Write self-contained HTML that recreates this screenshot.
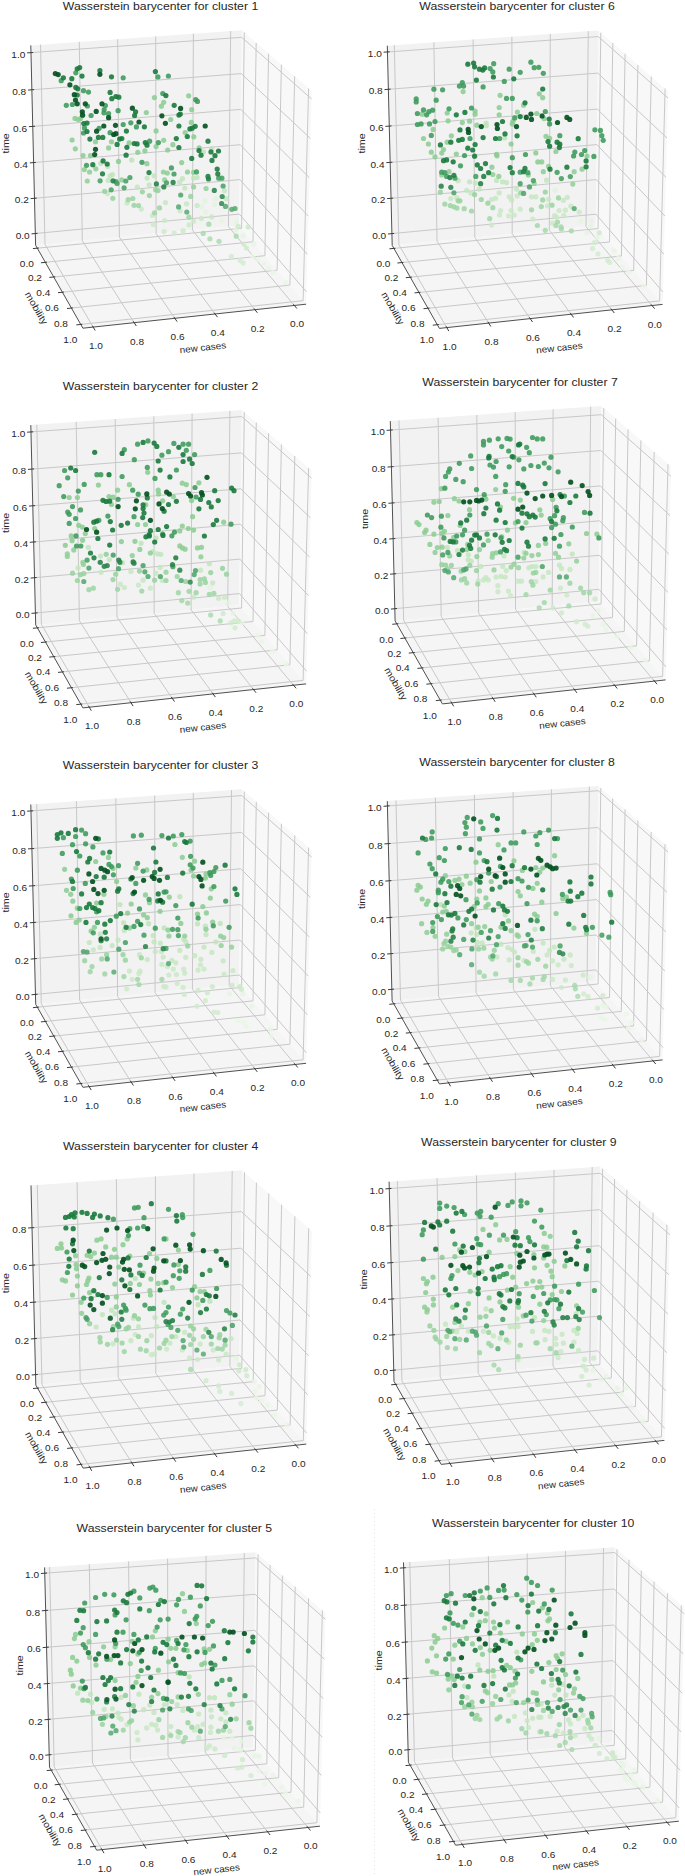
<!DOCTYPE html>
<html><head><meta charset="utf-8"><style>
html,body{margin:0;padding:0;background:#fff;overflow:hidden;}
svg{display:block;}
text{font-family:"Liberation Sans",sans-serif;fill:#262626;}
.tl text{font-size:9.3px;text-anchor:middle;}
.al{font-size:9.4px;text-anchor:middle;}
.tt{font-size:10.9px;text-anchor:middle;}
</style></head><body>
<svg width="685" height="1876" viewBox="0 0 685 1876">
<polygon points="35.6,245.2 239.2,225.5 241.8,30.2 30.8,45.4" fill="#f2f2f2"/>
<polygon points="239.2,225.5 306.1,304.2 311.7,91.1 241.8,30.2" fill="#f8f8f8"/>
<polygon points="35.6,245.2 239.2,225.5 306.1,304.2 82.9,328.2" fill="#f5f5f5"/>
<path d="M294.4 305.5L228.4 226.6L230.7 31.0M254.9 309.7L192.4 230.0L193.4 33.7M215.1 314.0L156.1 233.6L155.7 36.4M174.9 318.3L119.4 237.1L117.7 39.2M134.2 322.7L82.3 240.7L79.3 41.9M93.1 327.1L45.0 244.3L40.5 44.7M37.3 248.2L241.6 228.3L244.3 32.4M45.4 262.3L253.0 241.8L256.2 42.8M53.8 277.0L264.9 255.7L268.6 53.6M62.4 292.2L277.1 270.2L281.4 64.7M71.4 308.0L289.9 285.1L294.7 76.3M80.8 324.4L303.1 300.7L308.6 88.4M35.4 233.5L239.3 214.1L306.4 291.8M34.5 198.3L239.8 179.6L307.4 254.3M33.6 162.6L240.3 144.7L308.4 216.2M32.8 126.4L240.8 109.4L309.4 177.7M31.9 89.8L241.2 73.6L310.5 138.5M31.0 52.6L241.7 37.3L311.5 98.9" fill="none" stroke="#c8c8c8" stroke-width="1.0"/>
<path d="M30.8 45.4L35.6 245.2L82.9 328.2L306.1 304.2" fill="none" stroke="#505050" stroke-width="1.0"/>
<path d="M31.5 233.9L37.6 233.3M30.6 198.6L36.7 198.1M29.8 162.9L35.8 162.4M28.9 126.7L35.0 126.2M28.0 90.1L34.1 89.6M27.1 52.9L33.2 52.5M32.9 248.6L38.8 248.0M40.9 262.8L46.9 262.2M49.3 277.4L55.3 276.8M58.0 292.7L63.9 292.1M67.0 308.5L72.9 307.9M76.3 324.9L82.3 324.3M296.9 308.5L293.4 304.3M257.4 312.8L254.0 308.5M217.5 317.2L214.2 312.8M177.1 321.6L174.0 317.1M136.3 326.0L133.4 321.4M95.2 330.5L92.4 325.8" fill="none" stroke="#3a3a3a" stroke-width="1.0"/>
<g class="tl"><text x="22.7" y="238.7" textLength="14.0" lengthAdjust="spacingAndGlyphs">0.0</text><text x="21.8" y="203.4" textLength="14.0" lengthAdjust="spacingAndGlyphs">0.2</text><text x="20.9" y="167.7" textLength="14.0" lengthAdjust="spacingAndGlyphs">0.4</text><text x="20.1" y="131.6" textLength="14.0" lengthAdjust="spacingAndGlyphs">0.6</text><text x="19.2" y="94.9" textLength="14.0" lengthAdjust="spacingAndGlyphs">0.8</text><text x="18.3" y="57.8" textLength="14.0" lengthAdjust="spacingAndGlyphs">1.0</text><text x="26.8" y="266.8" textLength="14.0" lengthAdjust="spacingAndGlyphs">0.0</text><text x="34.9" y="281.0" textLength="14.0" lengthAdjust="spacingAndGlyphs">0.2</text><text x="43.3" y="295.6" textLength="14.0" lengthAdjust="spacingAndGlyphs">0.4</text><text x="51.9" y="310.9" textLength="14.0" lengthAdjust="spacingAndGlyphs">0.6</text><text x="60.9" y="326.7" textLength="14.0" lengthAdjust="spacingAndGlyphs">0.8</text><text x="70.3" y="343.1" textLength="14.0" lengthAdjust="spacingAndGlyphs">1.0</text><text x="297.1" y="327.4" textLength="14.0" lengthAdjust="spacingAndGlyphs">0.0</text><text x="257.7" y="331.6" textLength="14.0" lengthAdjust="spacingAndGlyphs">0.2</text><text x="217.8" y="335.9" textLength="14.0" lengthAdjust="spacingAndGlyphs">0.4</text><text x="177.6" y="340.2" textLength="14.0" lengthAdjust="spacingAndGlyphs">0.6</text><text x="137.0" y="344.6" textLength="14.0" lengthAdjust="spacingAndGlyphs">0.8</text><text x="95.9" y="349.0" textLength="14.0" lengthAdjust="spacingAndGlyphs">1.0</text></g>
<text class="al" transform="translate(8.8 143.3) rotate(-90)" textLength="20.2" lengthAdjust="spacingAndGlyphs">time</text>
<text class="al" transform="translate(36.5 308.0) rotate(60)" dy="3.4" textLength="36.1" lengthAdjust="spacingAndGlyphs">mobility</text>
<text class="al" transform="translate(202.9 348.3) rotate(-6)" dy="2.5" textLength="46.6" lengthAdjust="spacingAndGlyphs">new cases</text>
<circle cx="216.1" cy="198.7" r="2.6" fill="#e0f3dd" fill-opacity="0.8"/>
<circle cx="214.6" cy="204.5" r="2.6" fill="#e1f3de" fill-opacity="0.8"/>
<circle cx="205.1" cy="200.9" r="2.6" fill="#e1f3dd" fill-opacity="0.8"/>
<circle cx="201.5" cy="206.7" r="2.6" fill="#e1f3de" fill-opacity="0.8"/>
<circle cx="205.8" cy="211.8" r="2.6" fill="#e2f3df" fill-opacity="0.8"/>
<circle cx="221.9" cy="220.6" r="2.6" fill="#e3f4e0" fill-opacity="0.8"/>
<circle cx="236.5" cy="222.0" r="2.6" fill="#e3f4e0" fill-opacity="0.8"/>
<circle cx="243.1" cy="235.9" r="2.6" fill="#e5f5e2" fill-opacity="0.8"/>
<circle cx="254.0" cy="243.9" r="2.6" fill="#e6f5e3" fill-opacity="0.8"/>
<circle cx="252.6" cy="256.4" r="2.6" fill="#e8f6e5" fill-opacity="0.8"/>
<circle cx="257.7" cy="259.3" r="2.6" fill="#e8f6e6" fill-opacity="0.8"/>
<circle cx="264.2" cy="263.6" r="2.6" fill="#e8f6e6" fill-opacity="0.8"/>
<circle cx="273.0" cy="272.4" r="2.6" fill="#e8f6e6" fill-opacity="0.8"/>
<circle cx="268.6" cy="268.0" r="2.6" fill="#e8f6e6" fill-opacity="0.8"/>
<circle cx="286.1" cy="282.6" r="2.6" fill="#e8f6e6" fill-opacity="0.8"/>
<circle cx="235.8" cy="230.1" r="2.6" fill="#e4f4e1" fill-opacity="0.8"/>
<circle cx="203.4" cy="151.9" r="2.6" fill="#bce3b7" fill-opacity="0.82"/>
<circle cx="211.5" cy="148.7" r="2.6" fill="#bce3b7" fill-opacity="0.82"/>
<circle cx="224.5" cy="190.7" r="2.6" fill="#c2e6be" fill-opacity="0.82"/>
<circle cx="226.3" cy="198.7" r="2.6" fill="#c4e6c0" fill-opacity="0.82"/>
<circle cx="211.7" cy="216.9" r="2.6" fill="#c9e8c5" fill-opacity="0.82"/>
<circle cx="201.5" cy="218.4" r="2.6" fill="#c9e9c5" fill-opacity="0.82"/>
<circle cx="238.2" cy="226.4" r="2.6" fill="#cbe9c7" fill-opacity="0.82"/>
<circle cx="248.2" cy="226.9" r="2.6" fill="#cbe9c7" fill-opacity="0.82"/>
<circle cx="243.8" cy="243.9" r="2.6" fill="#cfebcc" fill-opacity="0.82"/>
<circle cx="246.4" cy="248.0" r="2.6" fill="#d0eccd" fill-opacity="0.82"/>
<circle cx="231.4" cy="256.4" r="2.6" fill="#d3eccf" fill-opacity="0.82"/>
<circle cx="240.1" cy="260.4" r="2.6" fill="#d3edd0" fill-opacity="0.82"/>
<circle cx="243.1" cy="262.9" r="2.6" fill="#d3edd0" fill-opacity="0.82"/>
<circle cx="131.7" cy="160.0" r="2.6" fill="#bce3b7" fill-opacity="0.82"/>
<circle cx="147.1" cy="178.1" r="2.6" fill="#bfe4ba" fill-opacity="0.82"/>
<circle cx="154.1" cy="175.8" r="2.6" fill="#bfe4ba" fill-opacity="0.82"/>
<circle cx="179.6" cy="182.2" r="2.6" fill="#c0e5bc" fill-opacity="0.82"/>
<circle cx="182.5" cy="178.7" r="2.6" fill="#bfe4bb" fill-opacity="0.82"/>
<circle cx="149.2" cy="184.8" r="2.6" fill="#c1e5bc" fill-opacity="0.82"/>
<circle cx="137.3" cy="187.2" r="2.6" fill="#c1e5bd" fill-opacity="0.82"/>
<circle cx="193.6" cy="178.1" r="2.6" fill="#bfe4ba" fill-opacity="0.82"/>
<circle cx="197.1" cy="177.5" r="2.6" fill="#bfe4ba" fill-opacity="0.82"/>
<circle cx="184.8" cy="188.0" r="2.6" fill="#c2e5bd" fill-opacity="0.82"/>
<circle cx="127.0" cy="203.0" r="2.6" fill="#c5e7c1" fill-opacity="0.82"/>
<circle cx="141.3" cy="209.1" r="2.6" fill="#c7e8c3" fill-opacity="0.82"/>
<circle cx="165.5" cy="202.6" r="2.6" fill="#c5e7c1" fill-opacity="0.82"/>
<circle cx="152.5" cy="215.5" r="2.6" fill="#c8e8c4" fill-opacity="0.82"/>
<circle cx="180.1" cy="210.8" r="2.6" fill="#c7e8c3" fill-opacity="0.82"/>
<circle cx="186.6" cy="203.8" r="2.6" fill="#c6e7c1" fill-opacity="0.82"/>
<circle cx="197.1" cy="205.5" r="2.6" fill="#c6e7c2" fill-opacity="0.82"/>
<circle cx="164.6" cy="220.5" r="2.6" fill="#cae9c6" fill-opacity="0.82"/>
<circle cx="153.3" cy="224.5" r="2.6" fill="#cbe9c7" fill-opacity="0.82"/>
<circle cx="189.1" cy="224.8" r="2.6" fill="#cbe9c7" fill-opacity="0.82"/>
<circle cx="193.6" cy="221.3" r="2.6" fill="#cae9c6" fill-opacity="0.82"/>
<circle cx="164.1" cy="231.5" r="2.6" fill="#cceac9" fill-opacity="0.82"/>
<circle cx="174.3" cy="233.0" r="2.6" fill="#cdeac9" fill-opacity="0.82"/>
<circle cx="183.1" cy="230.7" r="2.6" fill="#cceac8" fill-opacity="0.82"/>
<circle cx="100.7" cy="163.5" r="2.6" fill="#bce3b7" fill-opacity="0.82"/>
<circle cx="107.7" cy="166.4" r="2.6" fill="#bce3b7" fill-opacity="0.82"/>
<circle cx="110.1" cy="175.8" r="2.6" fill="#bfe4ba" fill-opacity="0.82"/>
<circle cx="112.4" cy="174.6" r="2.6" fill="#bee4ba" fill-opacity="0.82"/>
<circle cx="108.3" cy="180.4" r="2.6" fill="#c0e5bb" fill-opacity="0.82"/>
<circle cx="107.5" cy="193.6" r="2.6" fill="#c3e6bf" fill-opacity="0.82"/>
<circle cx="75.0" cy="118.4" r="2.6" fill="#8acd91" fill-opacity="0.85"/>
<circle cx="78.2" cy="119.6" r="2.6" fill="#8acd91" fill-opacity="0.85"/>
<circle cx="80.6" cy="118.4" r="2.6" fill="#8acd91" fill-opacity="0.85"/>
<circle cx="95.5" cy="141.8" r="2.6" fill="#8acd91" fill-opacity="0.85"/>
<circle cx="111.5" cy="141.8" r="2.6" fill="#8acd91" fill-opacity="0.85"/>
<circle cx="72.1" cy="140.0" r="2.6" fill="#8acd91" fill-opacity="0.85"/>
<circle cx="75.3" cy="148.8" r="2.6" fill="#8acd91" fill-opacity="0.85"/>
<circle cx="108.6" cy="147.9" r="2.6" fill="#8acd91" fill-opacity="0.85"/>
<circle cx="129.1" cy="142.9" r="2.6" fill="#8acd91" fill-opacity="0.85"/>
<circle cx="90.4" cy="155.6" r="2.6" fill="#8acd91" fill-opacity="0.85"/>
<circle cx="83.1" cy="155.6" r="2.6" fill="#8acd91" fill-opacity="0.85"/>
<circle cx="137.8" cy="152.3" r="2.6" fill="#8acd91" fill-opacity="0.85"/>
<circle cx="154.4" cy="97.6" r="2.6" fill="#8acd91" fill-opacity="0.85"/>
<circle cx="163.7" cy="102.3" r="2.6" fill="#8acd91" fill-opacity="0.85"/>
<circle cx="161.4" cy="106.2" r="2.6" fill="#8acd91" fill-opacity="0.85"/>
<circle cx="188.7" cy="95.8" r="2.6" fill="#8acd91" fill-opacity="0.85"/>
<circle cx="191.7" cy="109.7" r="2.6" fill="#8acd91" fill-opacity="0.85"/>
<circle cx="146.3" cy="112.5" r="2.6" fill="#8acd91" fill-opacity="0.85"/>
<circle cx="170.7" cy="119.5" r="2.6" fill="#8acd91" fill-opacity="0.85"/>
<circle cx="156.1" cy="130.9" r="2.6" fill="#8acd91" fill-opacity="0.85"/>
<circle cx="191.3" cy="122.4" r="2.6" fill="#8acd91" fill-opacity="0.85"/>
<circle cx="185.2" cy="132.6" r="2.6" fill="#8acd91" fill-opacity="0.85"/>
<circle cx="193.8" cy="136.8" r="2.6" fill="#8acd91" fill-opacity="0.85"/>
<circle cx="163.7" cy="140.3" r="2.6" fill="#8acd91" fill-opacity="0.85"/>
<circle cx="156.1" cy="146.6" r="2.6" fill="#8acd91" fill-opacity="0.85"/>
<circle cx="172.9" cy="144.7" r="2.6" fill="#8acd91" fill-opacity="0.85"/>
<circle cx="167.7" cy="150.0" r="2.6" fill="#8acd91" fill-opacity="0.85"/>
<circle cx="144.9" cy="150.8" r="2.6" fill="#8acd91" fill-opacity="0.85"/>
<circle cx="199.2" cy="147.9" r="2.6" fill="#8acd91" fill-opacity="0.85"/>
<circle cx="206.1" cy="188.5" r="2.6" fill="#94d19b" fill-opacity="0.85"/>
<circle cx="208.8" cy="224.2" r="2.6" fill="#a4d8a9" fill-opacity="0.85"/>
<circle cx="203.2" cy="233.4" r="2.6" fill="#a7daad" fill-opacity="0.85"/>
<circle cx="209.9" cy="238.8" r="2.6" fill="#aadbaf" fill-opacity="0.85"/>
<circle cx="219.0" cy="241.3" r="2.6" fill="#abdbb0" fill-opacity="0.85"/>
<circle cx="236.2" cy="236.2" r="2.6" fill="#a9daae" fill-opacity="0.85"/>
<circle cx="146.9" cy="163.7" r="2.6" fill="#8acd91" fill-opacity="0.85"/>
<circle cx="181.7" cy="162.6" r="2.6" fill="#8acd91" fill-opacity="0.85"/>
<circle cx="163.4" cy="172.0" r="2.6" fill="#8dce94" fill-opacity="0.85"/>
<circle cx="167.3" cy="173.1" r="2.6" fill="#8dce94" fill-opacity="0.85"/>
<circle cx="187.5" cy="172.0" r="2.6" fill="#8dce94" fill-opacity="0.85"/>
<circle cx="193.6" cy="172.3" r="2.6" fill="#8dce94" fill-opacity="0.85"/>
<circle cx="121.8" cy="179.9" r="2.6" fill="#90d097" fill-opacity="0.85"/>
<circle cx="164.6" cy="179.9" r="2.6" fill="#90d097" fill-opacity="0.85"/>
<circle cx="142.4" cy="191.8" r="2.6" fill="#96d29c" fill-opacity="0.85"/>
<circle cx="149.4" cy="195.6" r="2.6" fill="#97d39d" fill-opacity="0.85"/>
<circle cx="155.6" cy="189.8" r="2.6" fill="#95d29b" fill-opacity="0.85"/>
<circle cx="158.0" cy="190.6" r="2.6" fill="#95d29b" fill-opacity="0.85"/>
<circle cx="193.6" cy="186.9" r="2.6" fill="#93d19a" fill-opacity="0.85"/>
<circle cx="190.7" cy="196.4" r="2.6" fill="#98d39e" fill-opacity="0.85"/>
<circle cx="128.2" cy="199.7" r="2.6" fill="#99d39f" fill-opacity="0.85"/>
<circle cx="132.8" cy="198.5" r="2.6" fill="#98d39f" fill-opacity="0.85"/>
<circle cx="134.0" cy="205.3" r="2.6" fill="#9bd4a1" fill-opacity="0.85"/>
<circle cx="138.5" cy="205.5" r="2.6" fill="#9bd4a1" fill-opacity="0.85"/>
<circle cx="159.5" cy="207.9" r="2.6" fill="#9cd5a2" fill-opacity="0.85"/>
<circle cx="154.5" cy="212.8" r="2.6" fill="#9fd6a4" fill-opacity="0.85"/>
<circle cx="188.9" cy="217.2" r="2.6" fill="#a1d7a6" fill-opacity="0.85"/>
<circle cx="84.4" cy="169.6" r="2.6" fill="#8cce93" fill-opacity="0.85"/>
<circle cx="89.6" cy="172.0" r="2.6" fill="#8dce94" fill-opacity="0.85"/>
<circle cx="95.8" cy="168.8" r="2.6" fill="#8cce93" fill-opacity="0.85"/>
<circle cx="87.3" cy="181.0" r="2.6" fill="#91d097" fill-opacity="0.85"/>
<circle cx="118.5" cy="161.4" r="2.6" fill="#8acd91" fill-opacity="0.85"/>
<circle cx="104.6" cy="191.3" r="2.6" fill="#95d29c" fill-opacity="0.85"/>
<circle cx="112.8" cy="198.3" r="2.6" fill="#98d39e" fill-opacity="0.85"/>
<circle cx="61.2" cy="80.7" r="2.6" fill="#3a9a5a" fill-opacity="0.88"/>
<circle cx="75.8" cy="72.8" r="2.6" fill="#3a9a5a" fill-opacity="0.88"/>
<circle cx="123.2" cy="77.8" r="2.6" fill="#3a9a5a" fill-opacity="0.88"/>
<circle cx="83.5" cy="90.7" r="2.6" fill="#3a9a5a" fill-opacity="0.88"/>
<circle cx="88.5" cy="92.1" r="2.6" fill="#3a9a5a" fill-opacity="0.88"/>
<circle cx="87.4" cy="106.0" r="2.6" fill="#3a9a5a" fill-opacity="0.88"/>
<circle cx="66.3" cy="105.3" r="2.6" fill="#3a9a5a" fill-opacity="0.88"/>
<circle cx="72.4" cy="104.5" r="2.6" fill="#3a9a5a" fill-opacity="0.88"/>
<circle cx="105.4" cy="105.5" r="2.6" fill="#3a9a5a" fill-opacity="0.88"/>
<circle cx="91.1" cy="115.5" r="2.6" fill="#3a9a5a" fill-opacity="0.88"/>
<circle cx="104.2" cy="109.6" r="2.6" fill="#3a9a5a" fill-opacity="0.88"/>
<circle cx="103.9" cy="112.8" r="2.6" fill="#3a9a5a" fill-opacity="0.88"/>
<circle cx="108.6" cy="113.7" r="2.6" fill="#3a9a5a" fill-opacity="0.88"/>
<circle cx="118.1" cy="110.7" r="2.6" fill="#3a9a5a" fill-opacity="0.88"/>
<circle cx="84.5" cy="127.9" r="2.6" fill="#3a9a5a" fill-opacity="0.88"/>
<circle cx="83.5" cy="133.0" r="2.6" fill="#3a9a5a" fill-opacity="0.88"/>
<circle cx="99.1" cy="128.3" r="2.6" fill="#3a9a5a" fill-opacity="0.88"/>
<circle cx="123.2" cy="124.5" r="2.6" fill="#3a9a5a" fill-opacity="0.88"/>
<circle cx="130.8" cy="122.8" r="2.6" fill="#3a9a5a" fill-opacity="0.88"/>
<circle cx="136.4" cy="126.9" r="2.6" fill="#3a9a5a" fill-opacity="0.88"/>
<circle cx="110.1" cy="132.7" r="2.6" fill="#3a9a5a" fill-opacity="0.88"/>
<circle cx="157.9" cy="76.9" r="2.6" fill="#3a9a5a" fill-opacity="0.88"/>
<circle cx="168.4" cy="76.0" r="2.6" fill="#3a9a5a" fill-opacity="0.88"/>
<circle cx="162.8" cy="93.5" r="2.6" fill="#3a9a5a" fill-opacity="0.88"/>
<circle cx="195.7" cy="99.7" r="2.6" fill="#3a9a5a" fill-opacity="0.88"/>
<circle cx="197.5" cy="101.4" r="2.6" fill="#3a9a5a" fill-opacity="0.88"/>
<circle cx="158.4" cy="142.6" r="2.6" fill="#3a9a5a" fill-opacity="0.88"/>
<circle cx="149.6" cy="141.2" r="2.6" fill="#3a9a5a" fill-opacity="0.88"/>
<circle cx="218.7" cy="178.2" r="2.6" fill="#449f62" fill-opacity="0.88"/>
<circle cx="221.9" cy="178.2" r="2.6" fill="#449f62" fill-opacity="0.88"/>
<circle cx="223.1" cy="186.0" r="2.6" fill="#49a267" fill-opacity="0.88"/>
<circle cx="225.5" cy="206.4" r="2.6" fill="#58a973" fill-opacity="0.88"/>
<circle cx="231.8" cy="209.3" r="2.6" fill="#5aab75" fill-opacity="0.88"/>
<circle cx="235.0" cy="208.5" r="2.6" fill="#5aaa74" fill-opacity="0.88"/>
<circle cx="142.0" cy="162.3" r="2.6" fill="#3a9a5a" fill-opacity="0.88"/>
<circle cx="171.4" cy="167.9" r="2.6" fill="#3c9b5c" fill-opacity="0.88"/>
<circle cx="174.0" cy="174.0" r="2.6" fill="#419d5f" fill-opacity="0.88"/>
<circle cx="196.5" cy="171.9" r="2.6" fill="#3f9d5e" fill-opacity="0.88"/>
<circle cx="129.9" cy="177.5" r="2.6" fill="#439f62" fill-opacity="0.88"/>
<circle cx="125.8" cy="181.0" r="2.6" fill="#46a064" fill-opacity="0.88"/>
<circle cx="124.1" cy="187.8" r="2.6" fill="#4ba268" fill-opacity="0.88"/>
<circle cx="166.5" cy="182.8" r="2.6" fill="#47a165" fill-opacity="0.88"/>
<circle cx="180.7" cy="195.0" r="2.6" fill="#50a56c" fill-opacity="0.88"/>
<circle cx="178.6" cy="206.9" r="2.6" fill="#58aa74" fill-opacity="0.88"/>
<circle cx="186.8" cy="212.0" r="2.6" fill="#5cab77" fill-opacity="0.88"/>
<circle cx="86.5" cy="165.3" r="2.6" fill="#3a9a5a" fill-opacity="0.88"/>
<circle cx="100.1" cy="180.8" r="2.6" fill="#45a064" fill-opacity="0.88"/>
<circle cx="115.9" cy="181.6" r="2.6" fill="#46a064" fill-opacity="0.88"/>
<circle cx="117.1" cy="183.4" r="2.6" fill="#47a165" fill-opacity="0.88"/>
<circle cx="111.2" cy="189.8" r="2.6" fill="#4ca369" fill-opacity="0.88"/>
<circle cx="63.4" cy="77.8" r="2.6" fill="#1a7a3c" fill-opacity="0.9"/>
<circle cx="71.8" cy="78.7" r="2.6" fill="#1a7a3c" fill-opacity="0.9"/>
<circle cx="77.2" cy="68.8" r="2.6" fill="#1a7a3c" fill-opacity="0.9"/>
<circle cx="79.7" cy="67.6" r="2.6" fill="#1a7a3c" fill-opacity="0.9"/>
<circle cx="82.0" cy="76.1" r="2.6" fill="#1a7a3c" fill-opacity="0.9"/>
<circle cx="75.8" cy="87.4" r="2.6" fill="#1a7a3c" fill-opacity="0.9"/>
<circle cx="77.7" cy="88.8" r="2.6" fill="#1a7a3c" fill-opacity="0.9"/>
<circle cx="99.9" cy="70.5" r="2.6" fill="#1a7a3c" fill-opacity="0.9"/>
<circle cx="111.5" cy="76.8" r="2.6" fill="#1a7a3c" fill-opacity="0.9"/>
<circle cx="77.2" cy="95.0" r="2.6" fill="#1a7a3c" fill-opacity="0.9"/>
<circle cx="110.1" cy="92.4" r="2.6" fill="#1a7a3c" fill-opacity="0.9"/>
<circle cx="111.8" cy="98.7" r="2.6" fill="#1a7a3c" fill-opacity="0.9"/>
<circle cx="115.9" cy="96.5" r="2.6" fill="#1a7a3c" fill-opacity="0.9"/>
<circle cx="118.8" cy="97.2" r="2.6" fill="#1a7a3c" fill-opacity="0.9"/>
<circle cx="135.6" cy="111.8" r="2.6" fill="#1a7a3c" fill-opacity="0.9"/>
<circle cx="134.6" cy="115.5" r="2.6" fill="#1a7a3c" fill-opacity="0.9"/>
<circle cx="83.8" cy="123.5" r="2.6" fill="#1a7a3c" fill-opacity="0.9"/>
<circle cx="87.0" cy="123.1" r="2.6" fill="#1a7a3c" fill-opacity="0.9"/>
<circle cx="87.0" cy="131.5" r="2.6" fill="#1a7a3c" fill-opacity="0.9"/>
<circle cx="126.4" cy="131.1" r="2.6" fill="#1a7a3c" fill-opacity="0.9"/>
<circle cx="98.4" cy="137.4" r="2.6" fill="#1a7a3c" fill-opacity="0.9"/>
<circle cx="102.8" cy="137.4" r="2.6" fill="#1a7a3c" fill-opacity="0.9"/>
<circle cx="89.9" cy="139.1" r="2.6" fill="#1a7a3c" fill-opacity="0.9"/>
<circle cx="119.6" cy="139.1" r="2.6" fill="#1a7a3c" fill-opacity="0.9"/>
<circle cx="121.8" cy="138.5" r="2.6" fill="#1a7a3c" fill-opacity="0.9"/>
<circle cx="117.1" cy="144.4" r="2.6" fill="#1a7a3c" fill-opacity="0.9"/>
<circle cx="126.9" cy="147.3" r="2.6" fill="#1a7a3c" fill-opacity="0.9"/>
<circle cx="134.2" cy="143.5" r="2.6" fill="#1a7a3c" fill-opacity="0.9"/>
<circle cx="137.1" cy="143.9" r="2.6" fill="#1a7a3c" fill-opacity="0.9"/>
<circle cx="126.1" cy="155.2" r="2.6" fill="#1a7a3c" fill-opacity="0.9"/>
<circle cx="155.4" cy="71.6" r="2.6" fill="#1a7a3c" fill-opacity="0.9"/>
<circle cx="165.9" cy="95.6" r="2.6" fill="#1a7a3c" fill-opacity="0.9"/>
<circle cx="174.2" cy="105.3" r="2.6" fill="#1a7a3c" fill-opacity="0.9"/>
<circle cx="180.3" cy="114.0" r="2.6" fill="#1a7a3c" fill-opacity="0.9"/>
<circle cx="178.9" cy="115.1" r="2.6" fill="#1a7a3c" fill-opacity="0.9"/>
<circle cx="144.4" cy="126.8" r="2.6" fill="#1a7a3c" fill-opacity="0.9"/>
<circle cx="178.9" cy="126.0" r="2.6" fill="#1a7a3c" fill-opacity="0.9"/>
<circle cx="189.9" cy="128.9" r="2.6" fill="#1a7a3c" fill-opacity="0.9"/>
<circle cx="192.2" cy="128.2" r="2.6" fill="#1a7a3c" fill-opacity="0.9"/>
<circle cx="195.2" cy="126.3" r="2.6" fill="#1a7a3c" fill-opacity="0.9"/>
<circle cx="187.3" cy="136.5" r="2.6" fill="#1a7a3c" fill-opacity="0.9"/>
<circle cx="176.3" cy="138.6" r="2.6" fill="#1a7a3c" fill-opacity="0.9"/>
<circle cx="145.3" cy="142.6" r="2.6" fill="#1a7a3c" fill-opacity="0.9"/>
<circle cx="147.0" cy="145.2" r="2.6" fill="#1a7a3c" fill-opacity="0.9"/>
<circle cx="178.9" cy="147.5" r="2.6" fill="#1a7a3c" fill-opacity="0.9"/>
<circle cx="208.0" cy="141.2" r="2.6" fill="#1a7a3c" fill-opacity="0.9"/>
<circle cx="199.0" cy="150.5" r="2.6" fill="#1a7a3c" fill-opacity="0.9"/>
<circle cx="201.0" cy="155.2" r="2.6" fill="#1a7a3c" fill-opacity="0.9"/>
<circle cx="211.0" cy="151.9" r="2.6" fill="#1a7a3c" fill-opacity="0.9"/>
<circle cx="218.5" cy="151.0" r="2.6" fill="#1a7a3c" fill-opacity="0.9"/>
<circle cx="215.0" cy="155.7" r="2.6" fill="#1a7a3c" fill-opacity="0.9"/>
<circle cx="191.7" cy="158.4" r="2.6" fill="#1a7a3c" fill-opacity="0.9"/>
<circle cx="212.0" cy="160.4" r="2.6" fill="#1a7a3c" fill-opacity="0.9"/>
<circle cx="217.2" cy="169.1" r="2.6" fill="#1d7c3f" fill-opacity="0.9"/>
<circle cx="217.8" cy="173.9" r="2.6" fill="#217e42" fill-opacity="0.9"/>
<circle cx="208.0" cy="176.4" r="2.6" fill="#248044" fill-opacity="0.9"/>
<circle cx="208.5" cy="179.0" r="2.6" fill="#268146" fill-opacity="0.9"/>
<circle cx="214.3" cy="190.4" r="2.6" fill="#2f864e" fill-opacity="0.9"/>
<circle cx="222.2" cy="196.5" r="2.6" fill="#358953" fill-opacity="0.9"/>
<circle cx="221.6" cy="203.5" r="2.6" fill="#3a8d58" fill-opacity="0.9"/>
<circle cx="149.0" cy="172.6" r="2.6" fill="#207e41" fill-opacity="0.9"/>
<circle cx="156.4" cy="183.9" r="2.6" fill="#2a834a" fill-opacity="0.9"/>
<circle cx="163.8" cy="186.9" r="2.6" fill="#2c854c" fill-opacity="0.9"/>
<circle cx="173.1" cy="182.4" r="2.6" fill="#298349" fill-opacity="0.9"/>
<circle cx="92.8" cy="164.7" r="2.6" fill="#1a7a3c" fill-opacity="0.9"/>
<circle cx="103.1" cy="160.9" r="2.6" fill="#1a7a3c" fill-opacity="0.9"/>
<circle cx="107.2" cy="164.1" r="2.6" fill="#1a7a3c" fill-opacity="0.9"/>
<circle cx="102.5" cy="173.8" r="2.6" fill="#217e42" fill-opacity="0.9"/>
<circle cx="113.0" cy="180.8" r="2.6" fill="#278247" fill-opacity="0.9"/>
<circle cx="55.3" cy="73.6" r="2.6" fill="#055222" fill-opacity="0.92"/>
<circle cx="58.2" cy="74.6" r="2.6" fill="#055222" fill-opacity="0.92"/>
<circle cx="69.9" cy="84.8" r="2.6" fill="#055222" fill-opacity="0.92"/>
<circle cx="99.9" cy="74.3" r="2.6" fill="#055222" fill-opacity="0.92"/>
<circle cx="74.3" cy="94.7" r="2.6" fill="#055222" fill-opacity="0.92"/>
<circle cx="75.5" cy="100.1" r="2.6" fill="#055222" fill-opacity="0.92"/>
<circle cx="77.2" cy="103.8" r="2.6" fill="#055222" fill-opacity="0.92"/>
<circle cx="85.3" cy="103.8" r="2.6" fill="#055222" fill-opacity="0.92"/>
<circle cx="102.0" cy="103.8" r="2.6" fill="#055222" fill-opacity="0.92"/>
<circle cx="82.3" cy="111.8" r="2.6" fill="#055222" fill-opacity="0.92"/>
<circle cx="82.6" cy="115.2" r="2.6" fill="#055222" fill-opacity="0.92"/>
<circle cx="96.2" cy="111.4" r="2.6" fill="#055222" fill-opacity="0.92"/>
<circle cx="108.6" cy="117.7" r="2.6" fill="#055222" fill-opacity="0.92"/>
<circle cx="132.4" cy="108.2" r="2.6" fill="#055222" fill-opacity="0.92"/>
<circle cx="103.8" cy="126.0" r="2.6" fill="#055222" fill-opacity="0.92"/>
<circle cx="96.6" cy="131.2" r="2.6" fill="#055222" fill-opacity="0.92"/>
<circle cx="115.5" cy="125.3" r="2.6" fill="#055222" fill-opacity="0.92"/>
<circle cx="139.0" cy="122.0" r="2.6" fill="#055222" fill-opacity="0.92"/>
<circle cx="113.7" cy="134.5" r="2.6" fill="#055222" fill-opacity="0.92"/>
<circle cx="115.9" cy="133.7" r="2.6" fill="#055222" fill-opacity="0.92"/>
<circle cx="95.5" cy="149.3" r="2.6" fill="#055222" fill-opacity="0.92"/>
<circle cx="94.7" cy="154.6" r="2.6" fill="#055222" fill-opacity="0.92"/>
<circle cx="180.6" cy="108.4" r="2.6" fill="#055222" fill-opacity="0.92"/>
<circle cx="161.9" cy="115.8" r="2.6" fill="#055222" fill-opacity="0.92"/>
<circle cx="165.4" cy="123.3" r="2.6" fill="#055222" fill-opacity="0.92"/>
<circle cx="205.2" cy="126.0" r="2.6" fill="#055222" fill-opacity="0.92"/>
<text class="tt" x="160.5" y="10.0" textLength="195.4" lengthAdjust="spacingAndGlyphs">Wasserstein barycenter for cluster 1</text>
<polygon points="35.7,624.9 239.2,605.2 241.9,409.9 30.8,425.1" fill="#f2f2f2"/>
<polygon points="239.2,605.2 306.1,683.9 311.7,470.8 241.9,409.9" fill="#f8f8f8"/>
<polygon points="35.7,624.9 239.2,605.2 306.1,683.9 82.9,707.9" fill="#f5f5f5"/>
<path d="M293.5 685.2L227.7 606.3L229.9 410.8M253.5 689.5L191.1 609.9L192.1 413.5M213.1 693.9L154.2 613.4L153.8 416.3M172.2 698.3L117.0 617.0L115.2 419.0M131.0 702.7L79.4 620.7L76.2 421.9M89.3 707.2L41.4 624.3L36.8 424.7M37.4 627.8L241.6 608.0L244.3 412.1M45.4 642.0L253.0 621.5L256.3 422.5M53.8 656.7L264.9 635.4L268.6 433.3M62.5 671.9L277.2 649.9L281.4 444.4M71.5 687.7L289.9 664.8L294.8 456.0M80.8 704.1L303.1 680.4L308.6 468.1M35.4 613.0L239.4 593.6L306.5 671.2M34.5 577.7L239.8 559.1L307.4 633.7M33.7 542.0L240.3 524.2L308.4 595.6M32.8 505.8L240.8 488.8L309.5 557.0M31.9 469.1L241.3 452.9L310.5 517.8M31.0 431.9L241.8 416.6L311.5 478.1" fill="none" stroke="#c8c8c8" stroke-width="1.0"/>
<path d="M30.8 425.1L35.7 624.9L82.9 707.9L306.1 683.9" fill="none" stroke="#505050" stroke-width="1.0"/>
<path d="M31.5 613.4L37.6 612.8M30.6 578.1L36.7 577.5M29.8 542.3L35.9 541.8M28.9 506.1L35.0 505.6M28.0 469.4L34.1 468.9M27.1 432.2L33.2 431.8M32.9 628.3L38.9 627.7M40.9 642.5L46.9 641.9M49.3 657.1L55.3 656.5M58.0 672.4L63.9 671.8M67.0 688.2L72.9 687.6M76.3 704.6L82.3 704.0M296.1 688.3L292.6 684.1M256.0 692.7L252.6 688.4M215.4 697.1L212.2 692.7M174.5 701.6L171.4 697.0M133.1 706.1L130.2 701.4M91.3 710.7L88.5 705.9" fill="none" stroke="#3a3a3a" stroke-width="1.0"/>
<g class="tl"><text x="22.7" y="618.2" textLength="14.0" lengthAdjust="spacingAndGlyphs">0.0</text><text x="21.8" y="582.9" textLength="14.0" lengthAdjust="spacingAndGlyphs">0.2</text><text x="21.0" y="547.1" textLength="14.0" lengthAdjust="spacingAndGlyphs">0.4</text><text x="20.1" y="510.9" textLength="14.0" lengthAdjust="spacingAndGlyphs">0.6</text><text x="19.2" y="474.2" textLength="14.0" lengthAdjust="spacingAndGlyphs">0.8</text><text x="18.3" y="437.1" textLength="14.0" lengthAdjust="spacingAndGlyphs">1.0</text><text x="26.9" y="646.5" textLength="14.0" lengthAdjust="spacingAndGlyphs">0.0</text><text x="34.9" y="660.7" textLength="14.0" lengthAdjust="spacingAndGlyphs">0.2</text><text x="43.3" y="675.3" textLength="14.0" lengthAdjust="spacingAndGlyphs">0.4</text><text x="52.0" y="690.6" textLength="14.0" lengthAdjust="spacingAndGlyphs">0.6</text><text x="61.0" y="706.4" textLength="14.0" lengthAdjust="spacingAndGlyphs">0.8</text><text x="70.3" y="722.8" textLength="14.0" lengthAdjust="spacingAndGlyphs">1.0</text><text x="296.3" y="707.2" textLength="14.0" lengthAdjust="spacingAndGlyphs">0.0</text><text x="256.3" y="711.5" textLength="14.0" lengthAdjust="spacingAndGlyphs">0.2</text><text x="215.8" y="715.8" textLength="14.0" lengthAdjust="spacingAndGlyphs">0.4</text><text x="175.0" y="720.2" textLength="14.0" lengthAdjust="spacingAndGlyphs">0.6</text><text x="133.7" y="724.7" textLength="14.0" lengthAdjust="spacingAndGlyphs">0.8</text><text x="92.0" y="729.1" textLength="14.0" lengthAdjust="spacingAndGlyphs">1.0</text></g>
<text class="al" transform="translate(8.8 523.0) rotate(-90)" textLength="20.2" lengthAdjust="spacingAndGlyphs">time</text>
<text class="al" transform="translate(36.5 687.7) rotate(60)" dy="3.4" textLength="36.1" lengthAdjust="spacingAndGlyphs">mobility</text>
<text class="al" transform="translate(202.9 728.0) rotate(-6)" dy="2.5" textLength="46.6" lengthAdjust="spacingAndGlyphs">new cases</text>
<circle cx="241.9" cy="622.8" r="2.6" fill="#e6f5e3" fill-opacity="0.8"/>
<circle cx="257.6" cy="635.7" r="2.6" fill="#e8f6e5" fill-opacity="0.8"/>
<circle cx="261.6" cy="641.6" r="2.6" fill="#e8f6e6" fill-opacity="0.8"/>
<circle cx="272.4" cy="651.4" r="2.6" fill="#e8f6e6" fill-opacity="0.8"/>
<circle cx="286.2" cy="664.2" r="2.6" fill="#e8f6e6" fill-opacity="0.8"/>
<circle cx="228.1" cy="603.1" r="2.6" fill="#e4f4e0" fill-opacity="0.8"/>
<circle cx="233.0" cy="613.0" r="2.6" fill="#e5f5e2" fill-opacity="0.8"/>
<circle cx="210.3" cy="587.4" r="2.6" fill="#e2f3de" fill-opacity="0.8"/>
<circle cx="88.3" cy="547.3" r="2.6" fill="#bde3b8" fill-opacity="0.82"/>
<circle cx="100.5" cy="556.0" r="2.6" fill="#bfe4ba" fill-opacity="0.82"/>
<circle cx="141.1" cy="543.3" r="2.6" fill="#bce3b7" fill-opacity="0.82"/>
<circle cx="156.0" cy="538.1" r="2.6" fill="#bce3b7" fill-opacity="0.82"/>
<circle cx="152.9" cy="551.6" r="2.6" fill="#bee4b9" fill-opacity="0.82"/>
<circle cx="157.3" cy="553.8" r="2.6" fill="#bee4b9" fill-opacity="0.82"/>
<circle cx="160.8" cy="554.3" r="2.6" fill="#bee4ba" fill-opacity="0.82"/>
<circle cx="109.3" cy="559.6" r="2.6" fill="#c0e5bb" fill-opacity="0.82"/>
<circle cx="78.0" cy="567.8" r="2.6" fill="#c2e5bd" fill-opacity="0.82"/>
<circle cx="101.1" cy="572.3" r="2.6" fill="#c3e6be" fill-opacity="0.82"/>
<circle cx="122.5" cy="562.7" r="2.6" fill="#c0e5bc" fill-opacity="0.82"/>
<circle cx="130.9" cy="571.4" r="2.6" fill="#c3e6be" fill-opacity="0.82"/>
<circle cx="143.1" cy="580.2" r="2.6" fill="#c5e7c0" fill-opacity="0.82"/>
<circle cx="160.1" cy="567.4" r="2.6" fill="#c2e5bd" fill-opacity="0.82"/>
<circle cx="155.9" cy="573.2" r="2.6" fill="#c3e6bf" fill-opacity="0.82"/>
<circle cx="162.3" cy="580.5" r="2.6" fill="#c5e7c1" fill-opacity="0.82"/>
<circle cx="120.3" cy="584.2" r="2.6" fill="#c6e7c1" fill-opacity="0.82"/>
<circle cx="124.3" cy="587.5" r="2.6" fill="#c7e7c2" fill-opacity="0.82"/>
<circle cx="138.5" cy="585.1" r="2.6" fill="#c6e7c2" fill-opacity="0.82"/>
<circle cx="150.4" cy="588.2" r="2.6" fill="#c7e7c3" fill-opacity="0.82"/>
<circle cx="209.3" cy="563.7" r="2.6" fill="#c1e5bc" fill-opacity="0.82"/>
<circle cx="200.5" cy="570.2" r="2.6" fill="#c2e6be" fill-opacity="0.82"/>
<circle cx="212.7" cy="582.8" r="2.6" fill="#c5e7c1" fill-opacity="0.82"/>
<circle cx="193.6" cy="597.2" r="2.6" fill="#c9e8c5" fill-opacity="0.82"/>
<circle cx="218.6" cy="598.2" r="2.6" fill="#c9e9c5" fill-opacity="0.82"/>
<circle cx="224.5" cy="597.2" r="2.6" fill="#c9e8c5" fill-opacity="0.82"/>
<circle cx="223.1" cy="613.6" r="2.6" fill="#cdeac9" fill-opacity="0.82"/>
<circle cx="231.0" cy="622.8" r="2.6" fill="#cfebcc" fill-opacity="0.82"/>
<circle cx="234.4" cy="620.9" r="2.6" fill="#cfebcb" fill-opacity="0.82"/>
<circle cx="238.3" cy="620.9" r="2.6" fill="#cfebcb" fill-opacity="0.82"/>
<circle cx="235.0" cy="627.8" r="2.6" fill="#d1eccd" fill-opacity="0.82"/>
<circle cx="147.7" cy="472.3" r="2.6" fill="#8acd91" fill-opacity="0.85"/>
<circle cx="98.4" cy="485.1" r="2.6" fill="#8acd91" fill-opacity="0.85"/>
<circle cx="129.4" cy="484.7" r="2.6" fill="#8acd91" fill-opacity="0.85"/>
<circle cx="77.4" cy="497.5" r="2.6" fill="#8acd91" fill-opacity="0.85"/>
<circle cx="69.2" cy="497.5" r="2.6" fill="#8acd91" fill-opacity="0.85"/>
<circle cx="117.6" cy="490.2" r="2.6" fill="#8acd91" fill-opacity="0.85"/>
<circle cx="158.2" cy="490.2" r="2.6" fill="#8acd91" fill-opacity="0.85"/>
<circle cx="158.6" cy="493.9" r="2.6" fill="#8acd91" fill-opacity="0.85"/>
<circle cx="109.0" cy="496.6" r="2.6" fill="#8acd91" fill-opacity="0.85"/>
<circle cx="113.0" cy="497.2" r="2.6" fill="#8acd91" fill-opacity="0.85"/>
<circle cx="111.5" cy="504.5" r="2.6" fill="#8acd91" fill-opacity="0.85"/>
<circle cx="145.8" cy="504.8" r="2.6" fill="#8acd91" fill-opacity="0.85"/>
<circle cx="162.6" cy="500.8" r="2.6" fill="#8acd91" fill-opacity="0.85"/>
<circle cx="78.7" cy="525.3" r="2.6" fill="#8acd91" fill-opacity="0.85"/>
<circle cx="82.3" cy="527.1" r="2.6" fill="#8acd91" fill-opacity="0.85"/>
<circle cx="94.7" cy="528.5" r="2.6" fill="#8acd91" fill-opacity="0.85"/>
<circle cx="85.3" cy="533.6" r="2.6" fill="#8acd91" fill-opacity="0.85"/>
<circle cx="137.6" cy="524.5" r="2.6" fill="#8acd91" fill-opacity="0.85"/>
<circle cx="145.5" cy="524.5" r="2.6" fill="#8acd91" fill-opacity="0.85"/>
<circle cx="65.3" cy="545.3" r="2.6" fill="#8acd91" fill-opacity="0.85"/>
<circle cx="72.1" cy="540.7" r="2.6" fill="#8acd91" fill-opacity="0.85"/>
<circle cx="71.2" cy="535.9" r="2.6" fill="#8acd91" fill-opacity="0.85"/>
<circle cx="82.6" cy="540.3" r="2.6" fill="#8acd91" fill-opacity="0.85"/>
<circle cx="73.8" cy="549.9" r="2.6" fill="#8cce93" fill-opacity="0.85"/>
<circle cx="67.3" cy="553.8" r="2.6" fill="#8ecf95" fill-opacity="0.85"/>
<circle cx="67.3" cy="556.5" r="2.6" fill="#8fcf96" fill-opacity="0.85"/>
<circle cx="106.2" cy="554.3" r="2.6" fill="#8ecf95" fill-opacity="0.85"/>
<circle cx="121.4" cy="541.6" r="2.6" fill="#8acd91" fill-opacity="0.85"/>
<circle cx="135.0" cy="541.3" r="2.6" fill="#8acd91" fill-opacity="0.85"/>
<circle cx="139.8" cy="549.4" r="2.6" fill="#8cce93" fill-opacity="0.85"/>
<circle cx="150.3" cy="553.0" r="2.6" fill="#8ecf94" fill-opacity="0.85"/>
<circle cx="132.3" cy="555.6" r="2.6" fill="#8fcf95" fill-opacity="0.85"/>
<circle cx="182.3" cy="483.2" r="2.6" fill="#8acd91" fill-opacity="0.85"/>
<circle cx="186.3" cy="484.6" r="2.6" fill="#8acd91" fill-opacity="0.85"/>
<circle cx="198.9" cy="482.8" r="2.6" fill="#8acd91" fill-opacity="0.85"/>
<circle cx="173.3" cy="496.6" r="2.6" fill="#8acd91" fill-opacity="0.85"/>
<circle cx="191.6" cy="500.6" r="2.6" fill="#8acd91" fill-opacity="0.85"/>
<circle cx="192.6" cy="516.7" r="2.6" fill="#8acd91" fill-opacity="0.85"/>
<circle cx="182.3" cy="526.0" r="2.6" fill="#8acd91" fill-opacity="0.85"/>
<circle cx="188.3" cy="528.5" r="2.6" fill="#8acd91" fill-opacity="0.85"/>
<circle cx="193.6" cy="530.1" r="2.6" fill="#8acd91" fill-opacity="0.85"/>
<circle cx="179.8" cy="530.9" r="2.6" fill="#8acd91" fill-opacity="0.85"/>
<circle cx="223.7" cy="522.2" r="2.6" fill="#8acd91" fill-opacity="0.85"/>
<circle cx="179.8" cy="545.9" r="2.6" fill="#8bcd91" fill-opacity="0.85"/>
<circle cx="182.3" cy="547.9" r="2.6" fill="#8bce92" fill-opacity="0.85"/>
<circle cx="185.1" cy="549.2" r="2.6" fill="#8cce93" fill-opacity="0.85"/>
<circle cx="197.5" cy="547.9" r="2.6" fill="#8bce92" fill-opacity="0.85"/>
<circle cx="201.5" cy="547.3" r="2.6" fill="#8bcd92" fill-opacity="0.85"/>
<circle cx="82.9" cy="562.3" r="2.6" fill="#92d098" fill-opacity="0.85"/>
<circle cx="83.4" cy="564.5" r="2.6" fill="#93d199" fill-opacity="0.85"/>
<circle cx="72.5" cy="573.2" r="2.6" fill="#96d29d" fill-opacity="0.85"/>
<circle cx="80.5" cy="574.7" r="2.6" fill="#97d39d" fill-opacity="0.85"/>
<circle cx="83.8" cy="573.6" r="2.6" fill="#96d29d" fill-opacity="0.85"/>
<circle cx="77.4" cy="580.5" r="2.6" fill="#99d4a0" fill-opacity="0.85"/>
<circle cx="115.7" cy="574.2" r="2.6" fill="#97d29d" fill-opacity="0.85"/>
<circle cx="113.0" cy="579.6" r="2.6" fill="#99d39f" fill-opacity="0.85"/>
<circle cx="139.5" cy="571.1" r="2.6" fill="#95d29c" fill-opacity="0.85"/>
<circle cx="154.6" cy="580.2" r="2.6" fill="#99d49f" fill-opacity="0.85"/>
<circle cx="88.9" cy="589.7" r="2.6" fill="#9dd5a3" fill-opacity="0.85"/>
<circle cx="93.3" cy="588.2" r="2.6" fill="#9dd5a3" fill-opacity="0.85"/>
<circle cx="117.6" cy="589.3" r="2.6" fill="#9dd5a3" fill-opacity="0.85"/>
<circle cx="141.8" cy="591.1" r="2.6" fill="#9ed6a4" fill-opacity="0.85"/>
<circle cx="200.9" cy="556.8" r="2.6" fill="#8fcf96" fill-opacity="0.85"/>
<circle cx="166.0" cy="572.2" r="2.6" fill="#96d29c" fill-opacity="0.85"/>
<circle cx="166.0" cy="580.5" r="2.6" fill="#99d49f" fill-opacity="0.85"/>
<circle cx="177.2" cy="576.5" r="2.6" fill="#98d39e" fill-opacity="0.85"/>
<circle cx="185.7" cy="581.5" r="2.6" fill="#9ad4a0" fill-opacity="0.85"/>
<circle cx="200.1" cy="579.5" r="2.6" fill="#99d39f" fill-opacity="0.85"/>
<circle cx="204.4" cy="578.9" r="2.6" fill="#99d39f" fill-opacity="0.85"/>
<circle cx="205.4" cy="582.4" r="2.6" fill="#9ad4a0" fill-opacity="0.85"/>
<circle cx="200.1" cy="584.0" r="2.6" fill="#9bd4a1" fill-opacity="0.85"/>
<circle cx="210.7" cy="572.6" r="2.6" fill="#96d29c" fill-opacity="0.85"/>
<circle cx="222.5" cy="568.3" r="2.6" fill="#94d19b" fill-opacity="0.85"/>
<circle cx="226.5" cy="574.2" r="2.6" fill="#97d29d" fill-opacity="0.85"/>
<circle cx="178.4" cy="592.7" r="2.6" fill="#9fd6a4" fill-opacity="0.85"/>
<circle cx="189.0" cy="591.3" r="2.6" fill="#9ed6a4" fill-opacity="0.85"/>
<circle cx="196.1" cy="592.7" r="2.6" fill="#9fd6a4" fill-opacity="0.85"/>
<circle cx="209.3" cy="594.3" r="2.6" fill="#9fd6a5" fill-opacity="0.85"/>
<circle cx="213.9" cy="593.3" r="2.6" fill="#9fd6a5" fill-opacity="0.85"/>
<circle cx="181.8" cy="600.6" r="2.6" fill="#a2d7a8" fill-opacity="0.85"/>
<circle cx="187.7" cy="603.1" r="2.6" fill="#a3d8a9" fill-opacity="0.85"/>
<circle cx="210.7" cy="615.0" r="2.6" fill="#a8daad" fill-opacity="0.85"/>
<circle cx="220.2" cy="620.9" r="2.6" fill="#abdbb0" fill-opacity="0.85"/>
<circle cx="124.3" cy="449.7" r="2.6" fill="#3a9a5a" fill-opacity="0.88"/>
<circle cx="137.6" cy="444.2" r="2.6" fill="#3a9a5a" fill-opacity="0.88"/>
<circle cx="148.0" cy="440.9" r="2.6" fill="#3a9a5a" fill-opacity="0.88"/>
<circle cx="161.9" cy="455.2" r="2.6" fill="#3a9a5a" fill-opacity="0.88"/>
<circle cx="134.3" cy="459.7" r="2.6" fill="#3a9a5a" fill-opacity="0.88"/>
<circle cx="64.6" cy="470.5" r="2.6" fill="#3a9a5a" fill-opacity="0.88"/>
<circle cx="67.7" cy="477.8" r="2.6" fill="#3a9a5a" fill-opacity="0.88"/>
<circle cx="96.9" cy="474.7" r="2.6" fill="#3a9a5a" fill-opacity="0.88"/>
<circle cx="100.8" cy="474.7" r="2.6" fill="#3a9a5a" fill-opacity="0.88"/>
<circle cx="122.1" cy="476.5" r="2.6" fill="#3a9a5a" fill-opacity="0.88"/>
<circle cx="147.3" cy="467.4" r="2.6" fill="#3a9a5a" fill-opacity="0.88"/>
<circle cx="155.0" cy="478.4" r="2.6" fill="#3a9a5a" fill-opacity="0.88"/>
<circle cx="59.2" cy="485.7" r="2.6" fill="#3a9a5a" fill-opacity="0.88"/>
<circle cx="84.2" cy="484.4" r="2.6" fill="#3a9a5a" fill-opacity="0.88"/>
<circle cx="132.7" cy="490.2" r="2.6" fill="#3a9a5a" fill-opacity="0.88"/>
<circle cx="138.2" cy="494.2" r="2.6" fill="#3a9a5a" fill-opacity="0.88"/>
<circle cx="78.3" cy="491.1" r="2.6" fill="#3a9a5a" fill-opacity="0.88"/>
<circle cx="63.7" cy="496.6" r="2.6" fill="#3a9a5a" fill-opacity="0.88"/>
<circle cx="118.1" cy="499.3" r="2.6" fill="#3a9a5a" fill-opacity="0.88"/>
<circle cx="72.5" cy="506.6" r="2.6" fill="#3a9a5a" fill-opacity="0.88"/>
<circle cx="80.5" cy="509.9" r="2.6" fill="#3a9a5a" fill-opacity="0.88"/>
<circle cx="67.7" cy="512.1" r="2.6" fill="#3a9a5a" fill-opacity="0.88"/>
<circle cx="69.2" cy="514.3" r="2.6" fill="#3a9a5a" fill-opacity="0.88"/>
<circle cx="75.6" cy="518.5" r="2.6" fill="#3a9a5a" fill-opacity="0.88"/>
<circle cx="107.9" cy="516.1" r="2.6" fill="#3a9a5a" fill-opacity="0.88"/>
<circle cx="134.0" cy="516.7" r="2.6" fill="#3a9a5a" fill-opacity="0.88"/>
<circle cx="98.8" cy="520.3" r="2.6" fill="#3a9a5a" fill-opacity="0.88"/>
<circle cx="69.2" cy="523.4" r="2.6" fill="#3a9a5a" fill-opacity="0.88"/>
<circle cx="162.6" cy="534.0" r="2.6" fill="#3a9a5a" fill-opacity="0.88"/>
<circle cx="76.0" cy="535.9" r="2.6" fill="#3a9a5a" fill-opacity="0.88"/>
<circle cx="76.5" cy="546.0" r="2.6" fill="#3b9a5b" fill-opacity="0.88"/>
<circle cx="80.8" cy="546.0" r="2.6" fill="#3b9a5b" fill-opacity="0.88"/>
<circle cx="113.2" cy="555.1" r="2.6" fill="#429e60" fill-opacity="0.88"/>
<circle cx="173.9" cy="443.4" r="2.6" fill="#3a9a5a" fill-opacity="0.88"/>
<circle cx="183.1" cy="444.2" r="2.6" fill="#3a9a5a" fill-opacity="0.88"/>
<circle cx="188.6" cy="444.2" r="2.6" fill="#3a9a5a" fill-opacity="0.88"/>
<circle cx="168.5" cy="451.7" r="2.6" fill="#3a9a5a" fill-opacity="0.88"/>
<circle cx="186.3" cy="450.3" r="2.6" fill="#3a9a5a" fill-opacity="0.88"/>
<circle cx="194.6" cy="454.6" r="2.6" fill="#3a9a5a" fill-opacity="0.88"/>
<circle cx="176.4" cy="470.0" r="2.6" fill="#3a9a5a" fill-opacity="0.88"/>
<circle cx="195.0" cy="487.5" r="2.6" fill="#3a9a5a" fill-opacity="0.88"/>
<circle cx="196.1" cy="497.0" r="2.6" fill="#3a9a5a" fill-opacity="0.88"/>
<circle cx="174.5" cy="532.1" r="2.6" fill="#3a9a5a" fill-opacity="0.88"/>
<circle cx="171.9" cy="535.8" r="2.6" fill="#3a9a5a" fill-opacity="0.88"/>
<circle cx="231.0" cy="524.2" r="2.6" fill="#3a9a5a" fill-opacity="0.88"/>
<circle cx="87.1" cy="560.1" r="2.6" fill="#45a063" fill-opacity="0.88"/>
<circle cx="88.9" cy="568.1" r="2.6" fill="#4ba368" fill-opacity="0.88"/>
<circle cx="83.8" cy="581.5" r="2.6" fill="#55a870" fill-opacity="0.88"/>
<circle cx="118.5" cy="568.7" r="2.6" fill="#4ba369" fill-opacity="0.88"/>
<circle cx="143.1" cy="565.6" r="2.6" fill="#49a267" fill-opacity="0.88"/>
<circle cx="144.9" cy="571.8" r="2.6" fill="#4ea46a" fill-opacity="0.88"/>
<circle cx="148.0" cy="576.5" r="2.6" fill="#51a66d" fill-opacity="0.88"/>
<circle cx="160.4" cy="576.5" r="2.6" fill="#51a66d" fill-opacity="0.88"/>
<circle cx="172.9" cy="566.7" r="2.6" fill="#4aa267" fill-opacity="0.88"/>
<circle cx="195.5" cy="570.6" r="2.6" fill="#4da46a" fill-opacity="0.88"/>
<circle cx="194.2" cy="574.6" r="2.6" fill="#50a56c" fill-opacity="0.88"/>
<circle cx="181.2" cy="580.5" r="2.6" fill="#54a770" fill-opacity="0.88"/>
<circle cx="94.7" cy="452.3" r="2.6" fill="#1a7a3c" fill-opacity="0.9"/>
<circle cx="122.1" cy="453.4" r="2.6" fill="#1a7a3c" fill-opacity="0.9"/>
<circle cx="143.1" cy="442.4" r="2.6" fill="#1a7a3c" fill-opacity="0.9"/>
<circle cx="154.1" cy="443.1" r="2.6" fill="#1a7a3c" fill-opacity="0.9"/>
<circle cx="156.8" cy="446.4" r="2.6" fill="#1a7a3c" fill-opacity="0.9"/>
<circle cx="158.2" cy="461.0" r="2.6" fill="#1a7a3c" fill-opacity="0.9"/>
<circle cx="70.7" cy="468.0" r="2.6" fill="#1a7a3c" fill-opacity="0.9"/>
<circle cx="75.6" cy="470.5" r="2.6" fill="#1a7a3c" fill-opacity="0.9"/>
<circle cx="109.0" cy="474.7" r="2.6" fill="#1a7a3c" fill-opacity="0.9"/>
<circle cx="160.1" cy="470.1" r="2.6" fill="#1a7a3c" fill-opacity="0.9"/>
<circle cx="147.3" cy="497.9" r="2.6" fill="#1a7a3c" fill-opacity="0.9"/>
<circle cx="103.0" cy="500.3" r="2.6" fill="#1a7a3c" fill-opacity="0.9"/>
<circle cx="106.1" cy="501.5" r="2.6" fill="#1a7a3c" fill-opacity="0.9"/>
<circle cx="109.7" cy="501.2" r="2.6" fill="#1a7a3c" fill-opacity="0.9"/>
<circle cx="143.1" cy="504.8" r="2.6" fill="#1a7a3c" fill-opacity="0.9"/>
<circle cx="143.1" cy="508.5" r="2.6" fill="#1a7a3c" fill-opacity="0.9"/>
<circle cx="144.0" cy="513.0" r="2.6" fill="#1a7a3c" fill-opacity="0.9"/>
<circle cx="142.7" cy="517.6" r="2.6" fill="#1a7a3c" fill-opacity="0.9"/>
<circle cx="164.1" cy="511.2" r="2.6" fill="#1a7a3c" fill-opacity="0.9"/>
<circle cx="110.3" cy="521.6" r="2.6" fill="#1a7a3c" fill-opacity="0.9"/>
<circle cx="93.8" cy="522.2" r="2.6" fill="#1a7a3c" fill-opacity="0.9"/>
<circle cx="96.6" cy="521.2" r="2.6" fill="#1a7a3c" fill-opacity="0.9"/>
<circle cx="112.6" cy="530.0" r="2.6" fill="#1a7a3c" fill-opacity="0.9"/>
<circle cx="121.2" cy="525.3" r="2.6" fill="#1a7a3c" fill-opacity="0.9"/>
<circle cx="127.6" cy="523.1" r="2.6" fill="#1a7a3c" fill-opacity="0.9"/>
<circle cx="150.4" cy="530.7" r="2.6" fill="#1a7a3c" fill-opacity="0.9"/>
<circle cx="158.2" cy="529.5" r="2.6" fill="#1a7a3c" fill-opacity="0.9"/>
<circle cx="149.1" cy="534.9" r="2.6" fill="#1a7a3c" fill-opacity="0.9"/>
<circle cx="97.9" cy="538.5" r="2.6" fill="#1a7a3c" fill-opacity="0.9"/>
<circle cx="90.5" cy="553.0" r="2.6" fill="#217e42" fill-opacity="0.9"/>
<circle cx="94.0" cy="557.8" r="2.6" fill="#258045" fill-opacity="0.9"/>
<circle cx="109.7" cy="545.1" r="2.6" fill="#1a7a3c" fill-opacity="0.9"/>
<circle cx="145.9" cy="536.8" r="2.6" fill="#1a7a3c" fill-opacity="0.9"/>
<circle cx="149.4" cy="535.9" r="2.6" fill="#1a7a3c" fill-opacity="0.9"/>
<circle cx="154.7" cy="542.0" r="2.6" fill="#1a7a3c" fill-opacity="0.9"/>
<circle cx="163.0" cy="535.4" r="2.6" fill="#1a7a3c" fill-opacity="0.9"/>
<circle cx="178.8" cy="447.3" r="2.6" fill="#1a7a3c" fill-opacity="0.9"/>
<circle cx="183.1" cy="454.6" r="2.6" fill="#1a7a3c" fill-opacity="0.9"/>
<circle cx="189.6" cy="459.2" r="2.6" fill="#1a7a3c" fill-opacity="0.9"/>
<circle cx="192.2" cy="463.5" r="2.6" fill="#1a7a3c" fill-opacity="0.9"/>
<circle cx="183.1" cy="461.5" r="2.6" fill="#1a7a3c" fill-opacity="0.9"/>
<circle cx="169.9" cy="476.9" r="2.6" fill="#1a7a3c" fill-opacity="0.9"/>
<circle cx="176.4" cy="501.3" r="2.6" fill="#1a7a3c" fill-opacity="0.9"/>
<circle cx="168.5" cy="504.5" r="2.6" fill="#1a7a3c" fill-opacity="0.9"/>
<circle cx="200.5" cy="499.4" r="2.6" fill="#1a7a3c" fill-opacity="0.9"/>
<circle cx="214.7" cy="490.7" r="2.6" fill="#1a7a3c" fill-opacity="0.9"/>
<circle cx="231.6" cy="488.1" r="2.6" fill="#1a7a3c" fill-opacity="0.9"/>
<circle cx="234.0" cy="490.7" r="2.6" fill="#1a7a3c" fill-opacity="0.9"/>
<circle cx="218.2" cy="500.6" r="2.6" fill="#1a7a3c" fill-opacity="0.9"/>
<circle cx="208.8" cy="502.5" r="2.6" fill="#1a7a3c" fill-opacity="0.9"/>
<circle cx="211.3" cy="506.9" r="2.6" fill="#1a7a3c" fill-opacity="0.9"/>
<circle cx="198.9" cy="508.8" r="2.6" fill="#1a7a3c" fill-opacity="0.9"/>
<circle cx="166.6" cy="526.6" r="2.6" fill="#1a7a3c" fill-opacity="0.9"/>
<circle cx="213.3" cy="524.6" r="2.6" fill="#1a7a3c" fill-opacity="0.9"/>
<circle cx="216.6" cy="520.3" r="2.6" fill="#1a7a3c" fill-opacity="0.9"/>
<circle cx="204.4" cy="536.0" r="2.6" fill="#1a7a3c" fill-opacity="0.9"/>
<circle cx="100.2" cy="562.3" r="2.6" fill="#298349" fill-opacity="0.9"/>
<circle cx="104.2" cy="566.3" r="2.6" fill="#2c854c" fill-opacity="0.9"/>
<circle cx="107.2" cy="565.6" r="2.6" fill="#2c844b" fill-opacity="0.9"/>
<circle cx="118.8" cy="560.1" r="2.6" fill="#278247" fill-opacity="0.9"/>
<circle cx="119.9" cy="562.3" r="2.6" fill="#298349" fill-opacity="0.9"/>
<circle cx="133.1" cy="561.9" r="2.6" fill="#298248" fill-opacity="0.9"/>
<circle cx="134.0" cy="563.2" r="2.6" fill="#2a8349" fill-opacity="0.9"/>
<circle cx="175.8" cy="557.8" r="2.6" fill="#258045" fill-opacity="0.9"/>
<circle cx="172.5" cy="564.7" r="2.6" fill="#2b844a" fill-opacity="0.9"/>
<circle cx="179.8" cy="570.2" r="2.6" fill="#30874e" fill-opacity="0.9"/>
<circle cx="190.2" cy="582.1" r="2.6" fill="#3a8c57" fill-opacity="0.9"/>
<circle cx="146.8" cy="493.9" r="2.6" fill="#055222" fill-opacity="0.92"/>
<circle cx="118.1" cy="506.6" r="2.6" fill="#055222" fill-opacity="0.92"/>
<circle cx="136.4" cy="500.8" r="2.6" fill="#055222" fill-opacity="0.92"/>
<circle cx="135.3" cy="508.8" r="2.6" fill="#055222" fill-opacity="0.92"/>
<circle cx="159.0" cy="503.9" r="2.6" fill="#055222" fill-opacity="0.92"/>
<circle cx="162.3" cy="508.5" r="2.6" fill="#055222" fill-opacity="0.92"/>
<circle cx="150.4" cy="520.3" r="2.6" fill="#055222" fill-opacity="0.92"/>
<circle cx="86.5" cy="529.5" r="2.6" fill="#055222" fill-opacity="0.92"/>
<circle cx="96.6" cy="532.2" r="2.6" fill="#055222" fill-opacity="0.92"/>
<circle cx="207.0" cy="477.3" r="2.6" fill="#055222" fill-opacity="0.92"/>
<circle cx="166.6" cy="492.1" r="2.6" fill="#055222" fill-opacity="0.92"/>
<circle cx="169.3" cy="494.1" r="2.6" fill="#055222" fill-opacity="0.92"/>
<circle cx="188.6" cy="493.5" r="2.6" fill="#055222" fill-opacity="0.92"/>
<circle cx="190.6" cy="496.0" r="2.6" fill="#055222" fill-opacity="0.92"/>
<circle cx="201.5" cy="492.7" r="2.6" fill="#055222" fill-opacity="0.92"/>
<circle cx="202.4" cy="495.0" r="2.6" fill="#055222" fill-opacity="0.92"/>
<text class="tt" x="160.5" y="389.7" textLength="195.4" lengthAdjust="spacingAndGlyphs">Wasserstein barycenter for cluster 2</text>
<polygon points="35.7,1004.3 239.2,984.6 241.9,789.3 30.8,804.5" fill="#f2f2f2"/>
<polygon points="239.2,984.6 306.1,1063.3 311.7,850.2 241.9,789.3" fill="#f8f8f8"/>
<polygon points="35.7,1004.3 239.2,984.6 306.1,1063.3 82.9,1087.3" fill="#f5f5f5"/>
<path d="M295.2 1064.5L229.2 985.6L231.5 790.1M254.9 1068.8L192.4 989.1L193.3 792.8M214.1 1073.2L155.1 992.7L154.7 795.6M172.9 1077.6L117.6 996.4L115.8 798.4M131.2 1082.1L79.6 1000.0L76.4 801.2M89.2 1086.6L41.3 1003.7L36.7 804.1M37.4 1007.2L241.6 987.4L244.3 791.5M45.4 1021.4L253.0 1000.9L256.3 801.9M53.8 1036.1L264.9 1014.8L268.6 812.7M62.5 1051.3L277.2 1029.3L281.4 823.8M71.5 1067.1L289.9 1044.2L294.8 835.4M80.8 1083.5L303.1 1059.8L308.6 847.5M35.4 994.4L239.3 975.0L306.4 1052.8M34.6 958.7L239.8 940.0L307.4 1014.8M33.7 922.5L240.3 904.6L308.4 976.2M32.8 885.8L240.8 868.8L309.4 937.1M31.9 848.6L241.3 832.4L310.5 897.4M31.0 810.9L241.8 795.6L311.6 857.1" fill="none" stroke="#c8c8c8" stroke-width="1.0"/>
<path d="M30.8 804.5L35.7 1004.3L82.9 1087.3L306.1 1063.3" fill="none" stroke="#505050" stroke-width="1.0"/>
<path d="M31.5 994.8L37.6 994.2M30.7 959.1L36.8 958.5M29.8 922.8L35.9 922.3M28.9 886.1L35.0 885.6M28.0 848.9L34.1 848.5M27.1 811.2L33.2 810.8M32.9 1007.7L38.9 1007.1M40.9 1021.9L46.9 1021.3M49.3 1036.5L55.3 1035.9M58.0 1051.8L63.9 1051.2M67.0 1067.6L72.9 1067.0M76.3 1084.0L82.3 1083.4M297.8 1067.5L294.3 1063.3M257.3 1071.9L253.9 1067.6M216.4 1076.4L213.2 1072.0M175.1 1080.9L172.0 1076.4M133.4 1085.5L130.4 1080.8M91.2 1090.1L88.4 1085.3" fill="none" stroke="#3a3a3a" stroke-width="1.0"/>
<g class="tl"><text x="22.7" y="999.6" textLength="14.0" lengthAdjust="spacingAndGlyphs">0.0</text><text x="21.9" y="963.9" textLength="14.0" lengthAdjust="spacingAndGlyphs">0.2</text><text x="21.0" y="927.6" textLength="14.0" lengthAdjust="spacingAndGlyphs">0.4</text><text x="20.1" y="891.0" textLength="14.0" lengthAdjust="spacingAndGlyphs">0.6</text><text x="19.2" y="853.8" textLength="14.0" lengthAdjust="spacingAndGlyphs">0.8</text><text x="18.3" y="816.1" textLength="14.0" lengthAdjust="spacingAndGlyphs">1.0</text><text x="26.9" y="1025.9" textLength="14.0" lengthAdjust="spacingAndGlyphs">0.0</text><text x="34.9" y="1040.1" textLength="14.0" lengthAdjust="spacingAndGlyphs">0.2</text><text x="43.3" y="1054.7" textLength="14.0" lengthAdjust="spacingAndGlyphs">0.4</text><text x="52.0" y="1070.0" textLength="14.0" lengthAdjust="spacingAndGlyphs">0.6</text><text x="61.0" y="1085.8" textLength="14.0" lengthAdjust="spacingAndGlyphs">0.8</text><text x="70.3" y="1102.2" textLength="14.0" lengthAdjust="spacingAndGlyphs">1.0</text><text x="298.0" y="1086.4" textLength="14.0" lengthAdjust="spacingAndGlyphs">0.0</text><text x="257.6" y="1090.7" textLength="14.0" lengthAdjust="spacingAndGlyphs">0.2</text><text x="216.8" y="1095.1" textLength="14.0" lengthAdjust="spacingAndGlyphs">0.4</text><text x="175.6" y="1099.6" textLength="14.0" lengthAdjust="spacingAndGlyphs">0.6</text><text x="134.0" y="1104.0" textLength="14.0" lengthAdjust="spacingAndGlyphs">0.8</text><text x="91.9" y="1108.6" textLength="14.0" lengthAdjust="spacingAndGlyphs">1.0</text></g>
<text class="al" transform="translate(8.8 902.4) rotate(-90)" textLength="20.2" lengthAdjust="spacingAndGlyphs">time</text>
<text class="al" transform="translate(36.5 1067.1) rotate(60)" dy="3.4" textLength="36.1" lengthAdjust="spacingAndGlyphs">mobility</text>
<text class="al" transform="translate(202.9 1107.4) rotate(-6)" dy="2.5" textLength="46.6" lengthAdjust="spacingAndGlyphs">new cases</text>
<circle cx="242.8" cy="993.8" r="2.6" fill="#e5f5e2" fill-opacity="0.8"/>
<circle cx="229.6" cy="993.8" r="2.6" fill="#e5f5e2" fill-opacity="0.8"/>
<circle cx="251.7" cy="1006.2" r="2.6" fill="#e7f5e4" fill-opacity="0.8"/>
<circle cx="238.3" cy="1020.4" r="2.6" fill="#e8f6e6" fill-opacity="0.8"/>
<circle cx="243.8" cy="1022.3" r="2.6" fill="#e8f6e6" fill-opacity="0.8"/>
<circle cx="246.2" cy="1026.7" r="2.6" fill="#e8f6e6" fill-opacity="0.8"/>
<circle cx="270.4" cy="1029.2" r="2.6" fill="#e8f6e6" fill-opacity="0.8"/>
<circle cx="271.4" cy="1036.1" r="2.6" fill="#e8f6e6" fill-opacity="0.8"/>
<circle cx="119.9" cy="904.5" r="2.6" fill="#bce3b7" fill-opacity="0.82"/>
<circle cx="179.8" cy="896.7" r="2.6" fill="#bce3b7" fill-opacity="0.82"/>
<circle cx="100.2" cy="934.1" r="2.6" fill="#bee4ba" fill-opacity="0.82"/>
<circle cx="89.3" cy="942.5" r="2.6" fill="#c1e5bc" fill-opacity="0.82"/>
<circle cx="93.3" cy="949.8" r="2.6" fill="#c2e6be" fill-opacity="0.82"/>
<circle cx="100.2" cy="947.4" r="2.6" fill="#c2e5bd" fill-opacity="0.82"/>
<circle cx="112.1" cy="945.6" r="2.6" fill="#c1e5bd" fill-opacity="0.82"/>
<circle cx="118.1" cy="940.1" r="2.6" fill="#c0e5bb" fill-opacity="0.82"/>
<circle cx="123.6" cy="922.8" r="2.6" fill="#bce3b7" fill-opacity="0.82"/>
<circle cx="124.3" cy="930.4" r="2.6" fill="#bee4b9" fill-opacity="0.82"/>
<circle cx="148.6" cy="923.7" r="2.6" fill="#bce3b7" fill-opacity="0.82"/>
<circle cx="153.1" cy="935.5" r="2.6" fill="#bfe4ba" fill-opacity="0.82"/>
<circle cx="164.1" cy="927.9" r="2.6" fill="#bde3b8" fill-opacity="0.82"/>
<circle cx="154.1" cy="941.9" r="2.6" fill="#c0e5bc" fill-opacity="0.82"/>
<circle cx="160.4" cy="943.2" r="2.6" fill="#c1e5bc" fill-opacity="0.82"/>
<circle cx="155.3" cy="951.6" r="2.6" fill="#c3e6be" fill-opacity="0.82"/>
<circle cx="161.4" cy="951.6" r="2.6" fill="#c3e6be" fill-opacity="0.82"/>
<circle cx="139.5" cy="954.7" r="2.6" fill="#c4e6bf" fill-opacity="0.82"/>
<circle cx="147.3" cy="959.6" r="2.6" fill="#c5e7c0" fill-opacity="0.82"/>
<circle cx="163.2" cy="957.1" r="2.6" fill="#c4e6c0" fill-opacity="0.82"/>
<circle cx="161.9" cy="964.4" r="2.6" fill="#c6e7c2" fill-opacity="0.82"/>
<circle cx="129.4" cy="971.1" r="2.6" fill="#c8e8c3" fill-opacity="0.82"/>
<circle cx="140.0" cy="971.1" r="2.6" fill="#c8e8c3" fill-opacity="0.82"/>
<circle cx="138.9" cy="973.5" r="2.6" fill="#c8e8c4" fill-opacity="0.82"/>
<circle cx="132.2" cy="979.3" r="2.6" fill="#cae9c6" fill-opacity="0.82"/>
<circle cx="126.7" cy="988.8" r="2.6" fill="#cceac8" fill-opacity="0.82"/>
<circle cx="163.7" cy="986.6" r="2.6" fill="#cbe9c8" fill-opacity="0.82"/>
<circle cx="197.5" cy="923.8" r="2.6" fill="#bce3b7" fill-opacity="0.82"/>
<circle cx="220.2" cy="923.4" r="2.6" fill="#bce3b7" fill-opacity="0.82"/>
<circle cx="205.4" cy="926.2" r="2.6" fill="#bde3b8" fill-opacity="0.82"/>
<circle cx="183.7" cy="939.2" r="2.6" fill="#c0e5bb" fill-opacity="0.82"/>
<circle cx="185.7" cy="941.5" r="2.6" fill="#c0e5bc" fill-opacity="0.82"/>
<circle cx="179.8" cy="950.4" r="2.6" fill="#c2e6be" fill-opacity="0.82"/>
<circle cx="194.6" cy="955.7" r="2.6" fill="#c4e6bf" fill-opacity="0.82"/>
<circle cx="211.9" cy="952.4" r="2.6" fill="#c3e6bf" fill-opacity="0.82"/>
<circle cx="204.0" cy="947.1" r="2.6" fill="#c2e5bd" fill-opacity="0.82"/>
<circle cx="206.0" cy="934.6" r="2.6" fill="#bfe4ba" fill-opacity="0.82"/>
<circle cx="215.8" cy="941.9" r="2.6" fill="#c0e5bc" fill-opacity="0.82"/>
<circle cx="175.8" cy="962.8" r="2.6" fill="#c6e7c1" fill-opacity="0.82"/>
<circle cx="171.9" cy="960.3" r="2.6" fill="#c5e7c1" fill-opacity="0.82"/>
<circle cx="185.7" cy="957.3" r="2.6" fill="#c4e6c0" fill-opacity="0.82"/>
<circle cx="200.9" cy="959.3" r="2.6" fill="#c5e7c0" fill-opacity="0.82"/>
<circle cx="200.5" cy="964.8" r="2.6" fill="#c6e7c2" fill-opacity="0.82"/>
<circle cx="223.1" cy="960.8" r="2.6" fill="#c5e7c1" fill-opacity="0.82"/>
<circle cx="183.7" cy="969.1" r="2.6" fill="#c7e8c3" fill-opacity="0.82"/>
<circle cx="173.3" cy="969.1" r="2.6" fill="#c7e8c3" fill-opacity="0.82"/>
<circle cx="198.1" cy="970.1" r="2.6" fill="#c7e8c3" fill-opacity="0.82"/>
<circle cx="204.0" cy="969.1" r="2.6" fill="#c7e8c3" fill-opacity="0.82"/>
<circle cx="168.9" cy="975.0" r="2.6" fill="#c9e8c5" fill-opacity="0.82"/>
<circle cx="176.4" cy="974.6" r="2.6" fill="#c8e8c4" fill-opacity="0.82"/>
<circle cx="184.7" cy="973.1" r="2.6" fill="#c8e8c4" fill-opacity="0.82"/>
<circle cx="167.4" cy="966.2" r="2.6" fill="#c6e7c2" fill-opacity="0.82"/>
<circle cx="224.1" cy="974.1" r="2.6" fill="#c8e8c4" fill-opacity="0.82"/>
<circle cx="233.0" cy="970.7" r="2.6" fill="#c8e8c3" fill-opacity="0.82"/>
<circle cx="177.2" cy="983.3" r="2.6" fill="#cbe9c7" fill-opacity="0.82"/>
<circle cx="183.1" cy="987.3" r="2.6" fill="#cceac8" fill-opacity="0.82"/>
<circle cx="166.0" cy="986.9" r="2.6" fill="#cbe9c8" fill-opacity="0.82"/>
<circle cx="184.3" cy="994.4" r="2.6" fill="#cdeaca" fill-opacity="0.82"/>
<circle cx="212.3" cy="986.5" r="2.6" fill="#cbe9c8" fill-opacity="0.82"/>
<circle cx="198.1" cy="990.4" r="2.6" fill="#cceac9" fill-opacity="0.82"/>
<circle cx="207.4" cy="992.8" r="2.6" fill="#cdeac9" fill-opacity="0.82"/>
<circle cx="232.0" cy="985.3" r="2.6" fill="#cbe9c7" fill-opacity="0.82"/>
<circle cx="239.5" cy="986.5" r="2.6" fill="#cbe9c8" fill-opacity="0.82"/>
<circle cx="241.5" cy="989.2" r="2.6" fill="#cceac8" fill-opacity="0.82"/>
<circle cx="205.4" cy="1000.7" r="2.6" fill="#cfebcb" fill-opacity="0.82"/>
<circle cx="196.9" cy="1006.2" r="2.6" fill="#d0ebcd" fill-opacity="0.82"/>
<circle cx="213.9" cy="1012.1" r="2.6" fill="#d2ecce" fill-opacity="0.82"/>
<circle cx="217.8" cy="1012.5" r="2.6" fill="#d2ecce" fill-opacity="0.82"/>
<circle cx="108.4" cy="857.4" r="2.6" fill="#8acd91" fill-opacity="0.85"/>
<circle cx="95.7" cy="861.5" r="2.6" fill="#8acd91" fill-opacity="0.85"/>
<circle cx="113.0" cy="868.4" r="2.6" fill="#8acd91" fill-opacity="0.85"/>
<circle cx="64.6" cy="869.3" r="2.6" fill="#8acd91" fill-opacity="0.85"/>
<circle cx="116.6" cy="881.5" r="2.6" fill="#8acd91" fill-opacity="0.85"/>
<circle cx="66.5" cy="890.3" r="2.6" fill="#8acd91" fill-opacity="0.85"/>
<circle cx="70.7" cy="894.3" r="2.6" fill="#8acd91" fill-opacity="0.85"/>
<circle cx="103.9" cy="894.3" r="2.6" fill="#8acd91" fill-opacity="0.85"/>
<circle cx="135.8" cy="868.0" r="2.6" fill="#8acd91" fill-opacity="0.85"/>
<circle cx="146.8" cy="869.9" r="2.6" fill="#8acd91" fill-opacity="0.85"/>
<circle cx="145.5" cy="894.9" r="2.6" fill="#8acd91" fill-opacity="0.85"/>
<circle cx="149.5" cy="902.7" r="2.6" fill="#8acd91" fill-opacity="0.85"/>
<circle cx="72.8" cy="901.2" r="2.6" fill="#8acd91" fill-opacity="0.85"/>
<circle cx="77.4" cy="908.2" r="2.6" fill="#8acd91" fill-opacity="0.85"/>
<circle cx="96.6" cy="903.1" r="2.6" fill="#8acd91" fill-opacity="0.85"/>
<circle cx="131.2" cy="904.0" r="2.6" fill="#8acd91" fill-opacity="0.85"/>
<circle cx="160.1" cy="911.3" r="2.6" fill="#8acd91" fill-opacity="0.85"/>
<circle cx="127.6" cy="913.1" r="2.6" fill="#8acd91" fill-opacity="0.85"/>
<circle cx="143.6" cy="914.9" r="2.6" fill="#8acd91" fill-opacity="0.85"/>
<circle cx="147.3" cy="917.7" r="2.6" fill="#8acd91" fill-opacity="0.85"/>
<circle cx="71.0" cy="915.8" r="2.6" fill="#8acd91" fill-opacity="0.85"/>
<circle cx="174.9" cy="844.5" r="2.6" fill="#8acd91" fill-opacity="0.85"/>
<circle cx="182.3" cy="857.3" r="2.6" fill="#8acd91" fill-opacity="0.85"/>
<circle cx="194.6" cy="861.2" r="2.6" fill="#8acd91" fill-opacity="0.85"/>
<circle cx="191.0" cy="870.1" r="2.6" fill="#8acd91" fill-opacity="0.85"/>
<circle cx="193.6" cy="876.0" r="2.6" fill="#8acd91" fill-opacity="0.85"/>
<circle cx="206.0" cy="874.1" r="2.6" fill="#8acd91" fill-opacity="0.85"/>
<circle cx="205.4" cy="878.0" r="2.6" fill="#8acd91" fill-opacity="0.85"/>
<circle cx="211.3" cy="888.8" r="2.6" fill="#8acd91" fill-opacity="0.85"/>
<circle cx="169.3" cy="897.1" r="2.6" fill="#8acd91" fill-opacity="0.85"/>
<circle cx="210.3" cy="898.1" r="2.6" fill="#8acd91" fill-opacity="0.85"/>
<circle cx="202.8" cy="906.6" r="2.6" fill="#8acd91" fill-opacity="0.85"/>
<circle cx="197.5" cy="914.1" r="2.6" fill="#8acd91" fill-opacity="0.85"/>
<circle cx="206.4" cy="912.9" r="2.6" fill="#8acd91" fill-opacity="0.85"/>
<circle cx="76.1" cy="922.4" r="2.6" fill="#8acd91" fill-opacity="0.85"/>
<circle cx="79.2" cy="920.0" r="2.6" fill="#8acd91" fill-opacity="0.85"/>
<circle cx="94.4" cy="927.3" r="2.6" fill="#8bce92" fill-opacity="0.85"/>
<circle cx="91.1" cy="931.0" r="2.6" fill="#8dce94" fill-opacity="0.85"/>
<circle cx="106.6" cy="954.7" r="2.6" fill="#97d39d" fill-opacity="0.85"/>
<circle cx="101.7" cy="958.9" r="2.6" fill="#99d39f" fill-opacity="0.85"/>
<circle cx="84.7" cy="960.7" r="2.6" fill="#9ad4a0" fill-opacity="0.85"/>
<circle cx="92.0" cy="966.6" r="2.6" fill="#9cd5a2" fill-opacity="0.85"/>
<circle cx="90.2" cy="971.7" r="2.6" fill="#9fd6a4" fill-opacity="0.85"/>
<circle cx="104.8" cy="973.9" r="2.6" fill="#9fd6a5" fill-opacity="0.85"/>
<circle cx="129.4" cy="927.9" r="2.6" fill="#8cce93" fill-opacity="0.85"/>
<circle cx="123.0" cy="954.7" r="2.6" fill="#97d39d" fill-opacity="0.85"/>
<circle cx="125.4" cy="960.2" r="2.6" fill="#9ad4a0" fill-opacity="0.85"/>
<circle cx="141.3" cy="957.8" r="2.6" fill="#99d39f" fill-opacity="0.85"/>
<circle cx="123.9" cy="976.6" r="2.6" fill="#a1d7a6" fill-opacity="0.85"/>
<circle cx="137.6" cy="979.3" r="2.6" fill="#a2d7a7" fill-opacity="0.85"/>
<circle cx="138.9" cy="984.5" r="2.6" fill="#a4d8a9" fill-opacity="0.85"/>
<circle cx="161.9" cy="979.3" r="2.6" fill="#a2d7a7" fill-opacity="0.85"/>
<circle cx="180.8" cy="923.4" r="2.6" fill="#8acd91" fill-opacity="0.85"/>
<circle cx="212.7" cy="922.2" r="2.6" fill="#8acd91" fill-opacity="0.85"/>
<circle cx="206.0" cy="929.3" r="2.6" fill="#8cce93" fill-opacity="0.85"/>
<circle cx="168.0" cy="930.1" r="2.6" fill="#8dce93" fill-opacity="0.85"/>
<circle cx="168.9" cy="936.0" r="2.6" fill="#8fcf96" fill-opacity="0.85"/>
<circle cx="184.7" cy="936.0" r="2.6" fill="#8fcf96" fill-opacity="0.85"/>
<circle cx="187.7" cy="945.9" r="2.6" fill="#93d19a" fill-opacity="0.85"/>
<circle cx="220.6" cy="936.0" r="2.6" fill="#8fcf96" fill-opacity="0.85"/>
<circle cx="223.7" cy="937.6" r="2.6" fill="#90cf96" fill-opacity="0.85"/>
<circle cx="221.2" cy="945.5" r="2.6" fill="#93d19a" fill-opacity="0.85"/>
<circle cx="231.6" cy="947.1" r="2.6" fill="#94d19a" fill-opacity="0.85"/>
<circle cx="63.4" cy="837.7" r="2.6" fill="#3a9a5a" fill-opacity="0.88"/>
<circle cx="81.6" cy="830.1" r="2.6" fill="#3a9a5a" fill-opacity="0.88"/>
<circle cx="75.6" cy="836.5" r="2.6" fill="#3a9a5a" fill-opacity="0.88"/>
<circle cx="85.6" cy="833.7" r="2.6" fill="#3a9a5a" fill-opacity="0.88"/>
<circle cx="72.5" cy="844.7" r="2.6" fill="#3a9a5a" fill-opacity="0.88"/>
<circle cx="85.6" cy="843.8" r="2.6" fill="#3a9a5a" fill-opacity="0.88"/>
<circle cx="92.9" cy="846.9" r="2.6" fill="#3a9a5a" fill-opacity="0.88"/>
<circle cx="62.3" cy="853.4" r="2.6" fill="#3a9a5a" fill-opacity="0.88"/>
<circle cx="79.8" cy="856.0" r="2.6" fill="#3a9a5a" fill-opacity="0.88"/>
<circle cx="103.0" cy="852.9" r="2.6" fill="#3a9a5a" fill-opacity="0.88"/>
<circle cx="109.0" cy="864.4" r="2.6" fill="#3a9a5a" fill-opacity="0.88"/>
<circle cx="111.5" cy="866.6" r="2.6" fill="#3a9a5a" fill-opacity="0.88"/>
<circle cx="118.5" cy="865.7" r="2.6" fill="#3a9a5a" fill-opacity="0.88"/>
<circle cx="77.4" cy="870.2" r="2.6" fill="#3a9a5a" fill-opacity="0.88"/>
<circle cx="113.4" cy="874.8" r="2.6" fill="#3a9a5a" fill-opacity="0.88"/>
<circle cx="71.4" cy="879.0" r="2.6" fill="#3a9a5a" fill-opacity="0.88"/>
<circle cx="85.3" cy="883.4" r="2.6" fill="#3a9a5a" fill-opacity="0.88"/>
<circle cx="73.2" cy="888.5" r="2.6" fill="#3a9a5a" fill-opacity="0.88"/>
<circle cx="133.4" cy="835.9" r="2.6" fill="#3a9a5a" fill-opacity="0.88"/>
<circle cx="141.3" cy="835.2" r="2.6" fill="#3a9a5a" fill-opacity="0.88"/>
<circle cx="161.9" cy="835.5" r="2.6" fill="#3a9a5a" fill-opacity="0.88"/>
<circle cx="137.6" cy="863.3" r="2.6" fill="#3a9a5a" fill-opacity="0.88"/>
<circle cx="143.1" cy="871.1" r="2.6" fill="#3a9a5a" fill-opacity="0.88"/>
<circle cx="135.8" cy="883.4" r="2.6" fill="#3a9a5a" fill-opacity="0.88"/>
<circle cx="164.1" cy="892.1" r="2.6" fill="#3a9a5a" fill-opacity="0.88"/>
<circle cx="149.1" cy="899.4" r="2.6" fill="#3a9a5a" fill-opacity="0.88"/>
<circle cx="79.8" cy="908.5" r="2.6" fill="#3a9a5a" fill-opacity="0.88"/>
<circle cx="96.6" cy="911.8" r="2.6" fill="#3a9a5a" fill-opacity="0.88"/>
<circle cx="139.5" cy="908.9" r="2.6" fill="#3a9a5a" fill-opacity="0.88"/>
<circle cx="116.3" cy="916.2" r="2.6" fill="#3a9a5a" fill-opacity="0.88"/>
<circle cx="173.3" cy="836.0" r="2.6" fill="#3a9a5a" fill-opacity="0.88"/>
<circle cx="181.8" cy="834.6" r="2.6" fill="#3a9a5a" fill-opacity="0.88"/>
<circle cx="190.2" cy="841.1" r="2.6" fill="#3a9a5a" fill-opacity="0.88"/>
<circle cx="190.6" cy="856.3" r="2.6" fill="#3a9a5a" fill-opacity="0.88"/>
<circle cx="190.2" cy="864.8" r="2.6" fill="#3a9a5a" fill-opacity="0.88"/>
<circle cx="193.0" cy="868.1" r="2.6" fill="#3a9a5a" fill-opacity="0.88"/>
<circle cx="215.8" cy="867.5" r="2.6" fill="#3a9a5a" fill-opacity="0.88"/>
<circle cx="209.9" cy="872.7" r="2.6" fill="#3a9a5a" fill-opacity="0.88"/>
<circle cx="210.7" cy="875.4" r="2.6" fill="#3a9a5a" fill-opacity="0.88"/>
<circle cx="213.9" cy="871.5" r="2.6" fill="#3a9a5a" fill-opacity="0.88"/>
<circle cx="213.9" cy="886.5" r="2.6" fill="#3a9a5a" fill-opacity="0.88"/>
<circle cx="166.0" cy="891.8" r="2.6" fill="#3a9a5a" fill-opacity="0.88"/>
<circle cx="225.7" cy="901.1" r="2.6" fill="#3a9a5a" fill-opacity="0.88"/>
<circle cx="175.8" cy="905.6" r="2.6" fill="#3a9a5a" fill-opacity="0.88"/>
<circle cx="177.8" cy="918.0" r="2.6" fill="#3a9a5a" fill-opacity="0.88"/>
<circle cx="198.1" cy="918.0" r="2.6" fill="#3a9a5a" fill-opacity="0.88"/>
<circle cx="97.5" cy="922.4" r="2.6" fill="#3a9a5a" fill-opacity="0.88"/>
<circle cx="93.3" cy="932.8" r="2.6" fill="#409d5f" fill-opacity="0.88"/>
<circle cx="83.4" cy="951.6" r="2.6" fill="#4ea46b" fill-opacity="0.88"/>
<circle cx="87.1" cy="952.0" r="2.6" fill="#4ea46b" fill-opacity="0.88"/>
<circle cx="107.2" cy="958.9" r="2.6" fill="#53a76f" fill-opacity="0.88"/>
<circle cx="113.9" cy="972.0" r="2.6" fill="#5dac77" fill-opacity="0.88"/>
<circle cx="118.8" cy="949.2" r="2.6" fill="#4ca369" fill-opacity="0.88"/>
<circle cx="125.4" cy="942.5" r="2.6" fill="#47a165" fill-opacity="0.88"/>
<circle cx="134.0" cy="926.4" r="2.6" fill="#3c9b5b" fill-opacity="0.88"/>
<circle cx="137.6" cy="921.3" r="2.6" fill="#3a9a5a" fill-opacity="0.88"/>
<circle cx="144.0" cy="935.2" r="2.6" fill="#429e61" fill-opacity="0.88"/>
<circle cx="155.3" cy="928.2" r="2.6" fill="#3d9c5d" fill-opacity="0.88"/>
<circle cx="213.3" cy="925.8" r="2.6" fill="#3b9b5b" fill-opacity="0.88"/>
<circle cx="229.1" cy="927.3" r="2.6" fill="#3c9b5c" fill-opacity="0.88"/>
<circle cx="172.5" cy="929.3" r="2.6" fill="#3e9c5d" fill-opacity="0.88"/>
<circle cx="177.8" cy="929.7" r="2.6" fill="#3e9c5d" fill-opacity="0.88"/>
<circle cx="178.4" cy="935.6" r="2.6" fill="#429e61" fill-opacity="0.88"/>
<circle cx="166.0" cy="948.4" r="2.6" fill="#4ca369" fill-opacity="0.88"/>
<circle cx="168.5" cy="963.6" r="2.6" fill="#57a972" fill-opacity="0.88"/>
<circle cx="57.3" cy="834.6" r="2.6" fill="#1a7a3c" fill-opacity="0.9"/>
<circle cx="61.0" cy="832.8" r="2.6" fill="#1a7a3c" fill-opacity="0.9"/>
<circle cx="57.3" cy="838.3" r="2.6" fill="#1a7a3c" fill-opacity="0.9"/>
<circle cx="68.3" cy="833.4" r="2.6" fill="#1a7a3c" fill-opacity="0.9"/>
<circle cx="75.6" cy="829.7" r="2.6" fill="#1a7a3c" fill-opacity="0.9"/>
<circle cx="98.4" cy="838.8" r="2.6" fill="#1a7a3c" fill-opacity="0.9"/>
<circle cx="76.5" cy="851.6" r="2.6" fill="#1a7a3c" fill-opacity="0.9"/>
<circle cx="109.7" cy="852.0" r="2.6" fill="#1a7a3c" fill-opacity="0.9"/>
<circle cx="89.6" cy="858.4" r="2.6" fill="#1a7a3c" fill-opacity="0.9"/>
<circle cx="87.8" cy="862.0" r="2.6" fill="#1a7a3c" fill-opacity="0.9"/>
<circle cx="96.2" cy="876.6" r="2.6" fill="#1a7a3c" fill-opacity="0.9"/>
<circle cx="104.2" cy="877.2" r="2.6" fill="#1a7a3c" fill-opacity="0.9"/>
<circle cx="72.5" cy="881.5" r="2.6" fill="#1a7a3c" fill-opacity="0.9"/>
<circle cx="81.6" cy="893.9" r="2.6" fill="#1a7a3c" fill-opacity="0.9"/>
<circle cx="118.8" cy="888.8" r="2.6" fill="#1a7a3c" fill-opacity="0.9"/>
<circle cx="117.6" cy="891.2" r="2.6" fill="#1a7a3c" fill-opacity="0.9"/>
<circle cx="153.5" cy="848.0" r="2.6" fill="#1a7a3c" fill-opacity="0.9"/>
<circle cx="155.9" cy="862.0" r="2.6" fill="#1a7a3c" fill-opacity="0.9"/>
<circle cx="154.6" cy="872.4" r="2.6" fill="#1a7a3c" fill-opacity="0.9"/>
<circle cx="130.9" cy="879.0" r="2.6" fill="#1a7a3c" fill-opacity="0.9"/>
<circle cx="133.1" cy="893.6" r="2.6" fill="#1a7a3c" fill-opacity="0.9"/>
<circle cx="158.2" cy="893.9" r="2.6" fill="#1a7a3c" fill-opacity="0.9"/>
<circle cx="157.7" cy="900.9" r="2.6" fill="#1a7a3c" fill-opacity="0.9"/>
<circle cx="162.6" cy="902.2" r="2.6" fill="#1a7a3c" fill-opacity="0.9"/>
<circle cx="89.3" cy="904.0" r="2.6" fill="#1a7a3c" fill-opacity="0.9"/>
<circle cx="86.5" cy="907.6" r="2.6" fill="#1a7a3c" fill-opacity="0.9"/>
<circle cx="92.6" cy="907.6" r="2.6" fill="#1a7a3c" fill-opacity="0.9"/>
<circle cx="95.1" cy="908.5" r="2.6" fill="#1a7a3c" fill-opacity="0.9"/>
<circle cx="98.8" cy="910.7" r="2.6" fill="#1a7a3c" fill-opacity="0.9"/>
<circle cx="101.1" cy="902.7" r="2.6" fill="#1a7a3c" fill-opacity="0.9"/>
<circle cx="120.7" cy="913.6" r="2.6" fill="#1a7a3c" fill-opacity="0.9"/>
<circle cx="168.5" cy="838.0" r="2.6" fill="#1a7a3c" fill-opacity="0.9"/>
<circle cx="184.7" cy="841.5" r="2.6" fill="#1a7a3c" fill-opacity="0.9"/>
<circle cx="186.3" cy="842.5" r="2.6" fill="#1a7a3c" fill-opacity="0.9"/>
<circle cx="225.1" cy="865.2" r="2.6" fill="#1a7a3c" fill-opacity="0.9"/>
<circle cx="182.7" cy="873.1" r="2.6" fill="#1a7a3c" fill-opacity="0.9"/>
<circle cx="167.4" cy="877.4" r="2.6" fill="#1a7a3c" fill-opacity="0.9"/>
<circle cx="235.0" cy="888.8" r="2.6" fill="#1a7a3c" fill-opacity="0.9"/>
<circle cx="236.9" cy="894.4" r="2.6" fill="#1a7a3c" fill-opacity="0.9"/>
<circle cx="192.2" cy="904.2" r="2.6" fill="#1a7a3c" fill-opacity="0.9"/>
<circle cx="86.0" cy="922.4" r="2.6" fill="#1a7a3c" fill-opacity="0.9"/>
<circle cx="104.8" cy="924.2" r="2.6" fill="#1a7a3c" fill-opacity="0.9"/>
<circle cx="110.3" cy="920.6" r="2.6" fill="#1a7a3c" fill-opacity="0.9"/>
<circle cx="105.3" cy="932.3" r="2.6" fill="#217e42" fill-opacity="0.9"/>
<circle cx="106.6" cy="938.8" r="2.6" fill="#268147" fill-opacity="0.9"/>
<circle cx="101.1" cy="940.7" r="2.6" fill="#288248" fill-opacity="0.9"/>
<circle cx="126.1" cy="927.3" r="2.6" fill="#1d7c3e" fill-opacity="0.9"/>
<circle cx="140.7" cy="924.6" r="2.6" fill="#1a7a3c" fill-opacity="0.9"/>
<circle cx="145.5" cy="946.5" r="2.6" fill="#2d854c" fill-opacity="0.9"/>
<circle cx="163.2" cy="948.7" r="2.6" fill="#2f864e" fill-opacity="0.9"/>
<circle cx="95.7" cy="838.3" r="2.6" fill="#055222" fill-opacity="0.92"/>
<circle cx="101.1" cy="868.4" r="2.6" fill="#055222" fill-opacity="0.92"/>
<circle cx="104.8" cy="870.2" r="2.6" fill="#055222" fill-opacity="0.92"/>
<circle cx="107.5" cy="871.7" r="2.6" fill="#055222" fill-opacity="0.92"/>
<circle cx="88.9" cy="873.9" r="2.6" fill="#055222" fill-opacity="0.92"/>
<circle cx="92.6" cy="881.5" r="2.6" fill="#055222" fill-opacity="0.92"/>
<circle cx="93.8" cy="889.4" r="2.6" fill="#055222" fill-opacity="0.92"/>
<circle cx="98.0" cy="893.6" r="2.6" fill="#055222" fill-opacity="0.92"/>
<circle cx="104.2" cy="890.3" r="2.6" fill="#055222" fill-opacity="0.92"/>
<circle cx="160.1" cy="869.3" r="2.6" fill="#055222" fill-opacity="0.92"/>
<circle cx="152.2" cy="876.6" r="2.6" fill="#055222" fill-opacity="0.92"/>
<circle cx="154.1" cy="878.4" r="2.6" fill="#055222" fill-opacity="0.92"/>
<circle cx="132.2" cy="877.5" r="2.6" fill="#055222" fill-opacity="0.92"/>
<circle cx="143.6" cy="880.3" r="2.6" fill="#055222" fill-opacity="0.92"/>
<circle cx="159.5" cy="880.3" r="2.6" fill="#055222" fill-opacity="0.92"/>
<circle cx="134.5" cy="892.1" r="2.6" fill="#055222" fill-opacity="0.92"/>
<circle cx="160.4" cy="900.3" r="2.6" fill="#055222" fill-opacity="0.92"/>
<circle cx="202.8" cy="862.2" r="2.6" fill="#055222" fill-opacity="0.92"/>
<circle cx="198.9" cy="876.6" r="2.6" fill="#055222" fill-opacity="0.92"/>
<circle cx="200.9" cy="879.4" r="2.6" fill="#055222" fill-opacity="0.92"/>
<circle cx="202.1" cy="885.9" r="2.6" fill="#055222" fill-opacity="0.92"/>
<circle cx="101.1" cy="938.8" r="2.6" fill="#135b2e" fill-opacity="0.92"/>
<text class="tt" x="160.5" y="769.1" textLength="195.4" lengthAdjust="spacingAndGlyphs">Wasserstein barycenter for cluster 3</text>
<polygon points="35.8,1385.1 239.4,1365.5 242.0,1170.2 31.0,1185.4" fill="#f2f2f2"/>
<polygon points="239.4,1365.5 306.3,1444.1 311.9,1231.1 242.0,1170.2" fill="#f8f8f8"/>
<polygon points="35.8,1385.1 239.4,1365.5 306.3,1444.1 83.1,1468.1" fill="#f5f5f5"/>
<path d="M295.9 1445.3L229.9 1366.4L232.2 1170.9M255.5 1449.6L193.0 1370.0L194.0 1173.6M214.7 1454.0L155.8 1373.5L155.4 1176.4M173.5 1458.4L118.2 1377.2L116.4 1179.2M131.9 1462.9L80.2 1380.8L77.1 1182.1M89.8 1467.4L42.0 1384.5L37.3 1184.9M37.5 1388.1L241.8 1368.3L244.5 1172.4M45.6 1402.3L253.2 1381.7L256.4 1182.7M53.9 1416.9L265.0 1395.7L268.8 1193.5M62.6 1432.2L277.3 1410.1L281.6 1204.7M71.6 1448.0L290.1 1425.1L294.9 1216.3M81.0 1464.4L303.3 1440.6L308.7 1228.3M35.6 1374.6L239.5 1355.2L306.6 1433.0M34.7 1338.6L240.0 1320.0L307.6 1394.7M33.8 1302.2L240.5 1284.3L308.6 1355.8M32.9 1265.2L240.9 1248.2L309.6 1316.4M32.0 1227.7L241.4 1211.6L310.7 1276.4" fill="none" stroke="#c8c8c8" stroke-width="1.0"/>
<path d="M31.0 1185.4L35.8 1385.1L83.1 1468.1L306.3 1444.1" fill="none" stroke="#505050" stroke-width="1.0"/>
<path d="M31.7 1375.0L37.8 1374.4M30.8 1339.0L36.9 1338.4M29.9 1302.5L36.0 1302.0M29.0 1265.5L35.1 1265.0M28.1 1228.0L34.2 1227.6M33.0 1388.5L39.0 1388.0M41.1 1402.7L47.1 1402.1M49.5 1417.4L55.4 1416.8M58.1 1432.6L64.1 1432.0M67.1 1448.4L73.1 1447.8M76.5 1464.9L82.4 1464.2M298.5 1448.3L294.9 1444.1M258.0 1452.7L254.6 1448.4M217.1 1457.2L213.9 1452.8M175.8 1461.7L172.7 1457.2M134.0 1466.3L131.1 1461.6M91.8 1470.9L89.1 1466.1" fill="none" stroke="#3a3a3a" stroke-width="1.0"/>
<g class="tl"><text x="22.9" y="1379.8" textLength="14.0" lengthAdjust="spacingAndGlyphs">0.0</text><text x="22.0" y="1343.8" textLength="14.0" lengthAdjust="spacingAndGlyphs">0.2</text><text x="21.1" y="1307.3" textLength="14.0" lengthAdjust="spacingAndGlyphs">0.4</text><text x="20.2" y="1270.4" textLength="14.0" lengthAdjust="spacingAndGlyphs">0.6</text><text x="19.3" y="1232.9" textLength="14.0" lengthAdjust="spacingAndGlyphs">0.8</text><text x="27.0" y="1406.7" textLength="14.0" lengthAdjust="spacingAndGlyphs">0.0</text><text x="35.1" y="1420.9" textLength="14.0" lengthAdjust="spacingAndGlyphs">0.2</text><text x="43.4" y="1435.6" textLength="14.0" lengthAdjust="spacingAndGlyphs">0.4</text><text x="52.1" y="1450.8" textLength="14.0" lengthAdjust="spacingAndGlyphs">0.6</text><text x="61.1" y="1466.6" textLength="14.0" lengthAdjust="spacingAndGlyphs">0.8</text><text x="70.5" y="1483.0" textLength="14.0" lengthAdjust="spacingAndGlyphs">1.0</text><text x="298.6" y="1467.2" textLength="14.0" lengthAdjust="spacingAndGlyphs">0.0</text><text x="258.3" y="1471.5" textLength="14.0" lengthAdjust="spacingAndGlyphs">0.2</text><text x="217.5" y="1475.9" textLength="14.0" lengthAdjust="spacingAndGlyphs">0.4</text><text x="176.3" y="1480.4" textLength="14.0" lengthAdjust="spacingAndGlyphs">0.6</text><text x="134.6" y="1484.8" textLength="14.0" lengthAdjust="spacingAndGlyphs">0.8</text><text x="92.6" y="1489.4" textLength="14.0" lengthAdjust="spacingAndGlyphs">1.0</text></g>
<text class="al" transform="translate(9.0 1283.2) rotate(-90)" textLength="20.2" lengthAdjust="spacingAndGlyphs">time</text>
<text class="al" transform="translate(36.7 1447.9) rotate(60)" dy="3.4" textLength="36.1" lengthAdjust="spacingAndGlyphs">mobility</text>
<text class="al" transform="translate(203.1 1488.2) rotate(-6)" dy="2.5" textLength="46.6" lengthAdjust="spacingAndGlyphs">new cases</text>
<circle cx="235.9" cy="1357.9" r="2.6" fill="#e3f4e0" fill-opacity="0.8"/>
<circle cx="254.7" cy="1381.6" r="2.6" fill="#e6f5e3" fill-opacity="0.8"/>
<circle cx="254.7" cy="1391.4" r="2.6" fill="#e7f5e4" fill-opacity="0.8"/>
<circle cx="259.2" cy="1386.5" r="2.6" fill="#e7f5e4" fill-opacity="0.8"/>
<circle cx="256.1" cy="1398.3" r="2.6" fill="#e8f6e5" fill-opacity="0.8"/>
<circle cx="261.6" cy="1400.9" r="2.6" fill="#e8f6e6" fill-opacity="0.8"/>
<circle cx="267.5" cy="1405.2" r="2.6" fill="#e8f6e6" fill-opacity="0.8"/>
<circle cx="274.4" cy="1415.1" r="2.6" fill="#e8f6e6" fill-opacity="0.8"/>
<circle cx="286.8" cy="1424.9" r="2.6" fill="#e8f6e6" fill-opacity="0.8"/>
<circle cx="135.3" cy="1278.5" r="2.6" fill="#bce3b7" fill-opacity="0.82"/>
<circle cx="96.2" cy="1327.0" r="2.6" fill="#c1e5bd" fill-opacity="0.82"/>
<circle cx="102.4" cy="1314.6" r="2.6" fill="#bee4ba" fill-opacity="0.82"/>
<circle cx="111.5" cy="1310.2" r="2.6" fill="#bde4b8" fill-opacity="0.82"/>
<circle cx="115.2" cy="1313.8" r="2.6" fill="#bee4b9" fill-opacity="0.82"/>
<circle cx="133.4" cy="1318.2" r="2.6" fill="#bfe4bb" fill-opacity="0.82"/>
<circle cx="138.5" cy="1326.6" r="2.6" fill="#c1e5bd" fill-opacity="0.82"/>
<circle cx="164.1" cy="1302.3" r="2.6" fill="#bce3b7" fill-opacity="0.82"/>
<circle cx="155.0" cy="1317.5" r="2.6" fill="#bfe4ba" fill-opacity="0.82"/>
<circle cx="156.8" cy="1326.6" r="2.6" fill="#c1e5bd" fill-opacity="0.82"/>
<circle cx="113.0" cy="1343.8" r="2.6" fill="#c6e7c1" fill-opacity="0.82"/>
<circle cx="130.9" cy="1340.7" r="2.6" fill="#c5e7c0" fill-opacity="0.82"/>
<circle cx="135.3" cy="1334.6" r="2.6" fill="#c3e6bf" fill-opacity="0.82"/>
<circle cx="151.3" cy="1335.7" r="2.6" fill="#c4e6bf" fill-opacity="0.82"/>
<circle cx="151.3" cy="1354.7" r="2.6" fill="#c8e8c4" fill-opacity="0.82"/>
<circle cx="154.6" cy="1354.0" r="2.6" fill="#c8e8c4" fill-opacity="0.82"/>
<circle cx="209.9" cy="1301.2" r="2.6" fill="#bce3b7" fill-opacity="0.82"/>
<circle cx="198.1" cy="1304.7" r="2.6" fill="#bce3b7" fill-opacity="0.82"/>
<circle cx="231.0" cy="1338.6" r="2.6" fill="#c4e6c0" fill-opacity="0.82"/>
<circle cx="184.7" cy="1332.3" r="2.6" fill="#c3e6be" fill-opacity="0.82"/>
<circle cx="175.8" cy="1336.6" r="2.6" fill="#c4e6bf" fill-opacity="0.82"/>
<circle cx="169.9" cy="1343.1" r="2.6" fill="#c5e7c1" fill-opacity="0.82"/>
<circle cx="200.1" cy="1344.1" r="2.6" fill="#c6e7c1" fill-opacity="0.82"/>
<circle cx="166.6" cy="1349.1" r="2.6" fill="#c7e8c3" fill-opacity="0.82"/>
<circle cx="182.3" cy="1350.0" r="2.6" fill="#c7e8c3" fill-opacity="0.82"/>
<circle cx="189.6" cy="1357.9" r="2.6" fill="#c9e8c5" fill-opacity="0.82"/>
<circle cx="197.5" cy="1359.5" r="2.6" fill="#c9e9c5" fill-opacity="0.82"/>
<circle cx="213.3" cy="1350.0" r="2.6" fill="#c7e8c3" fill-opacity="0.82"/>
<circle cx="218.6" cy="1359.9" r="2.6" fill="#cae9c6" fill-opacity="0.82"/>
<circle cx="226.1" cy="1354.0" r="2.6" fill="#c8e8c4" fill-opacity="0.82"/>
<circle cx="239.5" cy="1364.8" r="2.6" fill="#cbe9c7" fill-opacity="0.82"/>
<circle cx="238.9" cy="1370.7" r="2.6" fill="#cceac8" fill-opacity="0.82"/>
<circle cx="245.8" cy="1369.7" r="2.6" fill="#cceac8" fill-opacity="0.82"/>
<circle cx="246.8" cy="1375.7" r="2.6" fill="#cdeaca" fill-opacity="0.82"/>
<circle cx="206.0" cy="1380.6" r="2.6" fill="#cfebcb" fill-opacity="0.82"/>
<circle cx="218.6" cy="1385.9" r="2.6" fill="#d0ebcc" fill-opacity="0.82"/>
<circle cx="219.8" cy="1391.4" r="2.6" fill="#d1ecce" fill-opacity="0.82"/>
<circle cx="231.6" cy="1393.4" r="2.6" fill="#d2ecce" fill-opacity="0.82"/>
<circle cx="240.9" cy="1403.6" r="2.6" fill="#d3edd0" fill-opacity="0.82"/>
<circle cx="127.2" cy="1238.9" r="2.6" fill="#8acd91" fill-opacity="0.85"/>
<circle cx="61.0" cy="1243.8" r="2.6" fill="#8acd91" fill-opacity="0.85"/>
<circle cx="57.3" cy="1248.4" r="2.6" fill="#8acd91" fill-opacity="0.85"/>
<circle cx="61.5" cy="1248.0" r="2.6" fill="#8acd91" fill-opacity="0.85"/>
<circle cx="96.9" cy="1240.2" r="2.6" fill="#8acd91" fill-opacity="0.85"/>
<circle cx="101.1" cy="1238.9" r="2.6" fill="#8acd91" fill-opacity="0.85"/>
<circle cx="105.7" cy="1246.9" r="2.6" fill="#8acd91" fill-opacity="0.85"/>
<circle cx="114.5" cy="1249.3" r="2.6" fill="#8acd91" fill-opacity="0.85"/>
<circle cx="123.0" cy="1244.7" r="2.6" fill="#8acd91" fill-opacity="0.85"/>
<circle cx="75.6" cy="1255.7" r="2.6" fill="#8acd91" fill-opacity="0.85"/>
<circle cx="87.1" cy="1255.3" r="2.6" fill="#8acd91" fill-opacity="0.85"/>
<circle cx="90.7" cy="1256.6" r="2.6" fill="#8acd91" fill-opacity="0.85"/>
<circle cx="94.4" cy="1253.0" r="2.6" fill="#8acd91" fill-opacity="0.85"/>
<circle cx="111.5" cy="1257.2" r="2.6" fill="#8acd91" fill-opacity="0.85"/>
<circle cx="116.3" cy="1257.2" r="2.6" fill="#8acd91" fill-opacity="0.85"/>
<circle cx="129.8" cy="1256.1" r="2.6" fill="#8acd91" fill-opacity="0.85"/>
<circle cx="149.5" cy="1253.5" r="2.6" fill="#8acd91" fill-opacity="0.85"/>
<circle cx="156.8" cy="1258.4" r="2.6" fill="#8acd91" fill-opacity="0.85"/>
<circle cx="76.1" cy="1264.5" r="2.6" fill="#8acd91" fill-opacity="0.85"/>
<circle cx="76.5" cy="1268.8" r="2.6" fill="#8acd91" fill-opacity="0.85"/>
<circle cx="118.8" cy="1267.0" r="2.6" fill="#8acd91" fill-opacity="0.85"/>
<circle cx="143.6" cy="1273.0" r="2.6" fill="#8acd91" fill-opacity="0.85"/>
<circle cx="77.4" cy="1276.1" r="2.6" fill="#8acd91" fill-opacity="0.85"/>
<circle cx="62.3" cy="1279.8" r="2.6" fill="#8acd91" fill-opacity="0.85"/>
<circle cx="65.5" cy="1280.9" r="2.6" fill="#8acd91" fill-opacity="0.85"/>
<circle cx="88.9" cy="1278.0" r="2.6" fill="#8acd91" fill-opacity="0.85"/>
<circle cx="87.8" cy="1280.9" r="2.6" fill="#8acd91" fill-opacity="0.85"/>
<circle cx="86.5" cy="1284.5" r="2.6" fill="#8acd91" fill-opacity="0.85"/>
<circle cx="77.4" cy="1285.8" r="2.6" fill="#8acd91" fill-opacity="0.85"/>
<circle cx="114.8" cy="1284.0" r="2.6" fill="#8acd91" fill-opacity="0.85"/>
<circle cx="130.3" cy="1283.4" r="2.6" fill="#8acd91" fill-opacity="0.85"/>
<circle cx="139.5" cy="1284.5" r="2.6" fill="#8acd91" fill-opacity="0.85"/>
<circle cx="150.9" cy="1279.1" r="2.6" fill="#8acd91" fill-opacity="0.85"/>
<circle cx="158.2" cy="1283.4" r="2.6" fill="#8acd91" fill-opacity="0.85"/>
<circle cx="163.7" cy="1282.7" r="2.6" fill="#8acd91" fill-opacity="0.85"/>
<circle cx="149.9" cy="1290.7" r="2.6" fill="#8acd91" fill-opacity="0.85"/>
<circle cx="166.0" cy="1238.9" r="2.6" fill="#8acd91" fill-opacity="0.85"/>
<circle cx="178.4" cy="1250.1" r="2.6" fill="#8acd91" fill-opacity="0.85"/>
<circle cx="178.4" cy="1264.5" r="2.6" fill="#8acd91" fill-opacity="0.85"/>
<circle cx="172.5" cy="1287.6" r="2.6" fill="#8acd91" fill-opacity="0.85"/>
<circle cx="194.6" cy="1286.6" r="2.6" fill="#8acd91" fill-opacity="0.85"/>
<circle cx="200.1" cy="1291.5" r="2.6" fill="#8acd91" fill-opacity="0.85"/>
<circle cx="204.4" cy="1291.5" r="2.6" fill="#8acd91" fill-opacity="0.85"/>
<circle cx="72.5" cy="1295.0" r="2.6" fill="#8acd91" fill-opacity="0.85"/>
<circle cx="89.6" cy="1292.7" r="2.6" fill="#8acd91" fill-opacity="0.85"/>
<circle cx="81.1" cy="1302.3" r="2.6" fill="#8acd91" fill-opacity="0.85"/>
<circle cx="81.6" cy="1313.3" r="2.6" fill="#8ecf94" fill-opacity="0.85"/>
<circle cx="89.6" cy="1323.7" r="2.6" fill="#92d099" fill-opacity="0.85"/>
<circle cx="116.3" cy="1306.9" r="2.6" fill="#8bcd92" fill-opacity="0.85"/>
<circle cx="116.3" cy="1296.9" r="2.6" fill="#8acd91" fill-opacity="0.85"/>
<circle cx="113.4" cy="1326.6" r="2.6" fill="#93d19a" fill-opacity="0.85"/>
<circle cx="126.1" cy="1328.8" r="2.6" fill="#94d19b" fill-opacity="0.85"/>
<circle cx="128.5" cy="1327.3" r="2.6" fill="#94d19a" fill-opacity="0.85"/>
<circle cx="134.5" cy="1315.7" r="2.6" fill="#8fcf95" fill-opacity="0.85"/>
<circle cx="138.5" cy="1318.8" r="2.6" fill="#90d097" fill-opacity="0.85"/>
<circle cx="150.4" cy="1295.0" r="2.6" fill="#8acd91" fill-opacity="0.85"/>
<circle cx="99.9" cy="1337.6" r="2.6" fill="#98d39e" fill-opacity="0.85"/>
<circle cx="100.2" cy="1341.9" r="2.6" fill="#9ad4a0" fill-opacity="0.85"/>
<circle cx="107.5" cy="1344.3" r="2.6" fill="#9bd4a1" fill-opacity="0.85"/>
<circle cx="116.6" cy="1340.1" r="2.6" fill="#99d39f" fill-opacity="0.85"/>
<circle cx="122.1" cy="1343.0" r="2.6" fill="#9ad4a0" fill-opacity="0.85"/>
<circle cx="138.5" cy="1336.5" r="2.6" fill="#98d39e" fill-opacity="0.85"/>
<circle cx="146.8" cy="1340.7" r="2.6" fill="#99d49f" fill-opacity="0.85"/>
<circle cx="124.3" cy="1351.6" r="2.6" fill="#9ed6a4" fill-opacity="0.85"/>
<circle cx="140.4" cy="1349.2" r="2.6" fill="#9dd5a3" fill-opacity="0.85"/>
<circle cx="146.2" cy="1350.7" r="2.6" fill="#9ed5a4" fill-opacity="0.85"/>
<circle cx="159.5" cy="1348.0" r="2.6" fill="#9dd5a2" fill-opacity="0.85"/>
<circle cx="164.1" cy="1343.4" r="2.6" fill="#9bd4a1" fill-opacity="0.85"/>
<circle cx="196.9" cy="1297.8" r="2.6" fill="#8acd91" fill-opacity="0.85"/>
<circle cx="190.6" cy="1326.0" r="2.6" fill="#93d19a" fill-opacity="0.85"/>
<circle cx="193.6" cy="1328.8" r="2.6" fill="#94d19b" fill-opacity="0.85"/>
<circle cx="206.0" cy="1329.3" r="2.6" fill="#95d19b" fill-opacity="0.85"/>
<circle cx="203.4" cy="1336.6" r="2.6" fill="#98d39e" fill-opacity="0.85"/>
<circle cx="219.8" cy="1334.7" r="2.6" fill="#97d29d" fill-opacity="0.85"/>
<circle cx="219.2" cy="1337.8" r="2.6" fill="#98d39e" fill-opacity="0.85"/>
<circle cx="189.6" cy="1335.3" r="2.6" fill="#97d39d" fill-opacity="0.85"/>
<circle cx="171.9" cy="1336.6" r="2.6" fill="#98d39e" fill-opacity="0.85"/>
<circle cx="166.0" cy="1340.2" r="2.6" fill="#99d39f" fill-opacity="0.85"/>
<circle cx="193.6" cy="1339.2" r="2.6" fill="#99d39f" fill-opacity="0.85"/>
<circle cx="190.6" cy="1344.5" r="2.6" fill="#9bd4a1" fill-opacity="0.85"/>
<circle cx="211.3" cy="1344.1" r="2.6" fill="#9bd4a1" fill-opacity="0.85"/>
<circle cx="217.8" cy="1348.5" r="2.6" fill="#9dd5a3" fill-opacity="0.85"/>
<circle cx="222.2" cy="1349.1" r="2.6" fill="#9dd5a3" fill-opacity="0.85"/>
<circle cx="225.1" cy="1345.1" r="2.6" fill="#9bd4a1" fill-opacity="0.85"/>
<circle cx="190.6" cy="1369.4" r="2.6" fill="#a6d9ab" fill-opacity="0.85"/>
<circle cx="113.4" cy="1219.2" r="2.6" fill="#3a9a5a" fill-opacity="0.88"/>
<circle cx="134.5" cy="1207.9" r="2.6" fill="#3a9a5a" fill-opacity="0.88"/>
<circle cx="138.2" cy="1207.3" r="2.6" fill="#3a9a5a" fill-opacity="0.88"/>
<circle cx="144.0" cy="1217.7" r="2.6" fill="#3a9a5a" fill-opacity="0.88"/>
<circle cx="129.8" cy="1228.7" r="2.6" fill="#3a9a5a" fill-opacity="0.88"/>
<circle cx="137.6" cy="1228.0" r="2.6" fill="#3a9a5a" fill-opacity="0.88"/>
<circle cx="143.6" cy="1226.5" r="2.6" fill="#3a9a5a" fill-opacity="0.88"/>
<circle cx="128.5" cy="1235.6" r="2.6" fill="#3a9a5a" fill-opacity="0.88"/>
<circle cx="67.0" cy="1252.0" r="2.6" fill="#3a9a5a" fill-opacity="0.88"/>
<circle cx="164.1" cy="1238.9" r="2.6" fill="#3a9a5a" fill-opacity="0.88"/>
<circle cx="67.4" cy="1272.5" r="2.6" fill="#3a9a5a" fill-opacity="0.88"/>
<circle cx="140.0" cy="1265.2" r="2.6" fill="#3a9a5a" fill-opacity="0.88"/>
<circle cx="139.5" cy="1273.0" r="2.6" fill="#3a9a5a" fill-opacity="0.88"/>
<circle cx="168.5" cy="1209.3" r="2.6" fill="#3a9a5a" fill-opacity="0.88"/>
<circle cx="182.3" cy="1214.6" r="2.6" fill="#3a9a5a" fill-opacity="0.88"/>
<circle cx="182.7" cy="1217.6" r="2.6" fill="#3a9a5a" fill-opacity="0.88"/>
<circle cx="193.0" cy="1234.3" r="2.6" fill="#3a9a5a" fill-opacity="0.88"/>
<circle cx="173.9" cy="1264.9" r="2.6" fill="#3a9a5a" fill-opacity="0.88"/>
<circle cx="179.8" cy="1270.8" r="2.6" fill="#3a9a5a" fill-opacity="0.88"/>
<circle cx="173.3" cy="1275.7" r="2.6" fill="#3a9a5a" fill-opacity="0.88"/>
<circle cx="179.2" cy="1278.3" r="2.6" fill="#3a9a5a" fill-opacity="0.88"/>
<circle cx="209.9" cy="1270.4" r="2.6" fill="#3a9a5a" fill-opacity="0.88"/>
<circle cx="166.0" cy="1282.2" r="2.6" fill="#3a9a5a" fill-opacity="0.88"/>
<circle cx="192.2" cy="1290.1" r="2.6" fill="#3a9a5a" fill-opacity="0.88"/>
<circle cx="216.6" cy="1288.5" r="2.6" fill="#3a9a5a" fill-opacity="0.88"/>
<circle cx="107.2" cy="1297.4" r="2.6" fill="#3a9a5a" fill-opacity="0.88"/>
<circle cx="83.8" cy="1298.1" r="2.6" fill="#3a9a5a" fill-opacity="0.88"/>
<circle cx="86.0" cy="1317.5" r="2.6" fill="#439f62" fill-opacity="0.88"/>
<circle cx="87.1" cy="1319.3" r="2.6" fill="#449f63" fill-opacity="0.88"/>
<circle cx="123.6" cy="1305.1" r="2.6" fill="#3a9a5a" fill-opacity="0.88"/>
<circle cx="125.4" cy="1308.4" r="2.6" fill="#3c9b5c" fill-opacity="0.88"/>
<circle cx="126.1" cy="1310.2" r="2.6" fill="#3e9c5d" fill-opacity="0.88"/>
<circle cx="117.6" cy="1324.2" r="2.6" fill="#48a166" fill-opacity="0.88"/>
<circle cx="118.8" cy="1326.6" r="2.6" fill="#4aa267" fill-opacity="0.88"/>
<circle cx="144.9" cy="1305.1" r="2.6" fill="#3a9a5a" fill-opacity="0.88"/>
<circle cx="149.9" cy="1308.7" r="2.6" fill="#3d9b5c" fill-opacity="0.88"/>
<circle cx="153.5" cy="1308.4" r="2.6" fill="#3c9b5c" fill-opacity="0.88"/>
<circle cx="163.7" cy="1315.1" r="2.6" fill="#419e60" fill-opacity="0.88"/>
<circle cx="202.8" cy="1300.4" r="2.6" fill="#3a9a5a" fill-opacity="0.88"/>
<circle cx="168.5" cy="1307.1" r="2.6" fill="#3c9b5b" fill-opacity="0.88"/>
<circle cx="182.7" cy="1309.0" r="2.6" fill="#3d9c5c" fill-opacity="0.88"/>
<circle cx="180.4" cy="1314.2" r="2.6" fill="#419d60" fill-opacity="0.88"/>
<circle cx="226.5" cy="1310.6" r="2.6" fill="#3e9c5d" fill-opacity="0.88"/>
<circle cx="230.0" cy="1313.0" r="2.6" fill="#409d5f" fill-opacity="0.88"/>
<circle cx="166.0" cy="1312.6" r="2.6" fill="#409d5f" fill-opacity="0.88"/>
<circle cx="168.0" cy="1324.4" r="2.6" fill="#48a166" fill-opacity="0.88"/>
<circle cx="170.9" cy="1327.4" r="2.6" fill="#4aa268" fill-opacity="0.88"/>
<circle cx="177.8" cy="1330.3" r="2.6" fill="#4ca369" fill-opacity="0.88"/>
<circle cx="232.4" cy="1325.4" r="2.6" fill="#49a266" fill-opacity="0.88"/>
<circle cx="211.3" cy="1336.6" r="2.6" fill="#51a66d" fill-opacity="0.88"/>
<circle cx="225.1" cy="1340.2" r="2.6" fill="#54a76f" fill-opacity="0.88"/>
<circle cx="183.1" cy="1340.6" r="2.6" fill="#54a770" fill-opacity="0.88"/>
<circle cx="183.7" cy="1347.1" r="2.6" fill="#59aa74" fill-opacity="0.88"/>
<circle cx="196.9" cy="1350.0" r="2.6" fill="#5bab75" fill-opacity="0.88"/>
<circle cx="203.4" cy="1354.0" r="2.6" fill="#5eac78" fill-opacity="0.88"/>
<circle cx="65.5" cy="1217.4" r="2.6" fill="#1a7a3c" fill-opacity="0.9"/>
<circle cx="69.2" cy="1216.5" r="2.6" fill="#1a7a3c" fill-opacity="0.9"/>
<circle cx="71.4" cy="1214.6" r="2.6" fill="#1a7a3c" fill-opacity="0.9"/>
<circle cx="74.3" cy="1217.0" r="2.6" fill="#1a7a3c" fill-opacity="0.9"/>
<circle cx="75.0" cy="1212.8" r="2.6" fill="#1a7a3c" fill-opacity="0.9"/>
<circle cx="82.0" cy="1212.3" r="2.6" fill="#1a7a3c" fill-opacity="0.9"/>
<circle cx="87.1" cy="1213.4" r="2.6" fill="#1a7a3c" fill-opacity="0.9"/>
<circle cx="92.6" cy="1217.4" r="2.6" fill="#1a7a3c" fill-opacity="0.9"/>
<circle cx="94.4" cy="1214.1" r="2.6" fill="#1a7a3c" fill-opacity="0.9"/>
<circle cx="100.2" cy="1215.9" r="2.6" fill="#1a7a3c" fill-opacity="0.9"/>
<circle cx="107.9" cy="1217.7" r="2.6" fill="#1a7a3c" fill-opacity="0.9"/>
<circle cx="65.9" cy="1228.0" r="2.6" fill="#1a7a3c" fill-opacity="0.9"/>
<circle cx="73.2" cy="1228.7" r="2.6" fill="#1a7a3c" fill-opacity="0.9"/>
<circle cx="151.3" cy="1203.7" r="2.6" fill="#1a7a3c" fill-opacity="0.9"/>
<circle cx="72.5" cy="1243.8" r="2.6" fill="#1a7a3c" fill-opacity="0.9"/>
<circle cx="89.3" cy="1251.1" r="2.6" fill="#1a7a3c" fill-opacity="0.9"/>
<circle cx="69.2" cy="1259.0" r="2.6" fill="#1a7a3c" fill-opacity="0.9"/>
<circle cx="128.0" cy="1257.9" r="2.6" fill="#1a7a3c" fill-opacity="0.9"/>
<circle cx="146.2" cy="1257.5" r="2.6" fill="#1a7a3c" fill-opacity="0.9"/>
<circle cx="68.8" cy="1266.3" r="2.6" fill="#1a7a3c" fill-opacity="0.9"/>
<circle cx="130.9" cy="1274.9" r="2.6" fill="#1a7a3c" fill-opacity="0.9"/>
<circle cx="142.2" cy="1275.4" r="2.6" fill="#1a7a3c" fill-opacity="0.9"/>
<circle cx="99.3" cy="1277.6" r="2.6" fill="#1a7a3c" fill-opacity="0.9"/>
<circle cx="121.8" cy="1279.8" r="2.6" fill="#1a7a3c" fill-opacity="0.9"/>
<circle cx="129.8" cy="1289.5" r="2.6" fill="#1a7a3c" fill-opacity="0.9"/>
<circle cx="160.1" cy="1290.0" r="2.6" fill="#1a7a3c" fill-opacity="0.9"/>
<circle cx="93.8" cy="1290.7" r="2.6" fill="#1a7a3c" fill-opacity="0.9"/>
<circle cx="176.4" cy="1215.6" r="2.6" fill="#1a7a3c" fill-opacity="0.9"/>
<circle cx="176.8" cy="1221.1" r="2.6" fill="#1a7a3c" fill-opacity="0.9"/>
<circle cx="216.2" cy="1251.1" r="2.6" fill="#1a7a3c" fill-opacity="0.9"/>
<circle cx="166.0" cy="1260.9" r="2.6" fill="#1a7a3c" fill-opacity="0.9"/>
<circle cx="185.7" cy="1266.9" r="2.6" fill="#1a7a3c" fill-opacity="0.9"/>
<circle cx="185.7" cy="1271.2" r="2.6" fill="#1a7a3c" fill-opacity="0.9"/>
<circle cx="226.5" cy="1265.3" r="2.6" fill="#1a7a3c" fill-opacity="0.9"/>
<circle cx="202.4" cy="1274.4" r="2.6" fill="#1a7a3c" fill-opacity="0.9"/>
<circle cx="98.0" cy="1294.5" r="2.6" fill="#1a7a3c" fill-opacity="0.9"/>
<circle cx="91.1" cy="1298.7" r="2.6" fill="#1a7a3c" fill-opacity="0.9"/>
<circle cx="121.2" cy="1312.0" r="2.6" fill="#207d41" fill-opacity="0.9"/>
<circle cx="121.8" cy="1319.3" r="2.6" fill="#268146" fill-opacity="0.9"/>
<circle cx="112.6" cy="1329.7" r="2.6" fill="#2f864e" fill-opacity="0.9"/>
<circle cx="206.4" cy="1294.5" r="2.6" fill="#1a7a3c" fill-opacity="0.9"/>
<circle cx="209.3" cy="1295.8" r="2.6" fill="#1a7a3c" fill-opacity="0.9"/>
<circle cx="206.4" cy="1309.0" r="2.6" fill="#1d7c3f" fill-opacity="0.9"/>
<circle cx="200.5" cy="1312.6" r="2.6" fill="#207e41" fill-opacity="0.9"/>
<circle cx="235.0" cy="1315.0" r="2.6" fill="#227f43" fill-opacity="0.9"/>
<circle cx="187.7" cy="1318.1" r="2.6" fill="#258045" fill-opacity="0.9"/>
<circle cx="166.0" cy="1321.5" r="2.6" fill="#288248" fill-opacity="0.9"/>
<circle cx="169.3" cy="1322.1" r="2.6" fill="#288248" fill-opacity="0.9"/>
<circle cx="172.5" cy="1320.5" r="2.6" fill="#278247" fill-opacity="0.9"/>
<circle cx="224.5" cy="1328.8" r="2.6" fill="#2e864d" fill-opacity="0.9"/>
<circle cx="208.8" cy="1332.3" r="2.6" fill="#318750" fill-opacity="0.9"/>
<circle cx="106.6" cy="1230.1" r="2.6" fill="#055222" fill-opacity="0.92"/>
<circle cx="117.0" cy="1228.0" r="2.6" fill="#055222" fill-opacity="0.92"/>
<circle cx="127.6" cy="1230.5" r="2.6" fill="#055222" fill-opacity="0.92"/>
<circle cx="147.7" cy="1228.7" r="2.6" fill="#055222" fill-opacity="0.92"/>
<circle cx="73.2" cy="1240.2" r="2.6" fill="#055222" fill-opacity="0.92"/>
<circle cx="73.8" cy="1250.6" r="2.6" fill="#055222" fill-opacity="0.92"/>
<circle cx="103.0" cy="1253.5" r="2.6" fill="#055222" fill-opacity="0.92"/>
<circle cx="96.6" cy="1262.6" r="2.6" fill="#055222" fill-opacity="0.92"/>
<circle cx="102.0" cy="1260.3" r="2.6" fill="#055222" fill-opacity="0.92"/>
<circle cx="105.7" cy="1259.3" r="2.6" fill="#055222" fill-opacity="0.92"/>
<circle cx="123.6" cy="1259.3" r="2.6" fill="#055222" fill-opacity="0.92"/>
<circle cx="122.5" cy="1262.1" r="2.6" fill="#055222" fill-opacity="0.92"/>
<circle cx="153.1" cy="1248.8" r="2.6" fill="#055222" fill-opacity="0.92"/>
<circle cx="163.7" cy="1260.8" r="2.6" fill="#055222" fill-opacity="0.92"/>
<circle cx="82.3" cy="1265.2" r="2.6" fill="#055222" fill-opacity="0.92"/>
<circle cx="84.7" cy="1266.6" r="2.6" fill="#055222" fill-opacity="0.92"/>
<circle cx="109.7" cy="1267.0" r="2.6" fill="#055222" fill-opacity="0.92"/>
<circle cx="109.3" cy="1273.6" r="2.6" fill="#055222" fill-opacity="0.92"/>
<circle cx="124.3" cy="1269.4" r="2.6" fill="#055222" fill-opacity="0.92"/>
<circle cx="129.4" cy="1269.9" r="2.6" fill="#055222" fill-opacity="0.92"/>
<circle cx="154.1" cy="1268.1" r="2.6" fill="#055222" fill-opacity="0.92"/>
<circle cx="153.5" cy="1271.2" r="2.6" fill="#055222" fill-opacity="0.92"/>
<circle cx="124.9" cy="1285.8" r="2.6" fill="#055222" fill-opacity="0.92"/>
<circle cx="175.8" cy="1245.2" r="2.6" fill="#055222" fill-opacity="0.92"/>
<circle cx="189.6" cy="1244.8" r="2.6" fill="#055222" fill-opacity="0.92"/>
<circle cx="190.2" cy="1249.1" r="2.6" fill="#055222" fill-opacity="0.92"/>
<circle cx="203.4" cy="1250.7" r="2.6" fill="#055222" fill-opacity="0.92"/>
<circle cx="180.4" cy="1260.6" r="2.6" fill="#055222" fill-opacity="0.92"/>
<circle cx="221.2" cy="1259.4" r="2.6" fill="#055222" fill-opacity="0.92"/>
<circle cx="226.1" cy="1262.9" r="2.6" fill="#055222" fill-opacity="0.92"/>
<circle cx="102.4" cy="1295.6" r="2.6" fill="#055222" fill-opacity="0.92"/>
<circle cx="90.2" cy="1305.1" r="2.6" fill="#055222" fill-opacity="0.92"/>
<circle cx="93.8" cy="1309.6" r="2.6" fill="#095526" fill-opacity="0.92"/>
<circle cx="102.4" cy="1303.2" r="2.6" fill="#055222" fill-opacity="0.92"/>
<circle cx="110.3" cy="1318.2" r="2.6" fill="#115a2d" fill-opacity="0.92"/>
<circle cx="137.6" cy="1295.9" r="2.6" fill="#055222" fill-opacity="0.92"/>
<circle cx="215.8" cy="1296.4" r="2.6" fill="#055222" fill-opacity="0.92"/>
<circle cx="189.0" cy="1302.3" r="2.6" fill="#055222" fill-opacity="0.92"/>
<text class="tt" x="160.7" y="1149.9" textLength="195.4" lengthAdjust="spacingAndGlyphs">Wasserstein barycenter for cluster 4</text>
<polygon points="49.5,1767.2 253.0,1747.5 255.7,1552.2 44.6,1567.4" fill="#f2f2f2"/>
<polygon points="253.0,1747.5 319.9,1826.2 325.5,1613.1 255.7,1552.2" fill="#f8f8f8"/>
<polygon points="49.5,1767.2 253.0,1747.5 319.9,1826.2 96.7,1850.2" fill="#f5f5f5"/>
<path d="M308.0 1827.5L242.1 1748.6L244.3 1553.1M267.6 1831.8L205.2 1752.1L206.1 1555.8M226.8 1836.2L168.0 1755.7L167.6 1558.6M185.7 1840.6L130.4 1759.4L128.6 1561.4M144.0 1845.1L92.5 1763.0L89.3 1564.2M102.0 1849.6L54.2 1766.7L49.6 1567.1M51.2 1770.1L255.4 1750.3L258.1 1554.4M59.2 1784.3L266.8 1763.8L270.1 1564.8M67.6 1799.0L278.7 1777.7L282.4 1575.6M76.3 1814.2L291.0 1792.2L295.2 1586.7M85.3 1830.0L303.7 1807.1L308.6 1598.3M94.6 1846.4L316.9 1822.7L322.4 1610.4M49.2 1754.8L253.2 1735.4L320.3 1813.0M48.3 1719.4L253.6 1700.8L321.3 1775.4M47.4 1683.6L254.1 1665.8L322.3 1737.2M46.6 1647.3L254.6 1630.3L323.3 1698.5M45.7 1610.5L255.1 1594.3L324.3 1659.2M44.8 1573.2L255.6 1557.9L325.4 1619.3" fill="none" stroke="#c8c8c8" stroke-width="1.0"/>
<path d="M44.6 1567.4L49.5 1767.2L96.7 1850.2L319.9 1826.2" fill="none" stroke="#505050" stroke-width="1.0"/>
<path d="M45.3 1755.2L51.4 1754.6M44.4 1719.8L50.5 1719.2M43.6 1683.9L49.6 1683.4M42.7 1647.6L48.8 1647.1M41.8 1610.8L47.9 1610.3M40.9 1573.5L47.0 1573.0M46.7 1770.6L52.7 1770.0M54.7 1784.8L60.7 1784.2M63.1 1799.4L69.1 1798.8M71.8 1814.7L77.7 1814.1M80.8 1830.5L86.7 1829.9M90.1 1846.9L96.1 1846.3M310.5 1830.5L307.0 1826.3M270.1 1835.0L266.7 1830.6M229.2 1839.4L226.0 1835.0M187.9 1843.9L184.8 1839.4M146.2 1848.5L143.2 1843.8M104.0 1853.1L101.2 1848.3" fill="none" stroke="#3a3a3a" stroke-width="1.0"/>
<g class="tl"><text x="36.5" y="1760.0" textLength="14.0" lengthAdjust="spacingAndGlyphs">0.0</text><text x="35.6" y="1724.6" textLength="14.0" lengthAdjust="spacingAndGlyphs">0.2</text><text x="34.7" y="1688.8" textLength="14.0" lengthAdjust="spacingAndGlyphs">0.4</text><text x="33.9" y="1652.4" textLength="14.0" lengthAdjust="spacingAndGlyphs">0.6</text><text x="33.0" y="1615.6" textLength="14.0" lengthAdjust="spacingAndGlyphs">0.8</text><text x="32.1" y="1578.3" textLength="14.0" lengthAdjust="spacingAndGlyphs">1.0</text><text x="40.7" y="1788.8" textLength="14.0" lengthAdjust="spacingAndGlyphs">0.0</text><text x="48.7" y="1803.0" textLength="14.0" lengthAdjust="spacingAndGlyphs">0.2</text><text x="57.1" y="1817.6" textLength="14.0" lengthAdjust="spacingAndGlyphs">0.4</text><text x="65.8" y="1832.9" textLength="14.0" lengthAdjust="spacingAndGlyphs">0.6</text><text x="74.8" y="1848.7" textLength="14.0" lengthAdjust="spacingAndGlyphs">0.8</text><text x="84.1" y="1865.1" textLength="14.0" lengthAdjust="spacingAndGlyphs">1.0</text><text x="310.7" y="1849.4" textLength="14.0" lengthAdjust="spacingAndGlyphs">0.0</text><text x="270.4" y="1853.8" textLength="14.0" lengthAdjust="spacingAndGlyphs">0.2</text><text x="229.6" y="1858.1" textLength="14.0" lengthAdjust="spacingAndGlyphs">0.4</text><text x="188.4" y="1862.6" textLength="14.0" lengthAdjust="spacingAndGlyphs">0.6</text><text x="146.8" y="1867.0" textLength="14.0" lengthAdjust="spacingAndGlyphs">0.8</text><text x="104.7" y="1871.6" textLength="14.0" lengthAdjust="spacingAndGlyphs">1.0</text></g>
<text class="al" transform="translate(22.6 1665.3) rotate(-90)" textLength="20.2" lengthAdjust="spacingAndGlyphs">time</text>
<text class="al" transform="translate(50.3 1830.0) rotate(60)" dy="3.4" textLength="36.1" lengthAdjust="spacingAndGlyphs">mobility</text>
<text class="al" transform="translate(216.7 1870.3) rotate(-6)" dy="2.5" textLength="46.6" lengthAdjust="spacingAndGlyphs">new cases</text>
<circle cx="223.9" cy="1738.1" r="2.6" fill="#e3f4df" fill-opacity="0.8"/>
<circle cx="231.8" cy="1738.1" r="2.6" fill="#e3f4df" fill-opacity="0.8"/>
<circle cx="241.7" cy="1741.0" r="2.6" fill="#e3f4e0" fill-opacity="0.8"/>
<circle cx="234.2" cy="1748.3" r="2.6" fill="#e4f4e1" fill-opacity="0.8"/>
<circle cx="240.5" cy="1749.9" r="2.6" fill="#e4f4e1" fill-opacity="0.8"/>
<circle cx="254.3" cy="1755.8" r="2.6" fill="#e5f5e2" fill-opacity="0.8"/>
<circle cx="258.8" cy="1756.2" r="2.6" fill="#e5f5e2" fill-opacity="0.8"/>
<circle cx="258.8" cy="1770.6" r="2.6" fill="#e7f5e4" fill-opacity="0.8"/>
<circle cx="265.3" cy="1773.5" r="2.6" fill="#e7f5e4" fill-opacity="0.8"/>
<circle cx="264.7" cy="1783.8" r="2.6" fill="#e8f6e6" fill-opacity="0.8"/>
<circle cx="273.2" cy="1775.1" r="2.6" fill="#e7f6e5" fill-opacity="0.8"/>
<circle cx="281.5" cy="1787.3" r="2.6" fill="#e8f6e6" fill-opacity="0.8"/>
<circle cx="285.4" cy="1793.2" r="2.6" fill="#e8f6e6" fill-opacity="0.8"/>
<circle cx="298.2" cy="1801.1" r="2.6" fill="#e8f6e6" fill-opacity="0.8"/>
<circle cx="189.2" cy="1676.8" r="2.6" fill="#bce3b7" fill-opacity="0.82"/>
<circle cx="77.7" cy="1693.2" r="2.6" fill="#bee4b9" fill-opacity="0.82"/>
<circle cx="90.5" cy="1694.2" r="2.6" fill="#bee4b9" fill-opacity="0.82"/>
<circle cx="91.4" cy="1702.4" r="2.6" fill="#c0e5bb" fill-opacity="0.82"/>
<circle cx="121.2" cy="1697.3" r="2.6" fill="#bfe4ba" fill-opacity="0.82"/>
<circle cx="138.9" cy="1694.2" r="2.6" fill="#bee4b9" fill-opacity="0.82"/>
<circle cx="149.8" cy="1705.1" r="2.6" fill="#c0e5bc" fill-opacity="0.82"/>
<circle cx="164.4" cy="1704.6" r="2.6" fill="#c0e5bc" fill-opacity="0.82"/>
<circle cx="177.2" cy="1704.6" r="2.6" fill="#c0e5bc" fill-opacity="0.82"/>
<circle cx="143.8" cy="1709.7" r="2.6" fill="#c2e5bd" fill-opacity="0.82"/>
<circle cx="154.0" cy="1712.4" r="2.6" fill="#c2e6be" fill-opacity="0.82"/>
<circle cx="104.2" cy="1709.3" r="2.6" fill="#c2e5bd" fill-opacity="0.82"/>
<circle cx="112.4" cy="1708.8" r="2.6" fill="#c1e5bd" fill-opacity="0.82"/>
<circle cx="117.9" cy="1713.0" r="2.6" fill="#c2e6be" fill-opacity="0.82"/>
<circle cx="118.8" cy="1717.3" r="2.6" fill="#c3e6bf" fill-opacity="0.82"/>
<circle cx="121.2" cy="1719.2" r="2.6" fill="#c4e6c0" fill-opacity="0.82"/>
<circle cx="127.0" cy="1724.6" r="2.6" fill="#c5e7c1" fill-opacity="0.82"/>
<circle cx="137.0" cy="1732.5" r="2.6" fill="#c7e8c3" fill-opacity="0.82"/>
<circle cx="137.9" cy="1739.8" r="2.6" fill="#c9e8c5" fill-opacity="0.82"/>
<circle cx="146.7" cy="1727.9" r="2.6" fill="#c6e7c2" fill-opacity="0.82"/>
<circle cx="151.6" cy="1724.3" r="2.6" fill="#c5e7c1" fill-opacity="0.82"/>
<circle cx="155.8" cy="1725.2" r="2.6" fill="#c5e7c1" fill-opacity="0.82"/>
<circle cx="157.6" cy="1730.1" r="2.6" fill="#c7e7c2" fill-opacity="0.82"/>
<circle cx="169.3" cy="1733.8" r="2.6" fill="#c8e8c3" fill-opacity="0.82"/>
<circle cx="170.8" cy="1726.5" r="2.6" fill="#c6e7c1" fill-opacity="0.82"/>
<circle cx="178.1" cy="1737.0" r="2.6" fill="#c8e8c4" fill-opacity="0.82"/>
<circle cx="209.5" cy="1697.7" r="2.6" fill="#bfe4ba" fill-opacity="0.82"/>
<circle cx="214.5" cy="1697.7" r="2.6" fill="#bfe4ba" fill-opacity="0.82"/>
<circle cx="182.9" cy="1710.5" r="2.6" fill="#c2e5bd" fill-opacity="0.82"/>
<circle cx="198.7" cy="1714.0" r="2.6" fill="#c3e6be" fill-opacity="0.82"/>
<circle cx="210.9" cy="1710.1" r="2.6" fill="#c2e5bd" fill-opacity="0.82"/>
<circle cx="225.9" cy="1712.8" r="2.6" fill="#c2e6be" fill-opacity="0.82"/>
<circle cx="211.5" cy="1716.8" r="2.6" fill="#c3e6bf" fill-opacity="0.82"/>
<circle cx="220.8" cy="1718.8" r="2.6" fill="#c4e6bf" fill-opacity="0.82"/>
<circle cx="197.7" cy="1726.6" r="2.6" fill="#c6e7c2" fill-opacity="0.82"/>
<circle cx="203.0" cy="1724.3" r="2.6" fill="#c5e7c1" fill-opacity="0.82"/>
<circle cx="210.9" cy="1727.2" r="2.6" fill="#c6e7c2" fill-opacity="0.82"/>
<circle cx="225.9" cy="1721.9" r="2.6" fill="#c5e7c0" fill-opacity="0.82"/>
<circle cx="194.4" cy="1730.2" r="2.6" fill="#c7e7c2" fill-opacity="0.82"/>
<circle cx="198.7" cy="1737.7" r="2.6" fill="#c9e8c4" fill-opacity="0.82"/>
<circle cx="210.5" cy="1732.5" r="2.6" fill="#c7e8c3" fill-opacity="0.82"/>
<circle cx="229.8" cy="1731.2" r="2.6" fill="#c7e8c3" fill-opacity="0.82"/>
<circle cx="209.5" cy="1745.9" r="2.6" fill="#cbe9c7" fill-opacity="0.82"/>
<circle cx="206.6" cy="1748.3" r="2.6" fill="#cbe9c7" fill-opacity="0.82"/>
<circle cx="214.9" cy="1748.9" r="2.6" fill="#cbe9c7" fill-opacity="0.82"/>
<circle cx="224.7" cy="1755.4" r="2.6" fill="#cdeac9" fill-opacity="0.82"/>
<circle cx="242.5" cy="1759.7" r="2.6" fill="#ceebca" fill-opacity="0.82"/>
<circle cx="237.7" cy="1768.0" r="2.6" fill="#d0ebcc" fill-opacity="0.82"/>
<circle cx="241.7" cy="1767.2" r="2.6" fill="#d0ebcc" fill-opacity="0.82"/>
<circle cx="250.9" cy="1775.5" r="2.6" fill="#d2ecce" fill-opacity="0.82"/>
<circle cx="75.5" cy="1634.4" r="2.6" fill="#8acd91" fill-opacity="0.85"/>
<circle cx="74.4" cy="1638.6" r="2.6" fill="#8acd91" fill-opacity="0.85"/>
<circle cx="152.5" cy="1636.8" r="2.6" fill="#8acd91" fill-opacity="0.85"/>
<circle cx="155.3" cy="1630.8" r="2.6" fill="#8acd91" fill-opacity="0.85"/>
<circle cx="89.0" cy="1641.7" r="2.6" fill="#8acd91" fill-opacity="0.85"/>
<circle cx="103.6" cy="1646.8" r="2.6" fill="#8acd91" fill-opacity="0.85"/>
<circle cx="115.1" cy="1646.8" r="2.6" fill="#8acd91" fill-opacity="0.85"/>
<circle cx="132.1" cy="1641.3" r="2.6" fill="#8acd91" fill-opacity="0.85"/>
<circle cx="137.9" cy="1654.1" r="2.6" fill="#8acd91" fill-opacity="0.85"/>
<circle cx="168.1" cy="1639.2" r="2.6" fill="#8acd91" fill-opacity="0.85"/>
<circle cx="170.8" cy="1648.3" r="2.6" fill="#8acd91" fill-opacity="0.85"/>
<circle cx="175.9" cy="1648.3" r="2.6" fill="#8acd91" fill-opacity="0.85"/>
<circle cx="72.6" cy="1657.4" r="2.6" fill="#8acd91" fill-opacity="0.85"/>
<circle cx="76.8" cy="1661.1" r="2.6" fill="#8acd91" fill-opacity="0.85"/>
<circle cx="89.6" cy="1657.4" r="2.6" fill="#8acd91" fill-opacity="0.85"/>
<circle cx="96.0" cy="1665.1" r="2.6" fill="#8acd91" fill-opacity="0.85"/>
<circle cx="110.6" cy="1659.6" r="2.6" fill="#8acd91" fill-opacity="0.85"/>
<circle cx="130.3" cy="1663.6" r="2.6" fill="#8acd91" fill-opacity="0.85"/>
<circle cx="158.4" cy="1670.2" r="2.6" fill="#8acd91" fill-opacity="0.85"/>
<circle cx="168.6" cy="1661.8" r="2.6" fill="#8acd91" fill-opacity="0.85"/>
<circle cx="178.1" cy="1672.7" r="2.6" fill="#8acd91" fill-opacity="0.85"/>
<circle cx="70.4" cy="1670.2" r="2.6" fill="#8acd91" fill-opacity="0.85"/>
<circle cx="71.3" cy="1674.2" r="2.6" fill="#8acd91" fill-opacity="0.85"/>
<circle cx="115.1" cy="1680.6" r="2.6" fill="#8acd91" fill-opacity="0.85"/>
<circle cx="137.9" cy="1676.4" r="2.6" fill="#8acd91" fill-opacity="0.85"/>
<circle cx="182.5" cy="1593.7" r="2.6" fill="#8acd91" fill-opacity="0.85"/>
<circle cx="184.5" cy="1611.4" r="2.6" fill="#8acd91" fill-opacity="0.85"/>
<circle cx="196.3" cy="1623.6" r="2.6" fill="#8acd91" fill-opacity="0.85"/>
<circle cx="187.3" cy="1650.4" r="2.6" fill="#8acd91" fill-opacity="0.85"/>
<circle cx="204.2" cy="1648.9" r="2.6" fill="#8acd91" fill-opacity="0.85"/>
<circle cx="209.5" cy="1649.3" r="2.6" fill="#8acd91" fill-opacity="0.85"/>
<circle cx="201.7" cy="1664.6" r="2.6" fill="#8acd91" fill-opacity="0.85"/>
<circle cx="204.6" cy="1663.1" r="2.6" fill="#8acd91" fill-opacity="0.85"/>
<circle cx="73.2" cy="1685.9" r="2.6" fill="#8acd91" fill-opacity="0.85"/>
<circle cx="80.5" cy="1688.1" r="2.6" fill="#8acd91" fill-opacity="0.85"/>
<circle cx="82.8" cy="1700.2" r="2.6" fill="#90cf96" fill-opacity="0.85"/>
<circle cx="87.8" cy="1700.5" r="2.6" fill="#90cf96" fill-opacity="0.85"/>
<circle cx="125.5" cy="1695.4" r="2.6" fill="#8ecf94" fill-opacity="0.85"/>
<circle cx="136.1" cy="1682.3" r="2.6" fill="#8acd91" fill-opacity="0.85"/>
<circle cx="133.4" cy="1705.7" r="2.6" fill="#92d099" fill-opacity="0.85"/>
<circle cx="158.0" cy="1693.6" r="2.6" fill="#8dce94" fill-opacity="0.85"/>
<circle cx="151.6" cy="1697.3" r="2.6" fill="#8ecf95" fill-opacity="0.85"/>
<circle cx="171.7" cy="1701.5" r="2.6" fill="#90d097" fill-opacity="0.85"/>
<circle cx="178.1" cy="1696.9" r="2.6" fill="#8ecf95" fill-opacity="0.85"/>
<circle cx="92.7" cy="1712.4" r="2.6" fill="#95d29b" fill-opacity="0.85"/>
<circle cx="106.0" cy="1716.6" r="2.6" fill="#97d29d" fill-opacity="0.85"/>
<circle cx="102.4" cy="1724.3" r="2.6" fill="#9ad4a0" fill-opacity="0.85"/>
<circle cx="123.3" cy="1730.1" r="2.6" fill="#9dd5a2" fill-opacity="0.85"/>
<circle cx="129.7" cy="1722.1" r="2.6" fill="#99d39f" fill-opacity="0.85"/>
<circle cx="131.6" cy="1720.6" r="2.6" fill="#98d39f" fill-opacity="0.85"/>
<circle cx="158.9" cy="1719.7" r="2.6" fill="#98d39e" fill-opacity="0.85"/>
<circle cx="162.6" cy="1737.4" r="2.6" fill="#a0d6a5" fill-opacity="0.85"/>
<circle cx="170.8" cy="1735.6" r="2.6" fill="#9fd6a5" fill-opacity="0.85"/>
<circle cx="178.1" cy="1731.6" r="2.6" fill="#9dd5a3" fill-opacity="0.85"/>
<circle cx="198.3" cy="1694.3" r="2.6" fill="#8dce94" fill-opacity="0.85"/>
<circle cx="229.8" cy="1694.7" r="2.6" fill="#8dce94" fill-opacity="0.85"/>
<circle cx="232.2" cy="1704.2" r="2.6" fill="#91d098" fill-opacity="0.85"/>
<circle cx="236.2" cy="1718.8" r="2.6" fill="#98d39e" fill-opacity="0.85"/>
<circle cx="249.0" cy="1722.7" r="2.6" fill="#99d49f" fill-opacity="0.85"/>
<circle cx="250.9" cy="1728.2" r="2.6" fill="#9cd5a2" fill-opacity="0.85"/>
<circle cx="187.9" cy="1722.7" r="2.6" fill="#99d49f" fill-opacity="0.85"/>
<circle cx="191.8" cy="1727.2" r="2.6" fill="#9bd4a1" fill-opacity="0.85"/>
<circle cx="223.3" cy="1730.2" r="2.6" fill="#9dd5a3" fill-opacity="0.85"/>
<circle cx="218.4" cy="1731.2" r="2.6" fill="#9dd5a3" fill-opacity="0.85"/>
<circle cx="180.0" cy="1732.5" r="2.6" fill="#9ed5a3" fill-opacity="0.85"/>
<circle cx="185.3" cy="1737.7" r="2.6" fill="#a0d6a6" fill-opacity="0.85"/>
<circle cx="183.3" cy="1741.6" r="2.6" fill="#a2d7a7" fill-opacity="0.85"/>
<circle cx="95.6" cy="1597.5" r="2.6" fill="#3a9a5a" fill-opacity="0.88"/>
<circle cx="104.7" cy="1594.3" r="2.6" fill="#3a9a5a" fill-opacity="0.88"/>
<circle cx="113.9" cy="1594.8" r="2.6" fill="#3a9a5a" fill-opacity="0.88"/>
<circle cx="133.9" cy="1591.2" r="2.6" fill="#3a9a5a" fill-opacity="0.88"/>
<circle cx="139.8" cy="1597.9" r="2.6" fill="#3a9a5a" fill-opacity="0.88"/>
<circle cx="149.8" cy="1588.1" r="2.6" fill="#3a9a5a" fill-opacity="0.88"/>
<circle cx="152.9" cy="1587.0" r="2.6" fill="#3a9a5a" fill-opacity="0.88"/>
<circle cx="155.8" cy="1590.2" r="2.6" fill="#3a9a5a" fill-opacity="0.88"/>
<circle cx="84.7" cy="1603.0" r="2.6" fill="#3a9a5a" fill-opacity="0.88"/>
<circle cx="115.1" cy="1614.9" r="2.6" fill="#3a9a5a" fill-opacity="0.88"/>
<circle cx="149.3" cy="1610.7" r="2.6" fill="#3a9a5a" fill-opacity="0.88"/>
<circle cx="160.8" cy="1600.3" r="2.6" fill="#3a9a5a" fill-opacity="0.88"/>
<circle cx="176.6" cy="1604.8" r="2.6" fill="#3a9a5a" fill-opacity="0.88"/>
<circle cx="178.5" cy="1599.4" r="2.6" fill="#3a9a5a" fill-opacity="0.88"/>
<circle cx="126.1" cy="1619.8" r="2.6" fill="#3a9a5a" fill-opacity="0.88"/>
<circle cx="160.2" cy="1619.8" r="2.6" fill="#3a9a5a" fill-opacity="0.88"/>
<circle cx="168.1" cy="1619.1" r="2.6" fill="#3a9a5a" fill-opacity="0.88"/>
<circle cx="83.2" cy="1627.7" r="2.6" fill="#3a9a5a" fill-opacity="0.88"/>
<circle cx="80.5" cy="1633.1" r="2.6" fill="#3a9a5a" fill-opacity="0.88"/>
<circle cx="95.6" cy="1634.4" r="2.6" fill="#3a9a5a" fill-opacity="0.88"/>
<circle cx="123.0" cy="1632.2" r="2.6" fill="#3a9a5a" fill-opacity="0.88"/>
<circle cx="133.9" cy="1634.4" r="2.6" fill="#3a9a5a" fill-opacity="0.88"/>
<circle cx="157.1" cy="1627.1" r="2.6" fill="#3a9a5a" fill-opacity="0.88"/>
<circle cx="83.2" cy="1644.6" r="2.6" fill="#3a9a5a" fill-opacity="0.88"/>
<circle cx="85.4" cy="1647.7" r="2.6" fill="#3a9a5a" fill-opacity="0.88"/>
<circle cx="115.7" cy="1643.5" r="2.6" fill="#3a9a5a" fill-opacity="0.88"/>
<circle cx="139.4" cy="1652.3" r="2.6" fill="#3a9a5a" fill-opacity="0.88"/>
<circle cx="155.3" cy="1648.3" r="2.6" fill="#3a9a5a" fill-opacity="0.88"/>
<circle cx="176.6" cy="1640.4" r="2.6" fill="#3a9a5a" fill-opacity="0.88"/>
<circle cx="106.9" cy="1659.2" r="2.6" fill="#3a9a5a" fill-opacity="0.88"/>
<circle cx="141.2" cy="1670.5" r="2.6" fill="#3a9a5a" fill-opacity="0.88"/>
<circle cx="82.3" cy="1681.1" r="2.6" fill="#3a9a5a" fill-opacity="0.88"/>
<circle cx="190.4" cy="1597.2" r="2.6" fill="#3a9a5a" fill-opacity="0.88"/>
<circle cx="200.3" cy="1605.9" r="2.6" fill="#3a9a5a" fill-opacity="0.88"/>
<circle cx="196.7" cy="1616.3" r="2.6" fill="#3a9a5a" fill-opacity="0.88"/>
<circle cx="195.2" cy="1618.9" r="2.6" fill="#3a9a5a" fill-opacity="0.88"/>
<circle cx="208.2" cy="1625.6" r="2.6" fill="#3a9a5a" fill-opacity="0.88"/>
<circle cx="212.5" cy="1621.3" r="2.6" fill="#3a9a5a" fill-opacity="0.88"/>
<circle cx="185.9" cy="1644.5" r="2.6" fill="#3a9a5a" fill-opacity="0.88"/>
<circle cx="183.9" cy="1649.8" r="2.6" fill="#3a9a5a" fill-opacity="0.88"/>
<circle cx="205.0" cy="1652.4" r="2.6" fill="#3a9a5a" fill-opacity="0.88"/>
<circle cx="213.5" cy="1645.9" r="2.6" fill="#3a9a5a" fill-opacity="0.88"/>
<circle cx="214.9" cy="1665.0" r="2.6" fill="#3a9a5a" fill-opacity="0.88"/>
<circle cx="180.6" cy="1672.9" r="2.6" fill="#3a9a5a" fill-opacity="0.88"/>
<circle cx="184.5" cy="1673.5" r="2.6" fill="#3a9a5a" fill-opacity="0.88"/>
<circle cx="222.0" cy="1680.4" r="2.6" fill="#3a9a5a" fill-opacity="0.88"/>
<circle cx="229.8" cy="1679.4" r="2.6" fill="#3a9a5a" fill-opacity="0.88"/>
<circle cx="84.1" cy="1688.7" r="2.6" fill="#3b9b5b" fill-opacity="0.88"/>
<circle cx="96.9" cy="1699.1" r="2.6" fill="#439e61" fill-opacity="0.88"/>
<circle cx="163.5" cy="1698.4" r="2.6" fill="#429e61" fill-opacity="0.88"/>
<circle cx="162.6" cy="1710.0" r="2.6" fill="#4ba368" fill-opacity="0.88"/>
<circle cx="100.5" cy="1718.4" r="2.6" fill="#51a66d" fill-opacity="0.88"/>
<circle cx="103.6" cy="1717.9" r="2.6" fill="#50a56d" fill-opacity="0.88"/>
<circle cx="112.8" cy="1726.1" r="2.6" fill="#56a972" fill-opacity="0.88"/>
<circle cx="110.9" cy="1733.0" r="2.6" fill="#5bab76" fill-opacity="0.88"/>
<circle cx="116.0" cy="1730.7" r="2.6" fill="#5aaa75" fill-opacity="0.88"/>
<circle cx="245.0" cy="1695.7" r="2.6" fill="#409d5f" fill-opacity="0.88"/>
<circle cx="222.0" cy="1708.9" r="2.6" fill="#4aa267" fill-opacity="0.88"/>
<circle cx="188.5" cy="1708.9" r="2.6" fill="#4aa267" fill-opacity="0.88"/>
<circle cx="191.2" cy="1710.5" r="2.6" fill="#4ba368" fill-opacity="0.88"/>
<circle cx="225.3" cy="1726.6" r="2.6" fill="#57a972" fill-opacity="0.88"/>
<circle cx="200.3" cy="1731.2" r="2.6" fill="#5aaa75" fill-opacity="0.88"/>
<circle cx="127.9" cy="1594.3" r="2.6" fill="#1a7a3c" fill-opacity="0.9"/>
<circle cx="130.6" cy="1593.0" r="2.6" fill="#1a7a3c" fill-opacity="0.9"/>
<circle cx="123.3" cy="1600.8" r="2.6" fill="#1a7a3c" fill-opacity="0.9"/>
<circle cx="126.6" cy="1602.7" r="2.6" fill="#1a7a3c" fill-opacity="0.9"/>
<circle cx="79.9" cy="1610.3" r="2.6" fill="#1a7a3c" fill-opacity="0.9"/>
<circle cx="83.6" cy="1610.7" r="2.6" fill="#1a7a3c" fill-opacity="0.9"/>
<circle cx="114.6" cy="1610.0" r="2.6" fill="#1a7a3c" fill-opacity="0.9"/>
<circle cx="117.0" cy="1612.5" r="2.6" fill="#1a7a3c" fill-opacity="0.9"/>
<circle cx="139.8" cy="1608.9" r="2.6" fill="#1a7a3c" fill-opacity="0.9"/>
<circle cx="158.4" cy="1604.5" r="2.6" fill="#1a7a3c" fill-opacity="0.9"/>
<circle cx="164.4" cy="1601.6" r="2.6" fill="#1a7a3c" fill-opacity="0.9"/>
<circle cx="76.8" cy="1620.4" r="2.6" fill="#1a7a3c" fill-opacity="0.9"/>
<circle cx="96.9" cy="1621.6" r="2.6" fill="#1a7a3c" fill-opacity="0.9"/>
<circle cx="106.6" cy="1620.9" r="2.6" fill="#1a7a3c" fill-opacity="0.9"/>
<circle cx="117.0" cy="1632.2" r="2.6" fill="#1a7a3c" fill-opacity="0.9"/>
<circle cx="146.7" cy="1636.8" r="2.6" fill="#1a7a3c" fill-opacity="0.9"/>
<circle cx="138.3" cy="1639.9" r="2.6" fill="#1a7a3c" fill-opacity="0.9"/>
<circle cx="126.6" cy="1649.6" r="2.6" fill="#1a7a3c" fill-opacity="0.9"/>
<circle cx="154.7" cy="1651.9" r="2.6" fill="#1a7a3c" fill-opacity="0.9"/>
<circle cx="163.1" cy="1642.3" r="2.6" fill="#1a7a3c" fill-opacity="0.9"/>
<circle cx="166.8" cy="1644.6" r="2.6" fill="#1a7a3c" fill-opacity="0.9"/>
<circle cx="178.1" cy="1643.5" r="2.6" fill="#1a7a3c" fill-opacity="0.9"/>
<circle cx="88.3" cy="1652.7" r="2.6" fill="#1a7a3c" fill-opacity="0.9"/>
<circle cx="98.7" cy="1653.8" r="2.6" fill="#1a7a3c" fill-opacity="0.9"/>
<circle cx="95.6" cy="1659.2" r="2.6" fill="#1a7a3c" fill-opacity="0.9"/>
<circle cx="120.6" cy="1662.9" r="2.6" fill="#1a7a3c" fill-opacity="0.9"/>
<circle cx="141.6" cy="1661.1" r="2.6" fill="#1a7a3c" fill-opacity="0.9"/>
<circle cx="148.0" cy="1667.8" r="2.6" fill="#1a7a3c" fill-opacity="0.9"/>
<circle cx="173.5" cy="1659.2" r="2.6" fill="#1a7a3c" fill-opacity="0.9"/>
<circle cx="175.9" cy="1665.4" r="2.6" fill="#1a7a3c" fill-opacity="0.9"/>
<circle cx="102.9" cy="1677.5" r="2.6" fill="#1a7a3c" fill-opacity="0.9"/>
<circle cx="108.4" cy="1680.6" r="2.6" fill="#1a7a3c" fill-opacity="0.9"/>
<circle cx="110.6" cy="1677.5" r="2.6" fill="#1a7a3c" fill-opacity="0.9"/>
<circle cx="150.7" cy="1677.5" r="2.6" fill="#1a7a3c" fill-opacity="0.9"/>
<circle cx="168.1" cy="1681.9" r="2.6" fill="#1a7a3c" fill-opacity="0.9"/>
<circle cx="197.1" cy="1585.4" r="2.6" fill="#1a7a3c" fill-opacity="0.9"/>
<circle cx="201.7" cy="1585.8" r="2.6" fill="#1a7a3c" fill-opacity="0.9"/>
<circle cx="206.6" cy="1598.6" r="2.6" fill="#1a7a3c" fill-opacity="0.9"/>
<circle cx="189.2" cy="1623.6" r="2.6" fill="#1a7a3c" fill-opacity="0.9"/>
<circle cx="224.3" cy="1630.7" r="2.6" fill="#1a7a3c" fill-opacity="0.9"/>
<circle cx="252.9" cy="1637.0" r="2.6" fill="#1a7a3c" fill-opacity="0.9"/>
<circle cx="252.9" cy="1642.0" r="2.6" fill="#1a7a3c" fill-opacity="0.9"/>
<circle cx="197.1" cy="1651.8" r="2.6" fill="#1a7a3c" fill-opacity="0.9"/>
<circle cx="227.9" cy="1642.6" r="2.6" fill="#1a7a3c" fill-opacity="0.9"/>
<circle cx="248.4" cy="1650.8" r="2.6" fill="#1a7a3c" fill-opacity="0.9"/>
<circle cx="188.9" cy="1656.7" r="2.6" fill="#1a7a3c" fill-opacity="0.9"/>
<circle cx="224.7" cy="1658.7" r="2.6" fill="#1a7a3c" fill-opacity="0.9"/>
<circle cx="210.9" cy="1663.1" r="2.6" fill="#1a7a3c" fill-opacity="0.9"/>
<circle cx="212.1" cy="1669.0" r="2.6" fill="#1a7a3c" fill-opacity="0.9"/>
<circle cx="85.4" cy="1687.4" r="2.6" fill="#1a7a3c" fill-opacity="0.9"/>
<circle cx="105.1" cy="1684.5" r="2.6" fill="#1a7a3c" fill-opacity="0.9"/>
<circle cx="106.6" cy="1702.0" r="2.6" fill="#278147" fill-opacity="0.9"/>
<circle cx="120.6" cy="1688.7" r="2.6" fill="#1b7b3d" fill-opacity="0.9"/>
<circle cx="114.6" cy="1696.5" r="2.6" fill="#227f43" fill-opacity="0.9"/>
<circle cx="132.8" cy="1686.9" r="2.6" fill="#1a7a3c" fill-opacity="0.9"/>
<circle cx="128.8" cy="1704.6" r="2.6" fill="#298349" fill-opacity="0.9"/>
<circle cx="134.3" cy="1711.1" r="2.6" fill="#2e864d" fill-opacity="0.9"/>
<circle cx="154.0" cy="1690.0" r="2.6" fill="#1d7b3e" fill-opacity="0.9"/>
<circle cx="151.6" cy="1701.5" r="2.6" fill="#268146" fill-opacity="0.9"/>
<circle cx="166.8" cy="1699.1" r="2.6" fill="#248045" fill-opacity="0.9"/>
<circle cx="169.9" cy="1708.8" r="2.6" fill="#2c854c" fill-opacity="0.9"/>
<circle cx="112.0" cy="1716.1" r="2.6" fill="#338851" fill-opacity="0.9"/>
<circle cx="189.8" cy="1683.3" r="2.6" fill="#1a7a3c" fill-opacity="0.9"/>
<circle cx="216.8" cy="1683.9" r="2.6" fill="#1a7a3c" fill-opacity="0.9"/>
<circle cx="195.8" cy="1688.8" r="2.6" fill="#1c7b3d" fill-opacity="0.9"/>
<circle cx="181.4" cy="1697.1" r="2.6" fill="#237f43" fill-opacity="0.9"/>
<circle cx="188.5" cy="1696.3" r="2.6" fill="#227f43" fill-opacity="0.9"/>
<circle cx="234.6" cy="1688.8" r="2.6" fill="#1c7b3d" fill-opacity="0.9"/>
<circle cx="204.2" cy="1704.6" r="2.6" fill="#298349" fill-opacity="0.9"/>
<circle cx="220.0" cy="1705.5" r="2.6" fill="#2a8349" fill-opacity="0.9"/>
<circle cx="230.6" cy="1719.3" r="2.6" fill="#358a53" fill-opacity="0.9"/>
<circle cx="114.6" cy="1639.9" r="2.6" fill="#055222" fill-opacity="0.92"/>
<circle cx="134.7" cy="1643.5" r="2.6" fill="#055222" fill-opacity="0.92"/>
<circle cx="132.8" cy="1650.8" r="2.6" fill="#055222" fill-opacity="0.92"/>
<circle cx="142.0" cy="1649.6" r="2.6" fill="#055222" fill-opacity="0.92"/>
<circle cx="160.8" cy="1653.2" r="2.6" fill="#055222" fill-opacity="0.92"/>
<circle cx="106.6" cy="1656.3" r="2.6" fill="#055222" fill-opacity="0.92"/>
<circle cx="114.2" cy="1655.6" r="2.6" fill="#055222" fill-opacity="0.92"/>
<circle cx="117.9" cy="1655.6" r="2.6" fill="#055222" fill-opacity="0.92"/>
<circle cx="229.8" cy="1632.1" r="2.6" fill="#055222" fill-opacity="0.92"/>
<circle cx="233.2" cy="1632.1" r="2.6" fill="#055222" fill-opacity="0.92"/>
<circle cx="244.4" cy="1633.5" r="2.6" fill="#055222" fill-opacity="0.92"/>
<circle cx="182.0" cy="1637.0" r="2.6" fill="#055222" fill-opacity="0.92"/>
<circle cx="194.4" cy="1637.0" r="2.6" fill="#055222" fill-opacity="0.92"/>
<circle cx="202.6" cy="1638.0" r="2.6" fill="#055222" fill-opacity="0.92"/>
<circle cx="106.9" cy="1699.6" r="2.6" fill="#115a2c" fill-opacity="0.92"/>
<circle cx="115.1" cy="1689.2" r="2.6" fill="#075324" fill-opacity="0.92"/>
<circle cx="116.0" cy="1699.1" r="2.6" fill="#105a2c" fill-opacity="0.92"/>
<circle cx="142.0" cy="1685.6" r="2.6" fill="#055222" fill-opacity="0.92"/>
<circle cx="168.1" cy="1682.3" r="2.6" fill="#055222" fill-opacity="0.92"/>
<text class="tt" x="174.3" y="1532.0" textLength="195.4" lengthAdjust="spacingAndGlyphs">Wasserstein barycenter for cluster 5</text>
<polygon points="392.2,245.4 595.7,225.8 598.4,30.5 387.3,45.7" fill="#f2f2f2"/>
<polygon points="595.7,225.8 662.6,304.4 668.2,91.4 598.4,30.5" fill="#f8f8f8"/>
<polygon points="392.2,245.4 595.7,225.8 662.6,304.4 439.4,328.4" fill="#f5f5f5"/>
<path d="M652.0 305.6L586.0 226.7L588.3 31.2M611.8 309.9L549.3 230.3L550.3 33.9M571.2 314.3L512.2 233.8L511.9 36.7M530.2 318.7L474.8 237.4L473.1 39.5M488.7 323.1L437.0 241.1L433.9 42.3M446.8 327.6L398.9 244.8L394.3 45.2M393.9 248.4L598.1 228.6L600.8 32.7M401.9 262.6L609.5 242.0L612.8 43.0M410.3 277.2L621.4 256.0L625.1 53.8M419.0 292.5L633.7 270.4L637.9 65.0M428.0 308.3L646.4 285.4L651.3 76.6M437.3 324.7L659.6 300.9L665.1 88.6M391.9 233.6L595.9 214.2L662.9 291.9M391.0 198.3L596.3 179.6L663.9 254.2M390.2 162.4L596.8 144.6L664.9 216.0M389.3 126.1L597.3 109.1L666.0 177.3M388.4 89.3L597.8 73.1L667.0 138.0M387.5 52.0L598.3 36.6L668.1 98.1" fill="none" stroke="#c8c8c8" stroke-width="1.0"/>
<path d="M387.3 45.7L392.2 245.4L439.4 328.4L662.6 304.4" fill="none" stroke="#505050" stroke-width="1.0"/>
<path d="M388.0 234.0L394.1 233.4M387.1 198.6L393.2 198.1M386.3 162.7L392.4 162.2M385.4 126.4L391.5 125.9M384.5 89.6L390.6 89.1M383.6 52.2L389.7 51.8M389.4 248.8L395.4 248.3M397.4 263.0L403.4 262.4M405.8 277.7L411.8 277.1M414.5 292.9L420.4 292.3M423.5 308.7L429.4 308.1M432.8 325.2L438.8 324.5M654.6 308.6L651.1 304.4M614.3 313.0L610.9 308.7M573.6 317.5L570.3 313.1M532.5 322.0L529.4 317.4M490.9 326.5L487.9 321.9M448.8 331.1L446.1 326.3" fill="none" stroke="#3a3a3a" stroke-width="1.0"/>
<g class="tl"><text x="379.2" y="238.8" textLength="14.0" lengthAdjust="spacingAndGlyphs">0.0</text><text x="378.3" y="203.4" textLength="14.0" lengthAdjust="spacingAndGlyphs">0.2</text><text x="377.5" y="167.6" textLength="14.0" lengthAdjust="spacingAndGlyphs">0.4</text><text x="376.6" y="131.2" textLength="14.0" lengthAdjust="spacingAndGlyphs">0.6</text><text x="375.7" y="94.4" textLength="14.0" lengthAdjust="spacingAndGlyphs">0.8</text><text x="374.8" y="57.1" textLength="14.0" lengthAdjust="spacingAndGlyphs">1.0</text><text x="383.4" y="267.0" textLength="14.0" lengthAdjust="spacingAndGlyphs">0.0</text><text x="391.4" y="281.2" textLength="14.0" lengthAdjust="spacingAndGlyphs">0.2</text><text x="399.8" y="295.9" textLength="14.0" lengthAdjust="spacingAndGlyphs">0.4</text><text x="408.5" y="311.1" textLength="14.0" lengthAdjust="spacingAndGlyphs">0.6</text><text x="417.5" y="326.9" textLength="14.0" lengthAdjust="spacingAndGlyphs">0.8</text><text x="426.8" y="343.3" textLength="14.0" lengthAdjust="spacingAndGlyphs">1.0</text><text x="654.8" y="327.5" textLength="14.0" lengthAdjust="spacingAndGlyphs">0.0</text><text x="614.6" y="331.8" textLength="14.0" lengthAdjust="spacingAndGlyphs">0.2</text><text x="574.0" y="336.2" textLength="14.0" lengthAdjust="spacingAndGlyphs">0.4</text><text x="532.9" y="340.6" textLength="14.0" lengthAdjust="spacingAndGlyphs">0.6</text><text x="491.5" y="345.1" textLength="14.0" lengthAdjust="spacingAndGlyphs">0.8</text><text x="449.6" y="349.6" textLength="14.0" lengthAdjust="spacingAndGlyphs">1.0</text></g>
<text class="al" transform="translate(365.3 143.5) rotate(-90)" textLength="20.2" lengthAdjust="spacingAndGlyphs">time</text>
<text class="al" transform="translate(393.0 308.2) rotate(60)" dy="3.4" textLength="36.1" lengthAdjust="spacingAndGlyphs">mobility</text>
<text class="al" transform="translate(559.4 348.5) rotate(-6)" dy="2.5" textLength="46.6" lengthAdjust="spacingAndGlyphs">new cases</text>
<circle cx="555.1" cy="190.1" r="2.6" fill="#dff2dc" fill-opacity="0.8"/>
<circle cx="581.1" cy="221.0" r="2.6" fill="#e3f4e0" fill-opacity="0.8"/>
<circle cx="587.0" cy="232.8" r="2.6" fill="#e5f4e2" fill-opacity="0.8"/>
<circle cx="591.4" cy="221.0" r="2.6" fill="#e3f4e0" fill-opacity="0.8"/>
<circle cx="590.6" cy="226.3" r="2.6" fill="#e4f4e1" fill-opacity="0.8"/>
<circle cx="614.2" cy="250.6" r="2.6" fill="#e7f5e4" fill-opacity="0.8"/>
<circle cx="618.2" cy="258.4" r="2.6" fill="#e8f6e5" fill-opacity="0.8"/>
<circle cx="622.5" cy="267.3" r="2.6" fill="#e8f6e6" fill-opacity="0.8"/>
<circle cx="628.4" cy="272.2" r="2.6" fill="#e8f6e6" fill-opacity="0.8"/>
<circle cx="643.8" cy="286.0" r="2.6" fill="#e8f6e6" fill-opacity="0.8"/>
<circle cx="596.9" cy="237.7" r="2.6" fill="#e5f5e2" fill-opacity="0.8"/>
<circle cx="486.1" cy="123.0" r="2.6" fill="#bce3b7" fill-opacity="0.82"/>
<circle cx="486.4" cy="125.7" r="2.6" fill="#bce3b7" fill-opacity="0.82"/>
<circle cx="504.7" cy="138.0" r="2.6" fill="#bce3b7" fill-opacity="0.82"/>
<circle cx="458.1" cy="180.7" r="2.6" fill="#c0e5bb" fill-opacity="0.82"/>
<circle cx="496.5" cy="180.4" r="2.6" fill="#c0e5bb" fill-opacity="0.82"/>
<circle cx="502.5" cy="181.8" r="2.6" fill="#c0e5bb" fill-opacity="0.82"/>
<circle cx="506.5" cy="182.6" r="2.6" fill="#c0e5bc" fill-opacity="0.82"/>
<circle cx="469.6" cy="181.8" r="2.6" fill="#c0e5bb" fill-opacity="0.82"/>
<circle cx="475.5" cy="183.1" r="2.6" fill="#c0e5bc" fill-opacity="0.82"/>
<circle cx="466.7" cy="190.4" r="2.6" fill="#c2e6be" fill-opacity="0.82"/>
<circle cx="470.9" cy="193.1" r="2.6" fill="#c3e6be" fill-opacity="0.82"/>
<circle cx="479.1" cy="189.1" r="2.6" fill="#c2e5bd" fill-opacity="0.82"/>
<circle cx="516.5" cy="189.1" r="2.6" fill="#c2e5bd" fill-opacity="0.82"/>
<circle cx="499.2" cy="192.8" r="2.6" fill="#c3e6be" fill-opacity="0.82"/>
<circle cx="450.8" cy="198.6" r="2.6" fill="#c4e6c0" fill-opacity="0.82"/>
<circle cx="456.9" cy="197.7" r="2.6" fill="#c4e6c0" fill-opacity="0.82"/>
<circle cx="491.5" cy="199.5" r="2.6" fill="#c4e7c0" fill-opacity="0.82"/>
<circle cx="495.5" cy="198.3" r="2.6" fill="#c4e6c0" fill-opacity="0.82"/>
<circle cx="500.6" cy="210.5" r="2.6" fill="#c7e8c3" fill-opacity="0.82"/>
<circle cx="499.6" cy="215.0" r="2.6" fill="#c8e8c4" fill-opacity="0.82"/>
<circle cx="509.2" cy="196.8" r="2.6" fill="#c4e6bf" fill-opacity="0.82"/>
<circle cx="511.6" cy="200.1" r="2.6" fill="#c5e7c0" fill-opacity="0.82"/>
<circle cx="517.1" cy="195.9" r="2.6" fill="#c4e6bf" fill-opacity="0.82"/>
<circle cx="511.1" cy="210.5" r="2.6" fill="#c7e8c3" fill-opacity="0.82"/>
<circle cx="508.7" cy="216.0" r="2.6" fill="#c9e8c4" fill-opacity="0.82"/>
<circle cx="514.2" cy="215.0" r="2.6" fill="#c8e8c4" fill-opacity="0.82"/>
<circle cx="520.2" cy="209.2" r="2.6" fill="#c7e8c3" fill-opacity="0.82"/>
<circle cx="491.5" cy="225.1" r="2.6" fill="#cbe9c7" fill-opacity="0.82"/>
<circle cx="546.6" cy="180.2" r="2.6" fill="#c0e5bb" fill-opacity="0.82"/>
<circle cx="531.5" cy="196.8" r="2.6" fill="#c4e6bf" fill-opacity="0.82"/>
<circle cx="535.8" cy="196.8" r="2.6" fill="#c4e6bf" fill-opacity="0.82"/>
<circle cx="567.3" cy="197.3" r="2.6" fill="#c4e6c0" fill-opacity="0.82"/>
<circle cx="563.4" cy="200.3" r="2.6" fill="#c5e7c0" fill-opacity="0.82"/>
<circle cx="548.6" cy="199.3" r="2.6" fill="#c4e7c0" fill-opacity="0.82"/>
<circle cx="547.6" cy="205.8" r="2.6" fill="#c6e7c2" fill-opacity="0.82"/>
<circle cx="559.1" cy="210.5" r="2.6" fill="#c7e8c3" fill-opacity="0.82"/>
<circle cx="565.4" cy="210.2" r="2.6" fill="#c7e8c3" fill-opacity="0.82"/>
<circle cx="570.9" cy="206.2" r="2.6" fill="#c6e7c2" fill-opacity="0.82"/>
<circle cx="579.2" cy="212.1" r="2.6" fill="#c8e8c3" fill-opacity="0.82"/>
<circle cx="532.8" cy="219.0" r="2.6" fill="#c9e9c5" fill-opacity="0.82"/>
<circle cx="554.5" cy="215.7" r="2.6" fill="#c8e8c4" fill-opacity="0.82"/>
<circle cx="556.5" cy="217.1" r="2.6" fill="#c9e8c5" fill-opacity="0.82"/>
<circle cx="563.8" cy="215.7" r="2.6" fill="#c8e8c4" fill-opacity="0.82"/>
<circle cx="552.5" cy="223.0" r="2.6" fill="#cae9c6" fill-opacity="0.82"/>
<circle cx="599.3" cy="232.8" r="2.6" fill="#cdeac9" fill-opacity="0.82"/>
<circle cx="594.5" cy="242.7" r="2.6" fill="#cfebcc" fill-opacity="0.82"/>
<circle cx="592.6" cy="248.6" r="2.6" fill="#d1eccd" fill-opacity="0.82"/>
<circle cx="597.9" cy="253.9" r="2.6" fill="#d2eccf" fill-opacity="0.82"/>
<circle cx="607.7" cy="260.4" r="2.6" fill="#d3edd0" fill-opacity="0.82"/>
<circle cx="609.7" cy="262.4" r="2.6" fill="#d3edd0" fill-opacity="0.82"/>
<circle cx="463.1" cy="91.6" r="2.6" fill="#8acd91" fill-opacity="0.85"/>
<circle cx="500.1" cy="95.3" r="2.6" fill="#8acd91" fill-opacity="0.85"/>
<circle cx="422.2" cy="114.2" r="2.6" fill="#8acd91" fill-opacity="0.85"/>
<circle cx="447.2" cy="113.0" r="2.6" fill="#8acd91" fill-opacity="0.85"/>
<circle cx="475.1" cy="111.1" r="2.6" fill="#8acd91" fill-opacity="0.85"/>
<circle cx="475.1" cy="114.2" r="2.6" fill="#8acd91" fill-opacity="0.85"/>
<circle cx="499.2" cy="107.5" r="2.6" fill="#8acd91" fill-opacity="0.85"/>
<circle cx="499.2" cy="114.8" r="2.6" fill="#8acd91" fill-opacity="0.85"/>
<circle cx="517.4" cy="112.0" r="2.6" fill="#8acd91" fill-opacity="0.85"/>
<circle cx="448.1" cy="120.8" r="2.6" fill="#8acd91" fill-opacity="0.85"/>
<circle cx="462.3" cy="122.6" r="2.6" fill="#8acd91" fill-opacity="0.85"/>
<circle cx="469.6" cy="121.2" r="2.6" fill="#8acd91" fill-opacity="0.85"/>
<circle cx="476.9" cy="125.2" r="2.6" fill="#8acd91" fill-opacity="0.85"/>
<circle cx="512.9" cy="121.5" r="2.6" fill="#8acd91" fill-opacity="0.85"/>
<circle cx="512.3" cy="123.9" r="2.6" fill="#8acd91" fill-opacity="0.85"/>
<circle cx="433.1" cy="129.4" r="2.6" fill="#8acd91" fill-opacity="0.85"/>
<circle cx="423.5" cy="138.5" r="2.6" fill="#8acd91" fill-opacity="0.85"/>
<circle cx="428.4" cy="144.0" r="2.6" fill="#8acd91" fill-opacity="0.85"/>
<circle cx="451.4" cy="135.8" r="2.6" fill="#8acd91" fill-opacity="0.85"/>
<circle cx="447.2" cy="142.2" r="2.6" fill="#8acd91" fill-opacity="0.85"/>
<circle cx="443.5" cy="149.5" r="2.6" fill="#8acd91" fill-opacity="0.85"/>
<circle cx="441.7" cy="153.1" r="2.6" fill="#8acd91" fill-opacity="0.85"/>
<circle cx="431.3" cy="152.2" r="2.6" fill="#8acd91" fill-opacity="0.85"/>
<circle cx="435.0" cy="156.8" r="2.6" fill="#8acd91" fill-opacity="0.85"/>
<circle cx="456.3" cy="154.0" r="2.6" fill="#8acd91" fill-opacity="0.85"/>
<circle cx="496.5" cy="154.4" r="2.6" fill="#8acd91" fill-opacity="0.85"/>
<circle cx="497.0" cy="155.8" r="2.6" fill="#8acd91" fill-opacity="0.85"/>
<circle cx="511.1" cy="144.0" r="2.6" fill="#8acd91" fill-opacity="0.85"/>
<circle cx="539.3" cy="93.8" r="2.6" fill="#8acd91" fill-opacity="0.85"/>
<circle cx="542.7" cy="97.7" r="2.6" fill="#8acd91" fill-opacity="0.85"/>
<circle cx="523.6" cy="105.2" r="2.6" fill="#8acd91" fill-opacity="0.85"/>
<circle cx="536.8" cy="113.5" r="2.6" fill="#8acd91" fill-opacity="0.85"/>
<circle cx="544.1" cy="118.6" r="2.6" fill="#8acd91" fill-opacity="0.85"/>
<circle cx="546.0" cy="136.3" r="2.6" fill="#8acd91" fill-opacity="0.85"/>
<circle cx="549.6" cy="138.3" r="2.6" fill="#8acd91" fill-opacity="0.85"/>
<circle cx="535.8" cy="152.9" r="2.6" fill="#8acd91" fill-opacity="0.85"/>
<circle cx="555.9" cy="151.5" r="2.6" fill="#8acd91" fill-opacity="0.85"/>
<circle cx="587.0" cy="156.0" r="2.6" fill="#8acd91" fill-opacity="0.85"/>
<circle cx="491.9" cy="167.2" r="2.6" fill="#8bcd92" fill-opacity="0.85"/>
<circle cx="449.0" cy="171.6" r="2.6" fill="#8dce94" fill-opacity="0.85"/>
<circle cx="441.7" cy="174.9" r="2.6" fill="#8ecf95" fill-opacity="0.85"/>
<circle cx="492.8" cy="174.5" r="2.6" fill="#8ecf95" fill-opacity="0.85"/>
<circle cx="498.8" cy="176.4" r="2.6" fill="#8fcf96" fill-opacity="0.85"/>
<circle cx="440.4" cy="192.2" r="2.6" fill="#96d29c" fill-opacity="0.85"/>
<circle cx="474.6" cy="194.6" r="2.6" fill="#97d29d" fill-opacity="0.85"/>
<circle cx="520.7" cy="192.8" r="2.6" fill="#96d29c" fill-opacity="0.85"/>
<circle cx="458.1" cy="200.8" r="2.6" fill="#99d49f" fill-opacity="0.85"/>
<circle cx="460.0" cy="200.8" r="2.6" fill="#99d49f" fill-opacity="0.85"/>
<circle cx="444.8" cy="204.1" r="2.6" fill="#9bd4a1" fill-opacity="0.85"/>
<circle cx="450.3" cy="205.6" r="2.6" fill="#9bd4a1" fill-opacity="0.85"/>
<circle cx="453.9" cy="206.8" r="2.6" fill="#9cd5a2" fill-opacity="0.85"/>
<circle cx="456.9" cy="208.1" r="2.6" fill="#9cd5a2" fill-opacity="0.85"/>
<circle cx="464.2" cy="208.7" r="2.6" fill="#9dd5a3" fill-opacity="0.85"/>
<circle cx="471.5" cy="211.0" r="2.6" fill="#9ed5a4" fill-opacity="0.85"/>
<circle cx="481.3" cy="199.5" r="2.6" fill="#99d39f" fill-opacity="0.85"/>
<circle cx="487.9" cy="203.2" r="2.6" fill="#9ad4a0" fill-opacity="0.85"/>
<circle cx="492.8" cy="207.7" r="2.6" fill="#9cd5a2" fill-opacity="0.85"/>
<circle cx="489.7" cy="218.7" r="2.6" fill="#a1d7a7" fill-opacity="0.85"/>
<circle cx="537.8" cy="161.9" r="2.6" fill="#8acd91" fill-opacity="0.85"/>
<circle cx="541.7" cy="161.9" r="2.6" fill="#8acd91" fill-opacity="0.85"/>
<circle cx="528.3" cy="175.1" r="2.6" fill="#8ecf95" fill-opacity="0.85"/>
<circle cx="543.3" cy="171.7" r="2.6" fill="#8dce94" fill-opacity="0.85"/>
<circle cx="548.6" cy="166.4" r="2.6" fill="#8acd91" fill-opacity="0.85"/>
<circle cx="574.2" cy="171.7" r="2.6" fill="#8dce94" fill-opacity="0.85"/>
<circle cx="582.1" cy="169.2" r="2.6" fill="#8cce93" fill-opacity="0.85"/>
<circle cx="534.2" cy="183.5" r="2.6" fill="#92d098" fill-opacity="0.85"/>
<circle cx="572.8" cy="184.1" r="2.6" fill="#92d099" fill-opacity="0.85"/>
<circle cx="545.3" cy="192.0" r="2.6" fill="#96d29c" fill-opacity="0.85"/>
<circle cx="542.7" cy="199.9" r="2.6" fill="#99d39f" fill-opacity="0.85"/>
<circle cx="558.5" cy="197.9" r="2.6" fill="#98d39e" fill-opacity="0.85"/>
<circle cx="531.5" cy="209.8" r="2.6" fill="#9dd5a3" fill-opacity="0.85"/>
<circle cx="541.3" cy="206.6" r="2.6" fill="#9cd5a2" fill-opacity="0.85"/>
<circle cx="552.0" cy="205.2" r="2.6" fill="#9bd4a1" fill-opacity="0.85"/>
<circle cx="537.4" cy="225.5" r="2.6" fill="#a4d8a9" fill-opacity="0.85"/>
<circle cx="545.3" cy="230.3" r="2.6" fill="#a6d9ab" fill-opacity="0.85"/>
<circle cx="557.5" cy="222.0" r="2.6" fill="#a2d7a8" fill-opacity="0.85"/>
<circle cx="555.9" cy="225.5" r="2.6" fill="#a4d8a9" fill-opacity="0.85"/>
<circle cx="561.0" cy="226.9" r="2.6" fill="#a5d8aa" fill-opacity="0.85"/>
<circle cx="561.4" cy="228.9" r="2.6" fill="#a5d9ab" fill-opacity="0.85"/>
<circle cx="571.3" cy="230.8" r="2.6" fill="#a6d9ac" fill-opacity="0.85"/>
<circle cx="490.1" cy="68.6" r="2.6" fill="#3a9a5a" fill-opacity="0.88"/>
<circle cx="493.7" cy="63.7" r="2.6" fill="#3a9a5a" fill-opacity="0.88"/>
<circle cx="492.8" cy="71.9" r="2.6" fill="#3a9a5a" fill-opacity="0.88"/>
<circle cx="509.2" cy="69.2" r="2.6" fill="#3a9a5a" fill-opacity="0.88"/>
<circle cx="520.2" cy="72.3" r="2.6" fill="#3a9a5a" fill-opacity="0.88"/>
<circle cx="504.3" cy="81.4" r="2.6" fill="#3a9a5a" fill-opacity="0.88"/>
<circle cx="483.1" cy="86.9" r="2.6" fill="#3a9a5a" fill-opacity="0.88"/>
<circle cx="462.3" cy="82.5" r="2.6" fill="#3a9a5a" fill-opacity="0.88"/>
<circle cx="459.4" cy="86.1" r="2.6" fill="#3a9a5a" fill-opacity="0.88"/>
<circle cx="463.6" cy="86.1" r="2.6" fill="#3a9a5a" fill-opacity="0.88"/>
<circle cx="433.9" cy="89.2" r="2.6" fill="#3a9a5a" fill-opacity="0.88"/>
<circle cx="442.6" cy="89.8" r="2.6" fill="#3a9a5a" fill-opacity="0.88"/>
<circle cx="416.2" cy="98.9" r="2.6" fill="#3a9a5a" fill-opacity="0.88"/>
<circle cx="416.2" cy="102.0" r="2.6" fill="#3a9a5a" fill-opacity="0.88"/>
<circle cx="436.2" cy="100.2" r="2.6" fill="#3a9a5a" fill-opacity="0.88"/>
<circle cx="506.5" cy="98.4" r="2.6" fill="#3a9a5a" fill-opacity="0.88"/>
<circle cx="512.3" cy="98.4" r="2.6" fill="#3a9a5a" fill-opacity="0.88"/>
<circle cx="423.5" cy="109.9" r="2.6" fill="#3a9a5a" fill-opacity="0.88"/>
<circle cx="417.4" cy="113.5" r="2.6" fill="#3a9a5a" fill-opacity="0.88"/>
<circle cx="426.6" cy="114.8" r="2.6" fill="#3a9a5a" fill-opacity="0.88"/>
<circle cx="428.9" cy="111.7" r="2.6" fill="#3a9a5a" fill-opacity="0.88"/>
<circle cx="432.6" cy="110.2" r="2.6" fill="#3a9a5a" fill-opacity="0.88"/>
<circle cx="449.0" cy="108.8" r="2.6" fill="#3a9a5a" fill-opacity="0.88"/>
<circle cx="471.5" cy="108.0" r="2.6" fill="#3a9a5a" fill-opacity="0.88"/>
<circle cx="514.7" cy="117.9" r="2.6" fill="#3a9a5a" fill-opacity="0.88"/>
<circle cx="417.4" cy="124.5" r="2.6" fill="#3a9a5a" fill-opacity="0.88"/>
<circle cx="421.1" cy="123.9" r="2.6" fill="#3a9a5a" fill-opacity="0.88"/>
<circle cx="429.5" cy="123.9" r="2.6" fill="#3a9a5a" fill-opacity="0.88"/>
<circle cx="435.0" cy="121.5" r="2.6" fill="#3a9a5a" fill-opacity="0.88"/>
<circle cx="470.0" cy="138.5" r="2.6" fill="#3a9a5a" fill-opacity="0.88"/>
<circle cx="431.3" cy="135.4" r="2.6" fill="#3a9a5a" fill-opacity="0.88"/>
<circle cx="499.6" cy="138.5" r="2.6" fill="#3a9a5a" fill-opacity="0.88"/>
<circle cx="464.5" cy="155.5" r="2.6" fill="#3a9a5a" fill-opacity="0.88"/>
<circle cx="512.3" cy="157.7" r="2.6" fill="#3a9a5a" fill-opacity="0.88"/>
<circle cx="530.9" cy="62.2" r="2.6" fill="#3a9a5a" fill-opacity="0.88"/>
<circle cx="534.2" cy="67.7" r="2.6" fill="#3a9a5a" fill-opacity="0.88"/>
<circle cx="538.8" cy="67.3" r="2.6" fill="#3a9a5a" fill-opacity="0.88"/>
<circle cx="543.3" cy="73.3" r="2.6" fill="#3a9a5a" fill-opacity="0.88"/>
<circle cx="545.3" cy="111.5" r="2.6" fill="#3a9a5a" fill-opacity="0.88"/>
<circle cx="549.6" cy="123.9" r="2.6" fill="#3a9a5a" fill-opacity="0.88"/>
<circle cx="559.8" cy="135.7" r="2.6" fill="#3a9a5a" fill-opacity="0.88"/>
<circle cx="594.9" cy="129.8" r="2.6" fill="#3a9a5a" fill-opacity="0.88"/>
<circle cx="600.4" cy="130.4" r="2.6" fill="#3a9a5a" fill-opacity="0.88"/>
<circle cx="601.8" cy="135.7" r="2.6" fill="#3a9a5a" fill-opacity="0.88"/>
<circle cx="603.2" cy="140.3" r="2.6" fill="#3a9a5a" fill-opacity="0.88"/>
<circle cx="525.5" cy="154.5" r="2.6" fill="#3a9a5a" fill-opacity="0.88"/>
<circle cx="574.8" cy="152.1" r="2.6" fill="#3a9a5a" fill-opacity="0.88"/>
<circle cx="573.6" cy="156.0" r="2.6" fill="#3a9a5a" fill-opacity="0.88"/>
<circle cx="581.5" cy="154.5" r="2.6" fill="#3a9a5a" fill-opacity="0.88"/>
<circle cx="584.7" cy="150.5" r="2.6" fill="#3a9a5a" fill-opacity="0.88"/>
<circle cx="593.9" cy="156.4" r="2.6" fill="#3a9a5a" fill-opacity="0.88"/>
<circle cx="460.5" cy="165.8" r="2.6" fill="#3a9a5a" fill-opacity="0.88"/>
<circle cx="520.2" cy="172.2" r="2.6" fill="#3f9d5e" fill-opacity="0.88"/>
<circle cx="441.7" cy="172.2" r="2.6" fill="#3f9d5e" fill-opacity="0.88"/>
<circle cx="444.8" cy="172.7" r="2.6" fill="#3f9d5f" fill-opacity="0.88"/>
<circle cx="446.6" cy="176.4" r="2.6" fill="#429e61" fill-opacity="0.88"/>
<circle cx="455.0" cy="178.2" r="2.6" fill="#439f62" fill-opacity="0.88"/>
<circle cx="475.8" cy="176.4" r="2.6" fill="#429e61" fill-opacity="0.88"/>
<circle cx="453.9" cy="192.8" r="2.6" fill="#4ea46b" fill-opacity="0.88"/>
<circle cx="520.2" cy="183.7" r="2.6" fill="#47a165" fill-opacity="0.88"/>
<circle cx="527.9" cy="172.7" r="2.6" fill="#3f9d5f" fill-opacity="0.88"/>
<circle cx="557.1" cy="172.3" r="2.6" fill="#3f9d5e" fill-opacity="0.88"/>
<circle cx="561.4" cy="178.6" r="2.6" fill="#449f62" fill-opacity="0.88"/>
<circle cx="570.3" cy="176.6" r="2.6" fill="#429e61" fill-opacity="0.88"/>
<circle cx="533.4" cy="180.6" r="2.6" fill="#45a063" fill-opacity="0.88"/>
<circle cx="529.5" cy="186.9" r="2.6" fill="#4aa267" fill-opacity="0.88"/>
<circle cx="523.6" cy="193.4" r="2.6" fill="#4ea46b" fill-opacity="0.88"/>
<circle cx="574.2" cy="208.6" r="2.6" fill="#59aa74" fill-opacity="0.88"/>
<circle cx="467.8" cy="64.2" r="2.6" fill="#1a7a3c" fill-opacity="0.9"/>
<circle cx="473.6" cy="63.1" r="2.6" fill="#1a7a3c" fill-opacity="0.9"/>
<circle cx="474.6" cy="66.8" r="2.6" fill="#1a7a3c" fill-opacity="0.9"/>
<circle cx="479.5" cy="69.2" r="2.6" fill="#1a7a3c" fill-opacity="0.9"/>
<circle cx="482.8" cy="70.1" r="2.6" fill="#1a7a3c" fill-opacity="0.9"/>
<circle cx="484.6" cy="67.9" r="2.6" fill="#1a7a3c" fill-opacity="0.9"/>
<circle cx="493.4" cy="77.0" r="2.6" fill="#1a7a3c" fill-opacity="0.9"/>
<circle cx="513.8" cy="78.8" r="2.6" fill="#1a7a3c" fill-opacity="0.9"/>
<circle cx="476.4" cy="80.1" r="2.6" fill="#1a7a3c" fill-opacity="0.9"/>
<circle cx="456.3" cy="114.8" r="2.6" fill="#1a7a3c" fill-opacity="0.9"/>
<circle cx="464.9" cy="112.4" r="2.6" fill="#1a7a3c" fill-opacity="0.9"/>
<circle cx="520.2" cy="116.6" r="2.6" fill="#1a7a3c" fill-opacity="0.9"/>
<circle cx="460.0" cy="129.9" r="2.6" fill="#1a7a3c" fill-opacity="0.9"/>
<circle cx="502.5" cy="121.5" r="2.6" fill="#1a7a3c" fill-opacity="0.9"/>
<circle cx="450.8" cy="142.2" r="2.6" fill="#1a7a3c" fill-opacity="0.9"/>
<circle cx="458.7" cy="140.3" r="2.6" fill="#1a7a3c" fill-opacity="0.9"/>
<circle cx="462.3" cy="139.4" r="2.6" fill="#1a7a3c" fill-opacity="0.9"/>
<circle cx="483.1" cy="137.6" r="2.6" fill="#1a7a3c" fill-opacity="0.9"/>
<circle cx="495.5" cy="138.5" r="2.6" fill="#1a7a3c" fill-opacity="0.9"/>
<circle cx="505.0" cy="133.9" r="2.6" fill="#1a7a3c" fill-opacity="0.9"/>
<circle cx="517.1" cy="135.8" r="2.6" fill="#1a7a3c" fill-opacity="0.9"/>
<circle cx="440.4" cy="144.9" r="2.6" fill="#1a7a3c" fill-opacity="0.9"/>
<circle cx="467.8" cy="148.2" r="2.6" fill="#1a7a3c" fill-opacity="0.9"/>
<circle cx="472.7" cy="150.0" r="2.6" fill="#1a7a3c" fill-opacity="0.9"/>
<circle cx="475.1" cy="144.5" r="2.6" fill="#1a7a3c" fill-opacity="0.9"/>
<circle cx="474.6" cy="156.2" r="2.6" fill="#1a7a3c" fill-opacity="0.9"/>
<circle cx="542.7" cy="89.0" r="2.6" fill="#1a7a3c" fill-opacity="0.9"/>
<circle cx="525.0" cy="102.8" r="2.6" fill="#1a7a3c" fill-opacity="0.9"/>
<circle cx="549.2" cy="119.0" r="2.6" fill="#1a7a3c" fill-opacity="0.9"/>
<circle cx="548.0" cy="141.6" r="2.6" fill="#1a7a3c" fill-opacity="0.9"/>
<circle cx="549.6" cy="146.2" r="2.6" fill="#1a7a3c" fill-opacity="0.9"/>
<circle cx="557.1" cy="142.2" r="2.6" fill="#1a7a3c" fill-opacity="0.9"/>
<circle cx="559.8" cy="144.2" r="2.6" fill="#1a7a3c" fill-opacity="0.9"/>
<circle cx="559.4" cy="147.6" r="2.6" fill="#1a7a3c" fill-opacity="0.9"/>
<circle cx="578.2" cy="138.7" r="2.6" fill="#1a7a3c" fill-opacity="0.9"/>
<circle cx="443.5" cy="160.7" r="2.6" fill="#1a7a3c" fill-opacity="0.9"/>
<circle cx="446.6" cy="159.9" r="2.6" fill="#1a7a3c" fill-opacity="0.9"/>
<circle cx="453.2" cy="161.8" r="2.6" fill="#1a7a3c" fill-opacity="0.9"/>
<circle cx="477.3" cy="164.9" r="2.6" fill="#1a7a3c" fill-opacity="0.9"/>
<circle cx="480.6" cy="168.5" r="2.6" fill="#1d7c3e" fill-opacity="0.9"/>
<circle cx="485.5" cy="163.6" r="2.6" fill="#1a7a3c" fill-opacity="0.9"/>
<circle cx="510.1" cy="167.6" r="2.6" fill="#1c7b3e" fill-opacity="0.9"/>
<circle cx="512.3" cy="172.7" r="2.6" fill="#207e41" fill-opacity="0.9"/>
<circle cx="449.9" cy="177.6" r="2.6" fill="#248045" fill-opacity="0.9"/>
<circle cx="453.9" cy="175.3" r="2.6" fill="#227f43" fill-opacity="0.9"/>
<circle cx="483.7" cy="176.4" r="2.6" fill="#237f44" fill-opacity="0.9"/>
<circle cx="488.6" cy="172.7" r="2.6" fill="#207e41" fill-opacity="0.9"/>
<circle cx="480.6" cy="183.7" r="2.6" fill="#2a8349" fill-opacity="0.9"/>
<circle cx="441.2" cy="186.2" r="2.6" fill="#2c844b" fill-opacity="0.9"/>
<circle cx="450.8" cy="187.3" r="2.6" fill="#2d854c" fill-opacity="0.9"/>
<circle cx="586.1" cy="160.9" r="2.6" fill="#1a7a3c" fill-opacity="0.9"/>
<circle cx="525.0" cy="168.4" r="2.6" fill="#1d7c3e" fill-opacity="0.9"/>
<circle cx="523.6" cy="171.7" r="2.6" fill="#1f7d41" fill-opacity="0.9"/>
<circle cx="550.0" cy="169.2" r="2.6" fill="#1d7c3f" fill-opacity="0.9"/>
<circle cx="566.9" cy="167.2" r="2.6" fill="#1c7b3d" fill-opacity="0.9"/>
<circle cx="586.1" cy="166.8" r="2.6" fill="#1b7b3d" fill-opacity="0.9"/>
<circle cx="468.2" cy="129.4" r="2.6" fill="#055222" fill-opacity="0.92"/>
<circle cx="468.5" cy="132.5" r="2.6" fill="#055222" fill-opacity="0.92"/>
<circle cx="481.3" cy="126.6" r="2.6" fill="#055222" fill-opacity="0.92"/>
<circle cx="497.0" cy="124.5" r="2.6" fill="#055222" fill-opacity="0.92"/>
<circle cx="497.4" cy="128.5" r="2.6" fill="#055222" fill-opacity="0.92"/>
<circle cx="516.5" cy="126.6" r="2.6" fill="#055222" fill-opacity="0.92"/>
<circle cx="530.9" cy="114.1" r="2.6" fill="#055222" fill-opacity="0.92"/>
<circle cx="526.3" cy="117.4" r="2.6" fill="#055222" fill-opacity="0.92"/>
<circle cx="531.5" cy="119.4" r="2.6" fill="#055222" fill-opacity="0.92"/>
<circle cx="542.1" cy="116.0" r="2.6" fill="#055222" fill-opacity="0.92"/>
<circle cx="557.5" cy="122.5" r="2.6" fill="#055222" fill-opacity="0.92"/>
<circle cx="566.9" cy="117.4" r="2.6" fill="#055222" fill-opacity="0.92"/>
<circle cx="569.7" cy="119.4" r="2.6" fill="#055222" fill-opacity="0.92"/>
<text class="tt" x="517.0" y="10.2" textLength="195.4" lengthAdjust="spacingAndGlyphs">Wasserstein barycenter for cluster 6</text>
<polygon points="395.1,620.9 598.7,601.2 601.3,405.9 390.3,421.1" fill="#f2f2f2"/>
<polygon points="598.7,601.2 665.6,679.9 671.2,466.8 601.3,405.9" fill="#f8f8f8"/>
<polygon points="395.1,620.9 598.7,601.2 665.6,679.9 442.4,703.9" fill="#f5f5f5"/>
<path d="M654.4 681.1L588.5 602.2L590.7 406.7M614.7 685.4L552.2 605.7L553.1 409.4M574.6 689.7L515.5 609.3L515.2 412.1M534.0 694.0L478.6 612.8L476.8 414.9M493.0 698.4L441.2 616.4L438.1 417.7M451.7 702.9L403.6 620.1L399.0 420.5M396.8 623.8L601.1 604.0L603.8 408.1M404.9 638.0L612.5 617.5L615.7 418.5M413.2 652.7L624.3 631.4L628.1 429.3M421.9 667.9L636.6 645.9L640.9 440.4M430.9 683.7L649.4 660.8L654.2 452.0M440.3 700.1L662.6 676.4L668.0 464.1M394.8 608.7L598.8 589.3L665.9 666.9M394.0 573.9L599.3 555.3L666.9 629.9M393.1 538.6L599.7 520.8L667.9 592.3M392.3 502.9L600.2 485.9L668.9 554.2M391.4 466.7L600.7 450.5L669.9 515.6M390.5 430.1L601.2 414.7L670.9 476.4" fill="none" stroke="#c8c8c8" stroke-width="1.0"/>
<path d="M390.3 421.1L395.1 620.9L442.4 703.9L665.6 679.9" fill="none" stroke="#505050" stroke-width="1.0"/>
<path d="M390.9 609.1L397.0 608.5M390.1 574.2L396.2 573.7M389.2 539.0L395.3 538.5M388.4 503.3L394.5 502.8M387.5 467.1L393.6 466.6M386.6 430.4L392.7 429.9M392.3 624.3L398.3 623.7M400.4 638.5L406.4 637.9M408.8 653.1L414.7 652.5M417.4 668.4L423.4 667.8M426.4 684.2L432.4 683.6M435.8 700.6L441.7 700.0M657.0 684.2L653.5 679.9M617.2 688.5L613.8 684.2M576.9 692.9L573.7 688.5M536.3 697.3L533.2 692.8M495.2 701.8L492.2 697.2M453.7 706.3L450.9 701.6" fill="none" stroke="#3a3a3a" stroke-width="1.0"/>
<g class="tl"><text x="382.1" y="613.8" textLength="14.0" lengthAdjust="spacingAndGlyphs">0.0</text><text x="381.3" y="579.0" textLength="14.0" lengthAdjust="spacingAndGlyphs">0.2</text><text x="380.4" y="543.8" textLength="14.0" lengthAdjust="spacingAndGlyphs">0.4</text><text x="379.6" y="508.1" textLength="14.0" lengthAdjust="spacingAndGlyphs">0.6</text><text x="378.7" y="471.9" textLength="14.0" lengthAdjust="spacingAndGlyphs">0.8</text><text x="377.8" y="435.2" textLength="14.0" lengthAdjust="spacingAndGlyphs">1.0</text><text x="386.3" y="642.5" textLength="14.0" lengthAdjust="spacingAndGlyphs">0.0</text><text x="394.4" y="656.7" textLength="14.0" lengthAdjust="spacingAndGlyphs">0.2</text><text x="402.7" y="671.3" textLength="14.0" lengthAdjust="spacingAndGlyphs">0.4</text><text x="411.4" y="686.6" textLength="14.0" lengthAdjust="spacingAndGlyphs">0.6</text><text x="420.4" y="702.4" textLength="14.0" lengthAdjust="spacingAndGlyphs">0.8</text><text x="429.8" y="718.8" textLength="14.0" lengthAdjust="spacingAndGlyphs">1.0</text><text x="657.2" y="703.0" textLength="14.0" lengthAdjust="spacingAndGlyphs">0.0</text><text x="617.4" y="707.3" textLength="14.0" lengthAdjust="spacingAndGlyphs">0.2</text><text x="577.3" y="711.6" textLength="14.0" lengthAdjust="spacingAndGlyphs">0.4</text><text x="536.8" y="716.0" textLength="14.0" lengthAdjust="spacingAndGlyphs">0.6</text><text x="495.8" y="720.4" textLength="14.0" lengthAdjust="spacingAndGlyphs">0.8</text><text x="454.4" y="724.8" textLength="14.0" lengthAdjust="spacingAndGlyphs">1.0</text></g>
<clipPath id="c7"><rect x="362.6" y="475.7" width="40" height="100"/></clipPath><g clip-path="url(#c7)"><text class="al" transform="translate(368.3 519.0) rotate(-90)" textLength="20.2" lengthAdjust="spacingAndGlyphs">time</text></g>
<text class="al" transform="translate(396.0 683.7) rotate(60)" dy="3.4" textLength="36.1" lengthAdjust="spacingAndGlyphs">mobility</text>
<text class="al" transform="translate(562.4 724.0) rotate(-6)" dy="2.5" textLength="46.6" lengthAdjust="spacingAndGlyphs">new cases</text>
<circle cx="593.0" cy="615.7" r="2.6" fill="#e6f5e3" fill-opacity="0.8"/>
<circle cx="598.3" cy="610.8" r="2.6" fill="#e5f5e2" fill-opacity="0.8"/>
<circle cx="603.4" cy="624.2" r="2.6" fill="#e7f5e4" fill-opacity="0.8"/>
<circle cx="605.8" cy="629.5" r="2.6" fill="#e7f6e5" fill-opacity="0.8"/>
<circle cx="617.2" cy="636.4" r="2.6" fill="#e8f6e6" fill-opacity="0.8"/>
<circle cx="630.4" cy="647.9" r="2.6" fill="#e8f6e6" fill-opacity="0.8"/>
<circle cx="645.6" cy="660.5" r="2.6" fill="#e8f6e6" fill-opacity="0.8"/>
<circle cx="447.4" cy="547.5" r="2.6" fill="#bee4b9" fill-opacity="0.82"/>
<circle cx="457.6" cy="550.7" r="2.6" fill="#bee4ba" fill-opacity="0.82"/>
<circle cx="468.4" cy="554.9" r="2.6" fill="#c0e4bb" fill-opacity="0.82"/>
<circle cx="468.1" cy="559.8" r="2.6" fill="#c1e5bc" fill-opacity="0.82"/>
<circle cx="471.2" cy="561.2" r="2.6" fill="#c1e5bc" fill-opacity="0.82"/>
<circle cx="504.0" cy="555.9" r="2.6" fill="#c0e5bb" fill-opacity="0.82"/>
<circle cx="524.1" cy="552.4" r="2.6" fill="#bfe4ba" fill-opacity="0.82"/>
<circle cx="480.7" cy="566.4" r="2.6" fill="#c2e6be" fill-opacity="0.82"/>
<circle cx="478.2" cy="581.2" r="2.6" fill="#c6e7c2" fill-opacity="0.82"/>
<circle cx="483.5" cy="579.9" r="2.6" fill="#c6e7c1" fill-opacity="0.82"/>
<circle cx="485.9" cy="577.7" r="2.6" fill="#c5e7c1" fill-opacity="0.82"/>
<circle cx="488.2" cy="579.9" r="2.6" fill="#c6e7c1" fill-opacity="0.82"/>
<circle cx="496.1" cy="577.0" r="2.6" fill="#c5e7c1" fill-opacity="0.82"/>
<circle cx="501.0" cy="576.4" r="2.6" fill="#c5e7c0" fill-opacity="0.82"/>
<circle cx="502.8" cy="566.4" r="2.6" fill="#c2e6be" fill-opacity="0.82"/>
<circle cx="506.3" cy="570.6" r="2.6" fill="#c3e6bf" fill-opacity="0.82"/>
<circle cx="505.2" cy="577.0" r="2.6" fill="#c5e7c1" fill-opacity="0.82"/>
<circle cx="497.9" cy="585.7" r="2.6" fill="#c7e8c3" fill-opacity="0.82"/>
<circle cx="497.9" cy="591.7" r="2.6" fill="#c9e8c5" fill-opacity="0.82"/>
<circle cx="508.4" cy="591.0" r="2.6" fill="#c8e8c4" fill-opacity="0.82"/>
<circle cx="510.5" cy="595.7" r="2.6" fill="#cae9c6" fill-opacity="0.82"/>
<circle cx="518.0" cy="581.2" r="2.6" fill="#c6e7c2" fill-opacity="0.82"/>
<circle cx="521.5" cy="581.2" r="2.6" fill="#c6e7c2" fill-opacity="0.82"/>
<circle cx="572.3" cy="554.0" r="2.6" fill="#bfe4bb" fill-opacity="0.82"/>
<circle cx="531.9" cy="566.5" r="2.6" fill="#c2e6be" fill-opacity="0.82"/>
<circle cx="535.8" cy="566.5" r="2.6" fill="#c2e6be" fill-opacity="0.82"/>
<circle cx="528.9" cy="567.8" r="2.6" fill="#c3e6be" fill-opacity="0.82"/>
<circle cx="535.8" cy="581.6" r="2.6" fill="#c6e7c2" fill-opacity="0.82"/>
<circle cx="548.6" cy="572.4" r="2.6" fill="#c4e6bf" fill-opacity="0.82"/>
<circle cx="543.1" cy="576.9" r="2.6" fill="#c5e7c1" fill-opacity="0.82"/>
<circle cx="559.5" cy="565.1" r="2.6" fill="#c2e6bd" fill-opacity="0.82"/>
<circle cx="561.5" cy="568.4" r="2.6" fill="#c3e6be" fill-opacity="0.82"/>
<circle cx="569.9" cy="569.4" r="2.6" fill="#c3e6bf" fill-opacity="0.82"/>
<circle cx="560.5" cy="588.1" r="2.6" fill="#c8e8c4" fill-opacity="0.82"/>
<circle cx="595.0" cy="599.0" r="2.6" fill="#cae9c6" fill-opacity="0.82"/>
<circle cx="566.8" cy="595.0" r="2.6" fill="#c9e9c5" fill-opacity="0.82"/>
<circle cx="553.0" cy="607.8" r="2.6" fill="#cdeac9" fill-opacity="0.82"/>
<circle cx="561.5" cy="612.8" r="2.6" fill="#ceeaca" fill-opacity="0.82"/>
<circle cx="576.6" cy="621.6" r="2.6" fill="#d0ebcc" fill-opacity="0.82"/>
<circle cx="585.1" cy="624.2" r="2.6" fill="#d1eccd" fill-opacity="0.82"/>
<circle cx="587.7" cy="626.2" r="2.6" fill="#d1ecce" fill-opacity="0.82"/>
<circle cx="495.7" cy="489.6" r="2.6" fill="#8acd91" fill-opacity="0.85"/>
<circle cx="441.4" cy="488.7" r="2.6" fill="#8acd91" fill-opacity="0.85"/>
<circle cx="484.7" cy="497.4" r="2.6" fill="#8acd91" fill-opacity="0.85"/>
<circle cx="485.9" cy="499.2" r="2.6" fill="#8acd91" fill-opacity="0.85"/>
<circle cx="454.4" cy="498.7" r="2.6" fill="#8acd91" fill-opacity="0.85"/>
<circle cx="459.0" cy="501.0" r="2.6" fill="#8acd91" fill-opacity="0.85"/>
<circle cx="433.9" cy="502.2" r="2.6" fill="#8acd91" fill-opacity="0.85"/>
<circle cx="439.2" cy="501.5" r="2.6" fill="#8acd91" fill-opacity="0.85"/>
<circle cx="469.5" cy="509.7" r="2.6" fill="#8acd91" fill-opacity="0.85"/>
<circle cx="500.5" cy="507.1" r="2.6" fill="#8acd91" fill-opacity="0.85"/>
<circle cx="513.6" cy="498.3" r="2.6" fill="#8acd91" fill-opacity="0.85"/>
<circle cx="520.3" cy="500.1" r="2.6" fill="#8acd91" fill-opacity="0.85"/>
<circle cx="447.9" cy="515.5" r="2.6" fill="#8acd91" fill-opacity="0.85"/>
<circle cx="460.2" cy="525.5" r="2.6" fill="#8acd91" fill-opacity="0.85"/>
<circle cx="515.4" cy="522.9" r="2.6" fill="#8acd91" fill-opacity="0.85"/>
<circle cx="416.9" cy="522.5" r="2.6" fill="#8acd91" fill-opacity="0.85"/>
<circle cx="419.0" cy="524.6" r="2.6" fill="#8acd91" fill-opacity="0.85"/>
<circle cx="426.0" cy="530.2" r="2.6" fill="#8acd91" fill-opacity="0.85"/>
<circle cx="424.6" cy="532.5" r="2.6" fill="#8acd91" fill-opacity="0.85"/>
<circle cx="444.4" cy="531.3" r="2.6" fill="#8acd91" fill-opacity="0.85"/>
<circle cx="441.8" cy="533.4" r="2.6" fill="#8acd91" fill-opacity="0.85"/>
<circle cx="507.5" cy="530.2" r="2.6" fill="#8acd91" fill-opacity="0.85"/>
<circle cx="433.9" cy="534.2" r="2.6" fill="#8acd91" fill-opacity="0.85"/>
<circle cx="501.7" cy="536.5" r="2.6" fill="#8acd91" fill-opacity="0.85"/>
<circle cx="552.6" cy="499.4" r="2.6" fill="#8acd91" fill-opacity="0.85"/>
<circle cx="539.8" cy="509.8" r="2.6" fill="#8acd91" fill-opacity="0.85"/>
<circle cx="541.2" cy="515.1" r="2.6" fill="#8acd91" fill-opacity="0.85"/>
<circle cx="526.0" cy="522.6" r="2.6" fill="#8acd91" fill-opacity="0.85"/>
<circle cx="586.5" cy="533.5" r="2.6" fill="#8acd91" fill-opacity="0.85"/>
<circle cx="596.9" cy="534.1" r="2.6" fill="#8acd91" fill-opacity="0.85"/>
<circle cx="429.9" cy="544.4" r="2.6" fill="#8cce92" fill-opacity="0.85"/>
<circle cx="435.1" cy="552.4" r="2.6" fill="#8fcf96" fill-opacity="0.85"/>
<circle cx="437.4" cy="547.5" r="2.6" fill="#8dce94" fill-opacity="0.85"/>
<circle cx="442.1" cy="547.2" r="2.6" fill="#8dce94" fill-opacity="0.85"/>
<circle cx="453.7" cy="537.4" r="2.6" fill="#8acd91" fill-opacity="0.85"/>
<circle cx="467.7" cy="544.4" r="2.6" fill="#8cce92" fill-opacity="0.85"/>
<circle cx="466.7" cy="549.6" r="2.6" fill="#8ecf95" fill-opacity="0.85"/>
<circle cx="449.7" cy="555.9" r="2.6" fill="#91d097" fill-opacity="0.85"/>
<circle cx="476.8" cy="556.6" r="2.6" fill="#91d097" fill-opacity="0.85"/>
<circle cx="479.5" cy="549.6" r="2.6" fill="#8ecf95" fill-opacity="0.85"/>
<circle cx="488.2" cy="540.5" r="2.6" fill="#8acd91" fill-opacity="0.85"/>
<circle cx="492.6" cy="553.7" r="2.6" fill="#90cf96" fill-opacity="0.85"/>
<circle cx="496.1" cy="552.8" r="2.6" fill="#8fcf96" fill-opacity="0.85"/>
<circle cx="492.2" cy="557.2" r="2.6" fill="#91d098" fill-opacity="0.85"/>
<circle cx="523.8" cy="558.0" r="2.6" fill="#91d098" fill-opacity="0.85"/>
<circle cx="441.8" cy="564.7" r="2.6" fill="#94d19b" fill-opacity="0.85"/>
<circle cx="445.6" cy="565.0" r="2.6" fill="#94d19b" fill-opacity="0.85"/>
<circle cx="451.4" cy="565.4" r="2.6" fill="#95d29b" fill-opacity="0.85"/>
<circle cx="447.4" cy="568.9" r="2.6" fill="#96d29c" fill-opacity="0.85"/>
<circle cx="469.8" cy="565.4" r="2.6" fill="#95d29b" fill-opacity="0.85"/>
<circle cx="461.1" cy="571.2" r="2.6" fill="#97d39d" fill-opacity="0.85"/>
<circle cx="476.5" cy="570.6" r="2.6" fill="#97d39d" fill-opacity="0.85"/>
<circle cx="461.4" cy="579.9" r="2.6" fill="#9bd4a1" fill-opacity="0.85"/>
<circle cx="464.6" cy="578.7" r="2.6" fill="#9ad4a0" fill-opacity="0.85"/>
<circle cx="466.7" cy="582.9" r="2.6" fill="#9cd5a2" fill-opacity="0.85"/>
<circle cx="477.7" cy="584.0" r="2.6" fill="#9dd5a3" fill-opacity="0.85"/>
<circle cx="494.0" cy="569.9" r="2.6" fill="#97d29d" fill-opacity="0.85"/>
<circle cx="511.0" cy="567.1" r="2.6" fill="#95d29c" fill-opacity="0.85"/>
<circle cx="514.0" cy="564.2" r="2.6" fill="#94d19b" fill-opacity="0.85"/>
<circle cx="518.5" cy="567.7" r="2.6" fill="#96d29c" fill-opacity="0.85"/>
<circle cx="538.4" cy="545.4" r="2.6" fill="#8cce93" fill-opacity="0.85"/>
<circle cx="545.7" cy="543.4" r="2.6" fill="#8bcd92" fill-opacity="0.85"/>
<circle cx="568.8" cy="543.8" r="2.6" fill="#8bce92" fill-opacity="0.85"/>
<circle cx="526.0" cy="553.3" r="2.6" fill="#8fcf96" fill-opacity="0.85"/>
<circle cx="531.9" cy="555.6" r="2.6" fill="#90d097" fill-opacity="0.85"/>
<circle cx="538.4" cy="554.6" r="2.6" fill="#90d097" fill-opacity="0.85"/>
<circle cx="555.5" cy="553.3" r="2.6" fill="#8fcf96" fill-opacity="0.85"/>
<circle cx="558.5" cy="557.2" r="2.6" fill="#91d098" fill-opacity="0.85"/>
<circle cx="576.6" cy="561.1" r="2.6" fill="#93d199" fill-opacity="0.85"/>
<circle cx="533.3" cy="573.0" r="2.6" fill="#98d39e" fill-opacity="0.85"/>
<circle cx="535.8" cy="572.4" r="2.6" fill="#98d39e" fill-opacity="0.85"/>
<circle cx="531.3" cy="581.6" r="2.6" fill="#9cd5a2" fill-opacity="0.85"/>
<circle cx="532.9" cy="585.2" r="2.6" fill="#9dd5a3" fill-opacity="0.85"/>
<circle cx="569.9" cy="583.2" r="2.6" fill="#9cd5a2" fill-opacity="0.85"/>
<circle cx="550.2" cy="590.1" r="2.6" fill="#9fd6a5" fill-opacity="0.85"/>
<circle cx="580.6" cy="588.1" r="2.6" fill="#9ed6a4" fill-opacity="0.85"/>
<circle cx="583.7" cy="592.7" r="2.6" fill="#a0d7a6" fill-opacity="0.85"/>
<circle cx="589.6" cy="592.7" r="2.6" fill="#a0d7a6" fill-opacity="0.85"/>
<circle cx="526.0" cy="594.6" r="2.6" fill="#a1d7a7" fill-opacity="0.85"/>
<circle cx="544.3" cy="602.5" r="2.6" fill="#a5d8aa" fill-opacity="0.85"/>
<circle cx="539.2" cy="607.8" r="2.6" fill="#a7d9ac" fill-opacity="0.85"/>
<circle cx="568.8" cy="605.9" r="2.6" fill="#a6d9ab" fill-opacity="0.85"/>
<circle cx="483.5" cy="441.4" r="2.6" fill="#3a9a5a" fill-opacity="0.88"/>
<circle cx="483.5" cy="444.9" r="2.6" fill="#3a9a5a" fill-opacity="0.88"/>
<circle cx="489.4" cy="440.2" r="2.6" fill="#3a9a5a" fill-opacity="0.88"/>
<circle cx="498.2" cy="438.8" r="2.6" fill="#3a9a5a" fill-opacity="0.88"/>
<circle cx="507.0" cy="438.4" r="2.6" fill="#3a9a5a" fill-opacity="0.88"/>
<circle cx="510.1" cy="439.1" r="2.6" fill="#3a9a5a" fill-opacity="0.88"/>
<circle cx="501.7" cy="446.6" r="2.6" fill="#3a9a5a" fill-opacity="0.88"/>
<circle cx="508.7" cy="451.0" r="2.6" fill="#3a9a5a" fill-opacity="0.88"/>
<circle cx="513.6" cy="457.2" r="2.6" fill="#3a9a5a" fill-opacity="0.88"/>
<circle cx="518.9" cy="459.8" r="2.6" fill="#3a9a5a" fill-opacity="0.88"/>
<circle cx="496.1" cy="461.5" r="2.6" fill="#3a9a5a" fill-opacity="0.88"/>
<circle cx="490.0" cy="465.0" r="2.6" fill="#3a9a5a" fill-opacity="0.88"/>
<circle cx="493.5" cy="467.1" r="2.6" fill="#3a9a5a" fill-opacity="0.88"/>
<circle cx="509.2" cy="466.8" r="2.6" fill="#3a9a5a" fill-opacity="0.88"/>
<circle cx="470.7" cy="455.9" r="2.6" fill="#3a9a5a" fill-opacity="0.88"/>
<circle cx="459.3" cy="463.3" r="2.6" fill="#3a9a5a" fill-opacity="0.88"/>
<circle cx="471.6" cy="468.5" r="2.6" fill="#3a9a5a" fill-opacity="0.88"/>
<circle cx="449.7" cy="468.9" r="2.6" fill="#3a9a5a" fill-opacity="0.88"/>
<circle cx="448.4" cy="472.0" r="2.6" fill="#3a9a5a" fill-opacity="0.88"/>
<circle cx="445.6" cy="476.4" r="2.6" fill="#3a9a5a" fill-opacity="0.88"/>
<circle cx="455.8" cy="479.4" r="2.6" fill="#3a9a5a" fill-opacity="0.88"/>
<circle cx="463.2" cy="481.7" r="2.6" fill="#3a9a5a" fill-opacity="0.88"/>
<circle cx="495.7" cy="476.4" r="2.6" fill="#3a9a5a" fill-opacity="0.88"/>
<circle cx="523.8" cy="468.9" r="2.6" fill="#3a9a5a" fill-opacity="0.88"/>
<circle cx="505.7" cy="484.7" r="2.6" fill="#3a9a5a" fill-opacity="0.88"/>
<circle cx="505.2" cy="491.3" r="2.6" fill="#3a9a5a" fill-opacity="0.88"/>
<circle cx="444.9" cy="488.2" r="2.6" fill="#3a9a5a" fill-opacity="0.88"/>
<circle cx="476.5" cy="489.6" r="2.6" fill="#3a9a5a" fill-opacity="0.88"/>
<circle cx="484.2" cy="494.5" r="2.6" fill="#3a9a5a" fill-opacity="0.88"/>
<circle cx="469.8" cy="515.0" r="2.6" fill="#3a9a5a" fill-opacity="0.88"/>
<circle cx="427.4" cy="515.0" r="2.6" fill="#3a9a5a" fill-opacity="0.88"/>
<circle cx="431.6" cy="517.6" r="2.6" fill="#3a9a5a" fill-opacity="0.88"/>
<circle cx="441.4" cy="516.2" r="2.6" fill="#3a9a5a" fill-opacity="0.88"/>
<circle cx="518.0" cy="521.5" r="2.6" fill="#3a9a5a" fill-opacity="0.88"/>
<circle cx="440.9" cy="527.2" r="2.6" fill="#3a9a5a" fill-opacity="0.88"/>
<circle cx="464.6" cy="530.2" r="2.6" fill="#3a9a5a" fill-opacity="0.88"/>
<circle cx="456.7" cy="536.0" r="2.6" fill="#3a9a5a" fill-opacity="0.88"/>
<circle cx="462.5" cy="534.8" r="2.6" fill="#3a9a5a" fill-opacity="0.88"/>
<circle cx="487.0" cy="534.2" r="2.6" fill="#3a9a5a" fill-opacity="0.88"/>
<circle cx="532.5" cy="437.5" r="2.6" fill="#3a9a5a" fill-opacity="0.88"/>
<circle cx="537.2" cy="438.9" r="2.6" fill="#3a9a5a" fill-opacity="0.88"/>
<circle cx="542.7" cy="438.9" r="2.6" fill="#3a9a5a" fill-opacity="0.88"/>
<circle cx="526.6" cy="447.3" r="2.6" fill="#3a9a5a" fill-opacity="0.88"/>
<circle cx="529.3" cy="452.7" r="2.6" fill="#3a9a5a" fill-opacity="0.88"/>
<circle cx="551.0" cy="457.2" r="2.6" fill="#3a9a5a" fill-opacity="0.88"/>
<circle cx="530.9" cy="465.5" r="2.6" fill="#3a9a5a" fill-opacity="0.88"/>
<circle cx="538.4" cy="466.5" r="2.6" fill="#3a9a5a" fill-opacity="0.88"/>
<circle cx="544.3" cy="463.1" r="2.6" fill="#3a9a5a" fill-opacity="0.88"/>
<circle cx="549.0" cy="467.8" r="2.6" fill="#3a9a5a" fill-opacity="0.88"/>
<circle cx="558.1" cy="471.8" r="2.6" fill="#3a9a5a" fill-opacity="0.88"/>
<circle cx="564.4" cy="496.0" r="2.6" fill="#3a9a5a" fill-opacity="0.88"/>
<circle cx="556.1" cy="507.3" r="2.6" fill="#3a9a5a" fill-opacity="0.88"/>
<circle cx="554.6" cy="515.7" r="2.6" fill="#3a9a5a" fill-opacity="0.88"/>
<circle cx="550.2" cy="518.7" r="2.6" fill="#3a9a5a" fill-opacity="0.88"/>
<circle cx="555.5" cy="524.2" r="2.6" fill="#3a9a5a" fill-opacity="0.88"/>
<circle cx="563.4" cy="517.7" r="2.6" fill="#3a9a5a" fill-opacity="0.88"/>
<circle cx="562.8" cy="520.7" r="2.6" fill="#3a9a5a" fill-opacity="0.88"/>
<circle cx="551.6" cy="527.6" r="2.6" fill="#3a9a5a" fill-opacity="0.88"/>
<circle cx="572.3" cy="527.0" r="2.6" fill="#3a9a5a" fill-opacity="0.88"/>
<circle cx="584.5" cy="512.4" r="2.6" fill="#3a9a5a" fill-opacity="0.88"/>
<circle cx="560.9" cy="534.5" r="2.6" fill="#3a9a5a" fill-opacity="0.88"/>
<circle cx="443.9" cy="537.9" r="2.6" fill="#3a9a5a" fill-opacity="0.88"/>
<circle cx="455.8" cy="541.9" r="2.6" fill="#3b9a5b" fill-opacity="0.88"/>
<circle cx="442.7" cy="554.9" r="2.6" fill="#449f63" fill-opacity="0.88"/>
<circle cx="447.9" cy="552.4" r="2.6" fill="#439e61" fill-opacity="0.88"/>
<circle cx="483.5" cy="544.9" r="2.6" fill="#3d9c5d" fill-opacity="0.88"/>
<circle cx="501.0" cy="537.9" r="2.6" fill="#3a9a5a" fill-opacity="0.88"/>
<circle cx="500.5" cy="551.9" r="2.6" fill="#429e61" fill-opacity="0.88"/>
<circle cx="518.0" cy="557.2" r="2.6" fill="#46a064" fill-opacity="0.88"/>
<circle cx="444.9" cy="570.6" r="2.6" fill="#50a56c" fill-opacity="0.88"/>
<circle cx="448.4" cy="572.0" r="2.6" fill="#51a66d" fill-opacity="0.88"/>
<circle cx="466.0" cy="568.9" r="2.6" fill="#4ea46b" fill-opacity="0.88"/>
<circle cx="463.7" cy="569.9" r="2.6" fill="#4fa56c" fill-opacity="0.88"/>
<circle cx="453.7" cy="577.7" r="2.6" fill="#55a870" fill-opacity="0.88"/>
<circle cx="598.9" cy="537.9" r="2.6" fill="#3a9a5a" fill-opacity="0.88"/>
<circle cx="559.5" cy="546.2" r="2.6" fill="#3e9c5d" fill-opacity="0.88"/>
<circle cx="542.3" cy="566.5" r="2.6" fill="#4da46a" fill-opacity="0.88"/>
<circle cx="559.5" cy="576.9" r="2.6" fill="#54a770" fill-opacity="0.88"/>
<circle cx="566.4" cy="576.9" r="2.6" fill="#54a770" fill-opacity="0.88"/>
<circle cx="518.5" cy="444.9" r="2.6" fill="#1a7a3c" fill-opacity="0.9"/>
<circle cx="519.8" cy="444.0" r="2.6" fill="#1a7a3c" fill-opacity="0.9"/>
<circle cx="512.2" cy="456.6" r="2.6" fill="#1a7a3c" fill-opacity="0.9"/>
<circle cx="489.1" cy="456.3" r="2.6" fill="#1a7a3c" fill-opacity="0.9"/>
<circle cx="488.7" cy="458.0" r="2.6" fill="#1a7a3c" fill-opacity="0.9"/>
<circle cx="518.0" cy="483.4" r="2.6" fill="#1a7a3c" fill-opacity="0.9"/>
<circle cx="522.7" cy="485.2" r="2.6" fill="#1a7a3c" fill-opacity="0.9"/>
<circle cx="523.8" cy="486.9" r="2.6" fill="#1a7a3c" fill-opacity="0.9"/>
<circle cx="485.9" cy="508.0" r="2.6" fill="#1a7a3c" fill-opacity="0.9"/>
<circle cx="483.8" cy="513.7" r="2.6" fill="#1a7a3c" fill-opacity="0.9"/>
<circle cx="497.5" cy="503.9" r="2.6" fill="#1a7a3c" fill-opacity="0.9"/>
<circle cx="499.6" cy="510.2" r="2.6" fill="#1a7a3c" fill-opacity="0.9"/>
<circle cx="522.0" cy="513.2" r="2.6" fill="#1a7a3c" fill-opacity="0.9"/>
<circle cx="466.7" cy="520.2" r="2.6" fill="#1a7a3c" fill-opacity="0.9"/>
<circle cx="460.7" cy="522.9" r="2.6" fill="#1a7a3c" fill-opacity="0.9"/>
<circle cx="496.1" cy="520.2" r="2.6" fill="#1a7a3c" fill-opacity="0.9"/>
<circle cx="505.2" cy="522.5" r="2.6" fill="#1a7a3c" fill-opacity="0.9"/>
<circle cx="522.0" cy="528.1" r="2.6" fill="#1a7a3c" fill-opacity="0.9"/>
<circle cx="474.7" cy="535.1" r="2.6" fill="#1a7a3c" fill-opacity="0.9"/>
<circle cx="476.5" cy="534.8" r="2.6" fill="#1a7a3c" fill-opacity="0.9"/>
<circle cx="495.2" cy="534.8" r="2.6" fill="#1a7a3c" fill-opacity="0.9"/>
<circle cx="545.1" cy="483.6" r="2.6" fill="#1a7a3c" fill-opacity="0.9"/>
<circle cx="560.1" cy="494.6" r="2.6" fill="#1a7a3c" fill-opacity="0.9"/>
<circle cx="575.8" cy="496.0" r="2.6" fill="#1a7a3c" fill-opacity="0.9"/>
<circle cx="569.9" cy="502.5" r="2.6" fill="#1a7a3c" fill-opacity="0.9"/>
<circle cx="527.0" cy="513.8" r="2.6" fill="#1a7a3c" fill-opacity="0.9"/>
<circle cx="532.9" cy="515.1" r="2.6" fill="#1a7a3c" fill-opacity="0.9"/>
<circle cx="535.2" cy="517.1" r="2.6" fill="#1a7a3c" fill-opacity="0.9"/>
<circle cx="529.3" cy="516.7" r="2.6" fill="#1a7a3c" fill-opacity="0.9"/>
<circle cx="556.9" cy="510.8" r="2.6" fill="#1a7a3c" fill-opacity="0.9"/>
<circle cx="551.6" cy="521.6" r="2.6" fill="#1a7a3c" fill-opacity="0.9"/>
<circle cx="590.0" cy="513.2" r="2.6" fill="#1a7a3c" fill-opacity="0.9"/>
<circle cx="450.2" cy="541.4" r="2.6" fill="#1b7a3c" fill-opacity="0.9"/>
<circle cx="453.2" cy="541.9" r="2.6" fill="#1b7b3d" fill-opacity="0.9"/>
<circle cx="479.5" cy="537.9" r="2.6" fill="#1a7a3c" fill-opacity="0.9"/>
<circle cx="471.6" cy="540.2" r="2.6" fill="#1a7a3c" fill-opacity="0.9"/>
<circle cx="469.5" cy="545.4" r="2.6" fill="#1e7c3f" fill-opacity="0.9"/>
<circle cx="470.7" cy="548.4" r="2.6" fill="#207e42" fill-opacity="0.9"/>
<circle cx="462.5" cy="550.1" r="2.6" fill="#227f43" fill-opacity="0.9"/>
<circle cx="459.0" cy="554.5" r="2.6" fill="#268146" fill-opacity="0.9"/>
<circle cx="502.2" cy="542.3" r="2.6" fill="#1b7b3d" fill-opacity="0.9"/>
<circle cx="509.2" cy="540.5" r="2.6" fill="#1a7a3c" fill-opacity="0.9"/>
<circle cx="504.5" cy="549.3" r="2.6" fill="#217e42" fill-opacity="0.9"/>
<circle cx="506.6" cy="550.7" r="2.6" fill="#227f43" fill-opacity="0.9"/>
<circle cx="545.1" cy="538.9" r="2.6" fill="#1a7a3c" fill-opacity="0.9"/>
<circle cx="554.2" cy="538.3" r="2.6" fill="#1a7a3c" fill-opacity="0.9"/>
<circle cx="527.0" cy="542.2" r="2.6" fill="#1b7b3d" fill-opacity="0.9"/>
<circle cx="528.5" cy="546.2" r="2.6" fill="#1f7d40" fill-opacity="0.9"/>
<circle cx="463.7" cy="501.8" r="2.6" fill="#055222" fill-opacity="0.92"/>
<circle cx="469.8" cy="501.8" r="2.6" fill="#055222" fill-opacity="0.92"/>
<circle cx="476.5" cy="500.4" r="2.6" fill="#055222" fill-opacity="0.92"/>
<circle cx="478.6" cy="501.0" r="2.6" fill="#055222" fill-opacity="0.92"/>
<circle cx="481.7" cy="500.1" r="2.6" fill="#055222" fill-opacity="0.92"/>
<circle cx="522.7" cy="507.1" r="2.6" fill="#055222" fill-opacity="0.92"/>
<circle cx="518.0" cy="509.2" r="2.6" fill="#055222" fill-opacity="0.92"/>
<circle cx="570.7" cy="482.2" r="2.6" fill="#055222" fill-opacity="0.92"/>
<circle cx="582.2" cy="485.6" r="2.6" fill="#055222" fill-opacity="0.92"/>
<circle cx="527.0" cy="493.1" r="2.6" fill="#055222" fill-opacity="0.92"/>
<circle cx="535.2" cy="498.6" r="2.6" fill="#055222" fill-opacity="0.92"/>
<circle cx="542.7" cy="496.0" r="2.6" fill="#055222" fill-opacity="0.92"/>
<circle cx="551.6" cy="495.4" r="2.6" fill="#055222" fill-opacity="0.92"/>
<circle cx="561.5" cy="496.6" r="2.6" fill="#055222" fill-opacity="0.92"/>
<circle cx="588.1" cy="491.5" r="2.6" fill="#055222" fill-opacity="0.92"/>
<circle cx="589.6" cy="495.4" r="2.6" fill="#055222" fill-opacity="0.92"/>
<text class="tt" x="520.0" y="385.7" textLength="195.4" lengthAdjust="spacingAndGlyphs">Wasserstein barycenter for cluster 7</text>
<polygon points="392.1,1000.9 595.7,981.2 598.3,785.9 387.3,801.1" fill="#f2f2f2"/>
<polygon points="595.7,981.2 662.6,1059.9 668.2,846.8 598.3,785.9" fill="#f8f8f8"/>
<polygon points="392.1,1000.9 595.7,981.2 662.6,1059.9 439.4,1083.9" fill="#f5f5f5"/>
<path d="M653.1 1060.9L587.0 982.1L589.4 786.6M613.1 1065.2L550.4 985.6L551.4 789.3M572.6 1069.6L513.4 989.2L513.1 792.1M531.7 1074.0L476.1 992.8L474.4 794.8M490.3 1078.4L438.5 996.4L435.4 797.7M448.6 1082.9L400.5 1000.1L396.0 800.5M393.8 1003.8L598.1 984.0L600.8 788.1M401.9 1018.0L609.5 997.5L612.7 798.5M410.2 1032.7L621.3 1011.4L625.1 809.3M418.9 1047.9L633.6 1025.9L637.9 820.4M427.9 1063.7L646.4 1040.8L651.2 832.0M437.3 1080.1L659.6 1056.4L665.0 844.1M391.8 989.4L595.8 969.9L662.9 1047.6M391.0 953.7L596.3 935.0L663.9 1009.6M390.1 917.5L596.8 899.6L664.9 971.1M389.2 880.8L597.2 863.8L665.9 932.0M388.3 843.6L597.7 827.5L667.0 892.3M387.4 806.0L598.2 790.7L668.0 852.0" fill="none" stroke="#c8c8c8" stroke-width="1.0"/>
<path d="M387.3 801.1L392.1 1000.9L439.4 1083.9L662.6 1059.9" fill="none" stroke="#505050" stroke-width="1.0"/>
<path d="M388.0 989.7L394.0 989.1M387.1 954.0L393.2 953.5M386.2 917.8L392.3 917.3M385.3 881.1L391.4 880.6M384.4 843.9L390.5 843.5M383.5 806.3L389.6 805.8M389.3 1004.3L395.3 1003.7M397.4 1018.5L403.4 1017.9M405.8 1033.1L411.7 1032.5M414.4 1048.4L420.4 1047.8M423.4 1064.2L429.4 1063.6M432.8 1080.6L438.7 1080.0M655.7 1064.0L652.2 1059.8M615.5 1068.4L612.1 1064.0M574.9 1072.8L571.7 1068.4M533.9 1077.3L530.8 1072.7M492.5 1081.8L489.5 1077.1M450.6 1086.3L447.8 1081.6" fill="none" stroke="#3a3a3a" stroke-width="1.0"/>
<g class="tl"><text x="379.1" y="994.5" textLength="14.0" lengthAdjust="spacingAndGlyphs">0.0</text><text x="378.3" y="958.8" textLength="14.0" lengthAdjust="spacingAndGlyphs">0.2</text><text x="377.4" y="922.6" textLength="14.0" lengthAdjust="spacingAndGlyphs">0.4</text><text x="376.5" y="886.0" textLength="14.0" lengthAdjust="spacingAndGlyphs">0.6</text><text x="375.6" y="848.8" textLength="14.0" lengthAdjust="spacingAndGlyphs">0.8</text><text x="374.7" y="811.1" textLength="14.0" lengthAdjust="spacingAndGlyphs">1.0</text><text x="383.3" y="1022.5" textLength="14.0" lengthAdjust="spacingAndGlyphs">0.0</text><text x="391.4" y="1036.7" textLength="14.0" lengthAdjust="spacingAndGlyphs">0.2</text><text x="399.7" y="1051.3" textLength="14.0" lengthAdjust="spacingAndGlyphs">0.4</text><text x="408.4" y="1066.6" textLength="14.0" lengthAdjust="spacingAndGlyphs">0.6</text><text x="417.4" y="1082.4" textLength="14.0" lengthAdjust="spacingAndGlyphs">0.8</text><text x="426.8" y="1098.8" textLength="14.0" lengthAdjust="spacingAndGlyphs">1.0</text><text x="655.9" y="1082.9" textLength="14.0" lengthAdjust="spacingAndGlyphs">0.0</text><text x="615.8" y="1087.2" textLength="14.0" lengthAdjust="spacingAndGlyphs">0.2</text><text x="575.3" y="1091.5" textLength="14.0" lengthAdjust="spacingAndGlyphs">0.4</text><text x="534.4" y="1095.9" textLength="14.0" lengthAdjust="spacingAndGlyphs">0.6</text><text x="493.1" y="1100.3" textLength="14.0" lengthAdjust="spacingAndGlyphs">0.8</text><text x="451.3" y="1104.8" textLength="14.0" lengthAdjust="spacingAndGlyphs">1.0</text></g>
<text class="al" transform="translate(365.3 899.0) rotate(-90)" textLength="20.2" lengthAdjust="spacingAndGlyphs">time</text>
<text class="al" transform="translate(393.0 1063.7) rotate(60)" dy="3.4" textLength="36.1" lengthAdjust="spacingAndGlyphs">mobility</text>
<text class="al" transform="translate(559.4 1104.0) rotate(-6)" dy="2.5" textLength="46.6" lengthAdjust="spacingAndGlyphs">new cases</text>
<circle cx="590.0" cy="977.4" r="2.6" fill="#e3f4e0" fill-opacity="0.8"/>
<circle cx="602.8" cy="1005.6" r="2.6" fill="#e7f5e4" fill-opacity="0.8"/>
<circle cx="606.2" cy="1006.6" r="2.6" fill="#e7f5e4" fill-opacity="0.8"/>
<circle cx="600.9" cy="1017.4" r="2.6" fill="#e8f6e6" fill-opacity="0.8"/>
<circle cx="604.8" cy="1019.4" r="2.6" fill="#e8f6e6" fill-opacity="0.8"/>
<circle cx="626.5" cy="1014.1" r="2.6" fill="#e8f6e5" fill-opacity="0.8"/>
<circle cx="631.4" cy="1022.3" r="2.6" fill="#e8f6e6" fill-opacity="0.8"/>
<circle cx="628.5" cy="1028.2" r="2.6" fill="#e8f6e6" fill-opacity="0.8"/>
<circle cx="641.3" cy="1040.1" r="2.6" fill="#e8f6e6" fill-opacity="0.8"/>
<circle cx="440.9" cy="904.6" r="2.6" fill="#bce3b7" fill-opacity="0.82"/>
<circle cx="505.2" cy="914.8" r="2.6" fill="#bce3b7" fill-opacity="0.82"/>
<circle cx="471.2" cy="932.8" r="2.6" fill="#bfe4ba" fill-opacity="0.82"/>
<circle cx="476.0" cy="927.9" r="2.6" fill="#bee4b9" fill-opacity="0.82"/>
<circle cx="476.8" cy="934.5" r="2.6" fill="#bfe4bb" fill-opacity="0.82"/>
<circle cx="477.2" cy="942.4" r="2.6" fill="#c1e5bd" fill-opacity="0.82"/>
<circle cx="482.1" cy="942.9" r="2.6" fill="#c1e5bd" fill-opacity="0.82"/>
<circle cx="501.0" cy="944.2" r="2.6" fill="#c2e5bd" fill-opacity="0.82"/>
<circle cx="497.0" cy="957.0" r="2.6" fill="#c5e7c1" fill-opacity="0.82"/>
<circle cx="508.0" cy="947.7" r="2.6" fill="#c3e6be" fill-opacity="0.82"/>
<circle cx="511.9" cy="949.4" r="2.6" fill="#c3e6bf" fill-opacity="0.82"/>
<circle cx="514.5" cy="952.0" r="2.6" fill="#c4e6bf" fill-opacity="0.82"/>
<circle cx="509.2" cy="959.9" r="2.6" fill="#c6e7c1" fill-opacity="0.82"/>
<circle cx="524.1" cy="960.5" r="2.6" fill="#c6e7c2" fill-opacity="0.82"/>
<circle cx="534.9" cy="929.3" r="2.6" fill="#bee4b9" fill-opacity="0.82"/>
<circle cx="533.3" cy="951.4" r="2.6" fill="#c4e6bf" fill-opacity="0.82"/>
<circle cx="543.1" cy="943.1" r="2.6" fill="#c2e5bd" fill-opacity="0.82"/>
<circle cx="554.2" cy="947.1" r="2.6" fill="#c3e6be" fill-opacity="0.82"/>
<circle cx="549.6" cy="950.4" r="2.6" fill="#c3e6bf" fill-opacity="0.82"/>
<circle cx="547.1" cy="954.9" r="2.6" fill="#c4e7c0" fill-opacity="0.82"/>
<circle cx="552.6" cy="960.8" r="2.6" fill="#c6e7c2" fill-opacity="0.82"/>
<circle cx="558.1" cy="964.8" r="2.6" fill="#c7e8c3" fill-opacity="0.82"/>
<circle cx="564.0" cy="959.3" r="2.6" fill="#c6e7c1" fill-opacity="0.82"/>
<circle cx="571.3" cy="965.6" r="2.6" fill="#c7e8c3" fill-opacity="0.82"/>
<circle cx="570.3" cy="954.9" r="2.6" fill="#c4e7c0" fill-opacity="0.82"/>
<circle cx="552.6" cy="979.4" r="2.6" fill="#cae9c7" fill-opacity="0.82"/>
<circle cx="565.4" cy="980.0" r="2.6" fill="#cbe9c7" fill-opacity="0.82"/>
<circle cx="561.5" cy="987.3" r="2.6" fill="#cceac9" fill-opacity="0.82"/>
<circle cx="583.1" cy="975.0" r="2.6" fill="#c9e9c5" fill-opacity="0.82"/>
<circle cx="583.7" cy="993.8" r="2.6" fill="#ceebca" fill-opacity="0.82"/>
<circle cx="588.1" cy="996.7" r="2.6" fill="#cfebcb" fill-opacity="0.82"/>
<circle cx="602.8" cy="995.7" r="2.6" fill="#cfebcb" fill-opacity="0.82"/>
<circle cx="597.5" cy="1008.1" r="2.6" fill="#d2ecce" fill-opacity="0.82"/>
<circle cx="498.2" cy="844.7" r="2.6" fill="#8acd91" fill-opacity="0.85"/>
<circle cx="476.0" cy="862.2" r="2.6" fill="#8acd91" fill-opacity="0.85"/>
<circle cx="514.0" cy="860.8" r="2.6" fill="#8acd91" fill-opacity="0.85"/>
<circle cx="522.4" cy="870.4" r="2.6" fill="#8acd91" fill-opacity="0.85"/>
<circle cx="445.3" cy="875.7" r="2.6" fill="#8acd91" fill-opacity="0.85"/>
<circle cx="466.3" cy="876.2" r="2.6" fill="#8acd91" fill-opacity="0.85"/>
<circle cx="454.9" cy="880.4" r="2.6" fill="#8acd91" fill-opacity="0.85"/>
<circle cx="459.0" cy="879.2" r="2.6" fill="#8acd91" fill-opacity="0.85"/>
<circle cx="461.9" cy="884.5" r="2.6" fill="#8acd91" fill-opacity="0.85"/>
<circle cx="470.2" cy="883.2" r="2.6" fill="#8acd91" fill-opacity="0.85"/>
<circle cx="491.2" cy="881.5" r="2.6" fill="#8acd91" fill-opacity="0.85"/>
<circle cx="418.1" cy="885.3" r="2.6" fill="#8acd91" fill-opacity="0.85"/>
<circle cx="420.4" cy="887.1" r="2.6" fill="#8acd91" fill-opacity="0.85"/>
<circle cx="416.9" cy="890.2" r="2.6" fill="#8acd91" fill-opacity="0.85"/>
<circle cx="479.5" cy="890.9" r="2.6" fill="#8acd91" fill-opacity="0.85"/>
<circle cx="518.0" cy="891.5" r="2.6" fill="#8acd91" fill-opacity="0.85"/>
<circle cx="520.3" cy="895.8" r="2.6" fill="#8acd91" fill-opacity="0.85"/>
<circle cx="422.2" cy="899.0" r="2.6" fill="#8acd91" fill-opacity="0.85"/>
<circle cx="428.1" cy="901.1" r="2.6" fill="#8acd91" fill-opacity="0.85"/>
<circle cx="426.4" cy="904.3" r="2.6" fill="#8acd91" fill-opacity="0.85"/>
<circle cx="444.4" cy="906.0" r="2.6" fill="#8acd91" fill-opacity="0.85"/>
<circle cx="476.8" cy="899.0" r="2.6" fill="#8acd91" fill-opacity="0.85"/>
<circle cx="485.9" cy="897.9" r="2.6" fill="#8acd91" fill-opacity="0.85"/>
<circle cx="485.9" cy="906.7" r="2.6" fill="#8acd91" fill-opacity="0.85"/>
<circle cx="488.2" cy="904.3" r="2.6" fill="#8acd91" fill-opacity="0.85"/>
<circle cx="474.2" cy="906.7" r="2.6" fill="#8acd91" fill-opacity="0.85"/>
<circle cx="442.7" cy="912.0" r="2.6" fill="#8acd91" fill-opacity="0.85"/>
<circle cx="446.2" cy="911.3" r="2.6" fill="#8acd91" fill-opacity="0.85"/>
<circle cx="554.6" cy="855.7" r="2.6" fill="#8acd91" fill-opacity="0.85"/>
<circle cx="535.8" cy="867.5" r="2.6" fill="#8acd91" fill-opacity="0.85"/>
<circle cx="542.7" cy="868.1" r="2.6" fill="#8acd91" fill-opacity="0.85"/>
<circle cx="539.8" cy="872.1" r="2.6" fill="#8acd91" fill-opacity="0.85"/>
<circle cx="537.2" cy="883.3" r="2.6" fill="#8acd91" fill-opacity="0.85"/>
<circle cx="532.9" cy="888.4" r="2.6" fill="#8acd91" fill-opacity="0.85"/>
<circle cx="562.8" cy="898.7" r="2.6" fill="#8acd91" fill-opacity="0.85"/>
<circle cx="566.4" cy="897.1" r="2.6" fill="#8acd91" fill-opacity="0.85"/>
<circle cx="541.8" cy="902.2" r="2.6" fill="#8acd91" fill-opacity="0.85"/>
<circle cx="556.1" cy="913.5" r="2.6" fill="#8acd91" fill-opacity="0.85"/>
<circle cx="534.5" cy="914.1" r="2.6" fill="#8acd91" fill-opacity="0.85"/>
<circle cx="537.2" cy="916.4" r="2.6" fill="#8acd91" fill-opacity="0.85"/>
<circle cx="421.6" cy="923.7" r="2.6" fill="#8bce92" fill-opacity="0.85"/>
<circle cx="433.0" cy="927.5" r="2.6" fill="#8dce94" fill-opacity="0.85"/>
<circle cx="426.9" cy="932.4" r="2.6" fill="#8fcf96" fill-opacity="0.85"/>
<circle cx="435.1" cy="936.3" r="2.6" fill="#91d097" fill-opacity="0.85"/>
<circle cx="471.6" cy="923.7" r="2.6" fill="#8bce92" fill-opacity="0.85"/>
<circle cx="446.7" cy="934.2" r="2.6" fill="#90cf96" fill-opacity="0.85"/>
<circle cx="445.6" cy="941.2" r="2.6" fill="#93d199" fill-opacity="0.85"/>
<circle cx="443.9" cy="943.6" r="2.6" fill="#94d19a" fill-opacity="0.85"/>
<circle cx="442.7" cy="948.9" r="2.6" fill="#96d29c" fill-opacity="0.85"/>
<circle cx="447.9" cy="946.4" r="2.6" fill="#95d29b" fill-opacity="0.85"/>
<circle cx="450.9" cy="947.1" r="2.6" fill="#95d29c" fill-opacity="0.85"/>
<circle cx="453.7" cy="950.6" r="2.6" fill="#97d39d" fill-opacity="0.85"/>
<circle cx="456.2" cy="949.9" r="2.6" fill="#97d29d" fill-opacity="0.85"/>
<circle cx="478.2" cy="927.2" r="2.6" fill="#8dce94" fill-opacity="0.85"/>
<circle cx="484.7" cy="926.6" r="2.6" fill="#8dce93" fill-opacity="0.85"/>
<circle cx="478.6" cy="948.9" r="2.6" fill="#96d29c" fill-opacity="0.85"/>
<circle cx="483.8" cy="948.2" r="2.6" fill="#96d29c" fill-opacity="0.85"/>
<circle cx="501.0" cy="927.2" r="2.6" fill="#8dce94" fill-opacity="0.85"/>
<circle cx="508.4" cy="920.9" r="2.6" fill="#8acd91" fill-opacity="0.85"/>
<circle cx="511.0" cy="930.7" r="2.6" fill="#8ecf95" fill-opacity="0.85"/>
<circle cx="517.1" cy="934.9" r="2.6" fill="#90d097" fill-opacity="0.85"/>
<circle cx="518.5" cy="936.3" r="2.6" fill="#91d097" fill-opacity="0.85"/>
<circle cx="494.3" cy="950.3" r="2.6" fill="#97d29d" fill-opacity="0.85"/>
<circle cx="490.5" cy="957.0" r="2.6" fill="#9ad4a0" fill-opacity="0.85"/>
<circle cx="492.2" cy="959.1" r="2.6" fill="#9bd4a1" fill-opacity="0.85"/>
<circle cx="518.0" cy="957.7" r="2.6" fill="#9ad4a0" fill-opacity="0.85"/>
<circle cx="518.0" cy="965.2" r="2.6" fill="#9dd5a3" fill-opacity="0.85"/>
<circle cx="479.5" cy="972.2" r="2.6" fill="#a0d6a6" fill-opacity="0.85"/>
<circle cx="484.2" cy="976.2" r="2.6" fill="#a2d7a8" fill-opacity="0.85"/>
<circle cx="495.7" cy="973.9" r="2.6" fill="#a1d7a7" fill-opacity="0.85"/>
<circle cx="511.0" cy="980.4" r="2.6" fill="#a4d8a9" fill-opacity="0.85"/>
<circle cx="520.3" cy="980.4" r="2.6" fill="#a4d8a9" fill-opacity="0.85"/>
<circle cx="573.9" cy="928.1" r="2.6" fill="#8dce94" fill-opacity="0.85"/>
<circle cx="586.5" cy="933.3" r="2.6" fill="#8fcf96" fill-opacity="0.85"/>
<circle cx="537.8" cy="959.3" r="2.6" fill="#9bd4a1" fill-opacity="0.85"/>
<circle cx="526.6" cy="961.6" r="2.6" fill="#9cd5a2" fill-opacity="0.85"/>
<circle cx="528.5" cy="963.2" r="2.6" fill="#9cd5a2" fill-opacity="0.85"/>
<circle cx="545.7" cy="966.2" r="2.6" fill="#9ed5a3" fill-opacity="0.85"/>
<circle cx="532.5" cy="978.0" r="2.6" fill="#a3d8a8" fill-opacity="0.85"/>
<circle cx="544.3" cy="976.6" r="2.6" fill="#a2d7a8" fill-opacity="0.85"/>
<circle cx="543.1" cy="979.4" r="2.6" fill="#a3d8a9" fill-opacity="0.85"/>
<circle cx="529.9" cy="983.9" r="2.6" fill="#a5d9ab" fill-opacity="0.85"/>
<circle cx="574.7" cy="985.3" r="2.6" fill="#a6d9ab" fill-opacity="0.85"/>
<circle cx="575.3" cy="988.8" r="2.6" fill="#a7daad" fill-opacity="0.85"/>
<circle cx="577.8" cy="996.3" r="2.6" fill="#abdbb0" fill-opacity="0.85"/>
<circle cx="467.2" cy="817.4" r="2.6" fill="#3a9a5a" fill-opacity="0.88"/>
<circle cx="480.7" cy="821.9" r="2.6" fill="#3a9a5a" fill-opacity="0.88"/>
<circle cx="492.6" cy="815.6" r="2.6" fill="#3a9a5a" fill-opacity="0.88"/>
<circle cx="464.9" cy="822.6" r="2.6" fill="#3a9a5a" fill-opacity="0.88"/>
<circle cx="466.3" cy="827.2" r="2.6" fill="#3a9a5a" fill-opacity="0.88"/>
<circle cx="465.4" cy="833.7" r="2.6" fill="#3a9a5a" fill-opacity="0.88"/>
<circle cx="483.0" cy="828.4" r="2.6" fill="#3a9a5a" fill-opacity="0.88"/>
<circle cx="479.5" cy="838.9" r="2.6" fill="#3a9a5a" fill-opacity="0.88"/>
<circle cx="432.2" cy="831.9" r="2.6" fill="#3a9a5a" fill-opacity="0.88"/>
<circle cx="425.7" cy="839.4" r="2.6" fill="#3a9a5a" fill-opacity="0.88"/>
<circle cx="431.6" cy="838.0" r="2.6" fill="#3a9a5a" fill-opacity="0.88"/>
<circle cx="445.3" cy="848.5" r="2.6" fill="#3a9a5a" fill-opacity="0.88"/>
<circle cx="418.1" cy="852.9" r="2.6" fill="#3a9a5a" fill-opacity="0.88"/>
<circle cx="479.5" cy="852.9" r="2.6" fill="#3a9a5a" fill-opacity="0.88"/>
<circle cx="504.0" cy="849.9" r="2.6" fill="#3a9a5a" fill-opacity="0.88"/>
<circle cx="511.0" cy="842.9" r="2.6" fill="#3a9a5a" fill-opacity="0.88"/>
<circle cx="515.7" cy="842.9" r="2.6" fill="#3a9a5a" fill-opacity="0.88"/>
<circle cx="523.8" cy="831.9" r="2.6" fill="#3a9a5a" fill-opacity="0.88"/>
<circle cx="439.2" cy="857.7" r="2.6" fill="#3a9a5a" fill-opacity="0.88"/>
<circle cx="444.4" cy="860.5" r="2.6" fill="#3a9a5a" fill-opacity="0.88"/>
<circle cx="484.2" cy="860.5" r="2.6" fill="#3a9a5a" fill-opacity="0.88"/>
<circle cx="429.9" cy="864.0" r="2.6" fill="#3a9a5a" fill-opacity="0.88"/>
<circle cx="432.2" cy="868.7" r="2.6" fill="#3a9a5a" fill-opacity="0.88"/>
<circle cx="500.5" cy="866.4" r="2.6" fill="#3a9a5a" fill-opacity="0.88"/>
<circle cx="488.7" cy="873.1" r="2.6" fill="#3a9a5a" fill-opacity="0.88"/>
<circle cx="476.8" cy="879.7" r="2.6" fill="#3a9a5a" fill-opacity="0.88"/>
<circle cx="442.7" cy="879.2" r="2.6" fill="#3a9a5a" fill-opacity="0.88"/>
<circle cx="440.9" cy="882.2" r="2.6" fill="#3a9a5a" fill-opacity="0.88"/>
<circle cx="448.8" cy="881.5" r="2.6" fill="#3a9a5a" fill-opacity="0.88"/>
<circle cx="518.0" cy="878.7" r="2.6" fill="#3a9a5a" fill-opacity="0.88"/>
<circle cx="522.0" cy="881.0" r="2.6" fill="#3a9a5a" fill-opacity="0.88"/>
<circle cx="438.3" cy="890.2" r="2.6" fill="#3a9a5a" fill-opacity="0.88"/>
<circle cx="438.3" cy="892.7" r="2.6" fill="#3a9a5a" fill-opacity="0.88"/>
<circle cx="500.0" cy="887.1" r="2.6" fill="#3a9a5a" fill-opacity="0.88"/>
<circle cx="466.0" cy="899.7" r="2.6" fill="#3a9a5a" fill-opacity="0.88"/>
<circle cx="477.2" cy="902.9" r="2.6" fill="#3a9a5a" fill-opacity="0.88"/>
<circle cx="498.7" cy="903.7" r="2.6" fill="#3a9a5a" fill-opacity="0.88"/>
<circle cx="437.4" cy="916.5" r="2.6" fill="#3a9a5a" fill-opacity="0.88"/>
<circle cx="535.8" cy="836.0" r="2.6" fill="#3a9a5a" fill-opacity="0.88"/>
<circle cx="539.8" cy="832.7" r="2.6" fill="#3a9a5a" fill-opacity="0.88"/>
<circle cx="548.6" cy="830.1" r="2.6" fill="#3a9a5a" fill-opacity="0.88"/>
<circle cx="537.2" cy="844.5" r="2.6" fill="#3a9a5a" fill-opacity="0.88"/>
<circle cx="557.5" cy="838.6" r="2.6" fill="#3a9a5a" fill-opacity="0.88"/>
<circle cx="528.5" cy="887.3" r="2.6" fill="#3a9a5a" fill-opacity="0.88"/>
<circle cx="562.4" cy="894.4" r="2.6" fill="#3a9a5a" fill-opacity="0.88"/>
<circle cx="610.1" cy="892.4" r="2.6" fill="#3a9a5a" fill-opacity="0.88"/>
<circle cx="610.7" cy="894.7" r="2.6" fill="#3a9a5a" fill-opacity="0.88"/>
<circle cx="527.0" cy="903.6" r="2.6" fill="#3a9a5a" fill-opacity="0.88"/>
<circle cx="441.4" cy="919.6" r="2.6" fill="#3a9a5a" fill-opacity="0.88"/>
<circle cx="457.9" cy="917.9" r="2.6" fill="#3a9a5a" fill-opacity="0.88"/>
<circle cx="432.7" cy="922.6" r="2.6" fill="#3b9b5b" fill-opacity="0.88"/>
<circle cx="432.7" cy="931.4" r="2.6" fill="#429e60" fill-opacity="0.88"/>
<circle cx="466.3" cy="919.6" r="2.6" fill="#3a9a5a" fill-opacity="0.88"/>
<circle cx="459.7" cy="954.7" r="2.6" fill="#53a76f" fill-opacity="0.88"/>
<circle cx="463.7" cy="939.4" r="2.6" fill="#48a165" fill-opacity="0.88"/>
<circle cx="471.9" cy="948.9" r="2.6" fill="#4ea46b" fill-opacity="0.88"/>
<circle cx="471.6" cy="964.7" r="2.6" fill="#5aaa75" fill-opacity="0.88"/>
<circle cx="481.2" cy="932.4" r="2.6" fill="#439e61" fill-opacity="0.88"/>
<circle cx="490.5" cy="930.7" r="2.6" fill="#419e60" fill-opacity="0.88"/>
<circle cx="498.2" cy="936.6" r="2.6" fill="#46a064" fill-opacity="0.88"/>
<circle cx="496.5" cy="944.7" r="2.6" fill="#4ba369" fill-opacity="0.88"/>
<circle cx="492.9" cy="955.9" r="2.6" fill="#54a76f" fill-opacity="0.88"/>
<circle cx="524.5" cy="945.9" r="2.6" fill="#4ca369" fill-opacity="0.88"/>
<circle cx="537.2" cy="920.8" r="2.6" fill="#3a9a5a" fill-opacity="0.88"/>
<circle cx="592.4" cy="927.3" r="2.6" fill="#3f9c5e" fill-opacity="0.88"/>
<circle cx="601.9" cy="935.2" r="2.6" fill="#459f63" fill-opacity="0.88"/>
<circle cx="608.8" cy="937.2" r="2.6" fill="#46a064" fill-opacity="0.88"/>
<circle cx="528.0" cy="934.6" r="2.6" fill="#449f62" fill-opacity="0.88"/>
<circle cx="526.0" cy="945.5" r="2.6" fill="#4ca369" fill-opacity="0.88"/>
<circle cx="532.5" cy="947.1" r="2.6" fill="#4da46a" fill-opacity="0.88"/>
<circle cx="560.1" cy="945.9" r="2.6" fill="#4ca369" fill-opacity="0.88"/>
<circle cx="497.5" cy="818.4" r="2.6" fill="#1a7a3c" fill-opacity="0.9"/>
<circle cx="497.0" cy="830.1" r="2.6" fill="#1a7a3c" fill-opacity="0.9"/>
<circle cx="422.5" cy="838.0" r="2.6" fill="#1a7a3c" fill-opacity="0.9"/>
<circle cx="459.3" cy="847.7" r="2.6" fill="#1a7a3c" fill-opacity="0.9"/>
<circle cx="471.2" cy="849.4" r="2.6" fill="#1a7a3c" fill-opacity="0.9"/>
<circle cx="487.0" cy="861.7" r="2.6" fill="#1a7a3c" fill-opacity="0.9"/>
<circle cx="435.7" cy="873.9" r="2.6" fill="#1a7a3c" fill-opacity="0.9"/>
<circle cx="512.2" cy="865.7" r="2.6" fill="#1a7a3c" fill-opacity="0.9"/>
<circle cx="524.5" cy="867.5" r="2.6" fill="#1a7a3c" fill-opacity="0.9"/>
<circle cx="496.5" cy="876.6" r="2.6" fill="#1a7a3c" fill-opacity="0.9"/>
<circle cx="480.0" cy="882.2" r="2.6" fill="#1a7a3c" fill-opacity="0.9"/>
<circle cx="450.9" cy="886.2" r="2.6" fill="#1a7a3c" fill-opacity="0.9"/>
<circle cx="511.0" cy="881.5" r="2.6" fill="#1a7a3c" fill-opacity="0.9"/>
<circle cx="444.9" cy="893.7" r="2.6" fill="#1a7a3c" fill-opacity="0.9"/>
<circle cx="492.2" cy="889.2" r="2.6" fill="#1a7a3c" fill-opacity="0.9"/>
<circle cx="436.2" cy="904.6" r="2.6" fill="#1a7a3c" fill-opacity="0.9"/>
<circle cx="447.0" cy="902.5" r="2.6" fill="#1a7a3c" fill-opacity="0.9"/>
<circle cx="502.8" cy="906.0" r="2.6" fill="#1a7a3c" fill-opacity="0.9"/>
<circle cx="504.5" cy="909.9" r="2.6" fill="#1a7a3c" fill-opacity="0.9"/>
<circle cx="507.5" cy="911.3" r="2.6" fill="#1a7a3c" fill-opacity="0.9"/>
<circle cx="493.5" cy="909.9" r="2.6" fill="#1a7a3c" fill-opacity="0.9"/>
<circle cx="471.6" cy="909.0" r="2.6" fill="#1a7a3c" fill-opacity="0.9"/>
<circle cx="468.9" cy="911.3" r="2.6" fill="#1a7a3c" fill-opacity="0.9"/>
<circle cx="448.4" cy="914.8" r="2.6" fill="#1a7a3c" fill-opacity="0.9"/>
<circle cx="451.4" cy="915.1" r="2.6" fill="#1a7a3c" fill-opacity="0.9"/>
<circle cx="454.9" cy="913.4" r="2.6" fill="#1a7a3c" fill-opacity="0.9"/>
<circle cx="554.6" cy="838.6" r="2.6" fill="#1a7a3c" fill-opacity="0.9"/>
<circle cx="542.7" cy="889.8" r="2.6" fill="#1a7a3c" fill-opacity="0.9"/>
<circle cx="569.9" cy="881.9" r="2.6" fill="#1a7a3c" fill-opacity="0.9"/>
<circle cx="570.3" cy="891.2" r="2.6" fill="#1a7a3c" fill-opacity="0.9"/>
<circle cx="568.0" cy="901.1" r="2.6" fill="#1a7a3c" fill-opacity="0.9"/>
<circle cx="570.7" cy="901.1" r="2.6" fill="#1a7a3c" fill-opacity="0.9"/>
<circle cx="577.8" cy="896.7" r="2.6" fill="#1a7a3c" fill-opacity="0.9"/>
<circle cx="581.8" cy="893.2" r="2.6" fill="#1a7a3c" fill-opacity="0.9"/>
<circle cx="591.0" cy="877.0" r="2.6" fill="#1a7a3c" fill-opacity="0.9"/>
<circle cx="591.0" cy="883.9" r="2.6" fill="#1a7a3c" fill-opacity="0.9"/>
<circle cx="583.7" cy="915.4" r="2.6" fill="#1a7a3c" fill-opacity="0.9"/>
<circle cx="463.7" cy="924.9" r="2.6" fill="#1e7c3f" fill-opacity="0.9"/>
<circle cx="452.7" cy="928.9" r="2.6" fill="#217e42" fill-opacity="0.9"/>
<circle cx="452.0" cy="931.0" r="2.6" fill="#237f43" fill-opacity="0.9"/>
<circle cx="453.2" cy="937.2" r="2.6" fill="#288248" fill-opacity="0.9"/>
<circle cx="450.9" cy="941.2" r="2.6" fill="#2b844b" fill-opacity="0.9"/>
<circle cx="473.0" cy="940.1" r="2.6" fill="#2a844a" fill-opacity="0.9"/>
<circle cx="488.7" cy="938.0" r="2.6" fill="#298248" fill-opacity="0.9"/>
<circle cx="502.8" cy="923.7" r="2.6" fill="#1d7b3e" fill-opacity="0.9"/>
<circle cx="505.2" cy="928.4" r="2.6" fill="#207e42" fill-opacity="0.9"/>
<circle cx="530.9" cy="920.2" r="2.6" fill="#1a7a3c" fill-opacity="0.9"/>
<circle cx="542.3" cy="928.7" r="2.6" fill="#217e42" fill-opacity="0.9"/>
<circle cx="568.8" cy="924.2" r="2.6" fill="#1d7c3f" fill-opacity="0.9"/>
<circle cx="585.7" cy="927.3" r="2.6" fill="#207d41" fill-opacity="0.9"/>
<circle cx="586.5" cy="929.7" r="2.6" fill="#227e42" fill-opacity="0.9"/>
<circle cx="611.7" cy="922.2" r="2.6" fill="#1b7b3d" fill-opacity="0.9"/>
<circle cx="531.3" cy="940.0" r="2.6" fill="#2a834a" fill-opacity="0.9"/>
<circle cx="559.5" cy="952.4" r="2.6" fill="#358a53" fill-opacity="0.9"/>
<circle cx="562.8" cy="953.8" r="2.6" fill="#368a54" fill-opacity="0.9"/>
<circle cx="473.7" cy="818.8" r="2.6" fill="#055222" fill-opacity="0.92"/>
<circle cx="499.6" cy="858.2" r="2.6" fill="#055222" fill-opacity="0.92"/>
<circle cx="488.7" cy="869.2" r="2.6" fill="#055222" fill-opacity="0.92"/>
<circle cx="502.8" cy="867.5" r="2.6" fill="#055222" fill-opacity="0.92"/>
<circle cx="495.2" cy="875.7" r="2.6" fill="#055222" fill-opacity="0.92"/>
<circle cx="505.2" cy="873.9" r="2.6" fill="#055222" fill-opacity="0.92"/>
<circle cx="480.7" cy="876.6" r="2.6" fill="#055222" fill-opacity="0.92"/>
<circle cx="457.6" cy="885.7" r="2.6" fill="#055222" fill-opacity="0.92"/>
<circle cx="459.7" cy="888.5" r="2.6" fill="#055222" fill-opacity="0.92"/>
<circle cx="505.2" cy="882.2" r="2.6" fill="#055222" fill-opacity="0.92"/>
<circle cx="456.2" cy="894.4" r="2.6" fill="#055222" fill-opacity="0.92"/>
<circle cx="460.7" cy="895.8" r="2.6" fill="#055222" fill-opacity="0.92"/>
<circle cx="475.1" cy="916.0" r="2.6" fill="#055222" fill-opacity="0.92"/>
<circle cx="538.4" cy="858.3" r="2.6" fill="#055222" fill-opacity="0.92"/>
<circle cx="540.8" cy="860.3" r="2.6" fill="#055222" fill-opacity="0.92"/>
<circle cx="530.9" cy="869.1" r="2.6" fill="#055222" fill-opacity="0.92"/>
<circle cx="536.8" cy="875.0" r="2.6" fill="#055222" fill-opacity="0.92"/>
<circle cx="547.1" cy="865.2" r="2.6" fill="#055222" fill-opacity="0.92"/>
<circle cx="550.2" cy="866.8" r="2.6" fill="#055222" fill-opacity="0.92"/>
<circle cx="552.6" cy="868.7" r="2.6" fill="#055222" fill-opacity="0.92"/>
<circle cx="556.1" cy="868.1" r="2.6" fill="#055222" fill-opacity="0.92"/>
<circle cx="517.5" cy="925.4" r="2.6" fill="#095526" fill-opacity="0.92"/>
<text class="tt" x="517.0" y="765.7" textLength="195.4" lengthAdjust="spacingAndGlyphs">Wasserstein barycenter for cluster 8</text>
<polygon points="394.0,1381.4 597.5,1361.8 600.2,1166.5 389.1,1181.7" fill="#f2f2f2"/>
<polygon points="597.5,1361.8 664.4,1440.4 670.0,1227.4 600.2,1166.5" fill="#f8f8f8"/>
<polygon points="394.0,1381.4 597.5,1361.8 664.4,1440.4 441.2,1464.4" fill="#f5f5f5"/>
<path d="M656.0 1441.3L589.8 1362.5L592.2 1167.1M615.7 1445.7L553.0 1366.1L554.0 1169.8M574.9 1450.1L515.7 1369.7L515.4 1172.6M533.7 1454.5L478.2 1373.3L476.5 1175.4M492.0 1459.0L440.2 1377.0L437.1 1178.2M450.0 1463.5L401.9 1380.7L397.4 1181.1M395.7 1384.4L599.9 1364.6L602.6 1168.7M403.7 1398.6L611.3 1378.0L614.6 1179.0M412.1 1413.2L623.2 1392.0L626.9 1189.8M420.8 1428.5L635.5 1406.4L639.7 1201.0M429.8 1444.3L648.2 1421.4L653.1 1212.6M439.1 1460.7L661.4 1436.9L666.9 1224.6M393.7 1370.2L597.7 1350.8L664.7 1428.5M392.8 1334.9L598.1 1316.2L665.7 1390.9M392.0 1299.0L598.6 1281.2L666.7 1352.7M391.1 1262.7L599.1 1245.7L667.8 1314.0M390.2 1225.9L599.6 1209.7L668.8 1274.7M389.3 1188.6L600.1 1173.3L669.8 1234.8" fill="none" stroke="#c8c8c8" stroke-width="1.0"/>
<path d="M389.1 1181.7L394.0 1381.4L441.2 1464.4L664.4 1440.4" fill="none" stroke="#505050" stroke-width="1.0"/>
<path d="M389.8 1370.6L395.9 1370.0M389.0 1335.2L395.0 1334.7M388.1 1299.4L394.2 1298.8M387.2 1263.0L393.3 1262.5M386.3 1226.2L392.4 1225.7M385.4 1188.9L391.5 1188.4M391.2 1384.8L397.2 1384.3M399.2 1399.0L405.2 1398.4M407.6 1413.7L413.6 1413.1M416.3 1428.9L422.2 1428.3M425.3 1444.7L431.2 1444.1M434.6 1461.2L440.6 1460.5M658.6 1444.4L655.1 1440.2M618.2 1448.8L614.7 1444.5M577.3 1453.3L574.0 1448.9M535.9 1457.8L532.8 1453.3M494.2 1462.3L491.2 1457.7M452.0 1466.9L449.2 1462.2" fill="none" stroke="#3a3a3a" stroke-width="1.0"/>
<g class="tl"><text x="381.0" y="1375.4" textLength="14.0" lengthAdjust="spacingAndGlyphs">0.0</text><text x="380.1" y="1340.0" textLength="14.0" lengthAdjust="spacingAndGlyphs">0.2</text><text x="379.3" y="1304.2" textLength="14.0" lengthAdjust="spacingAndGlyphs">0.4</text><text x="378.4" y="1267.8" textLength="14.0" lengthAdjust="spacingAndGlyphs">0.6</text><text x="377.5" y="1231.0" textLength="14.0" lengthAdjust="spacingAndGlyphs">0.8</text><text x="376.6" y="1193.7" textLength="14.0" lengthAdjust="spacingAndGlyphs">1.0</text><text x="385.2" y="1403.0" textLength="14.0" lengthAdjust="spacingAndGlyphs">0.0</text><text x="393.2" y="1417.2" textLength="14.0" lengthAdjust="spacingAndGlyphs">0.2</text><text x="401.6" y="1431.9" textLength="14.0" lengthAdjust="spacingAndGlyphs">0.4</text><text x="410.3" y="1447.1" textLength="14.0" lengthAdjust="spacingAndGlyphs">0.6</text><text x="419.3" y="1462.9" textLength="14.0" lengthAdjust="spacingAndGlyphs">0.8</text><text x="428.6" y="1479.3" textLength="14.0" lengthAdjust="spacingAndGlyphs">1.0</text><text x="658.8" y="1463.3" textLength="14.0" lengthAdjust="spacingAndGlyphs">0.0</text><text x="618.4" y="1467.6" textLength="14.0" lengthAdjust="spacingAndGlyphs">0.2</text><text x="577.6" y="1472.0" textLength="14.0" lengthAdjust="spacingAndGlyphs">0.4</text><text x="536.4" y="1476.4" textLength="14.0" lengthAdjust="spacingAndGlyphs">0.6</text><text x="494.8" y="1480.9" textLength="14.0" lengthAdjust="spacingAndGlyphs">0.8</text><text x="452.7" y="1485.4" textLength="14.0" lengthAdjust="spacingAndGlyphs">1.0</text></g>
<text class="al" transform="translate(367.1 1279.5) rotate(-90)" textLength="20.2" lengthAdjust="spacingAndGlyphs">time</text>
<text class="al" transform="translate(394.8 1444.2) rotate(60)" dy="3.4" textLength="36.1" lengthAdjust="spacingAndGlyphs">mobility</text>
<text class="al" transform="translate(561.2 1484.5) rotate(-6)" dy="2.5" textLength="46.6" lengthAdjust="spacingAndGlyphs">new cases</text>
<circle cx="593.0" cy="1370.4" r="2.6" fill="#e5f5e2" fill-opacity="0.8"/>
<circle cx="600.9" cy="1379.7" r="2.6" fill="#e6f5e3" fill-opacity="0.8"/>
<circle cx="606.2" cy="1376.3" r="2.6" fill="#e6f5e3" fill-opacity="0.8"/>
<circle cx="617.2" cy="1388.1" r="2.6" fill="#e7f5e4" fill-opacity="0.8"/>
<circle cx="621.6" cy="1394.5" r="2.6" fill="#e8f6e5" fill-opacity="0.8"/>
<circle cx="625.9" cy="1388.1" r="2.6" fill="#e7f5e4" fill-opacity="0.8"/>
<circle cx="631.4" cy="1407.3" r="2.6" fill="#e8f6e6" fill-opacity="0.8"/>
<circle cx="643.2" cy="1421.7" r="2.6" fill="#e8f6e6" fill-opacity="0.8"/>
<circle cx="461.4" cy="1325.9" r="2.6" fill="#c2e6be" fill-opacity="0.82"/>
<circle cx="445.6" cy="1324.2" r="2.6" fill="#c2e5bd" fill-opacity="0.82"/>
<circle cx="485.9" cy="1308.9" r="2.6" fill="#bee4b9" fill-opacity="0.82"/>
<circle cx="517.1" cy="1318.9" r="2.6" fill="#c0e5bc" fill-opacity="0.82"/>
<circle cx="456.7" cy="1331.7" r="2.6" fill="#c4e6bf" fill-opacity="0.82"/>
<circle cx="468.4" cy="1331.2" r="2.6" fill="#c3e6bf" fill-opacity="0.82"/>
<circle cx="483.5" cy="1331.2" r="2.6" fill="#c3e6bf" fill-opacity="0.82"/>
<circle cx="493.5" cy="1335.9" r="2.6" fill="#c5e7c0" fill-opacity="0.82"/>
<circle cx="500.0" cy="1338.2" r="2.6" fill="#c5e7c1" fill-opacity="0.82"/>
<circle cx="510.1" cy="1326.8" r="2.6" fill="#c2e6be" fill-opacity="0.82"/>
<circle cx="514.5" cy="1326.8" r="2.6" fill="#c2e6be" fill-opacity="0.82"/>
<circle cx="518.0" cy="1326.4" r="2.6" fill="#c2e6be" fill-opacity="0.82"/>
<circle cx="508.7" cy="1342.2" r="2.6" fill="#c6e7c2" fill-opacity="0.82"/>
<circle cx="518.0" cy="1359.7" r="2.6" fill="#cae9c7" fill-opacity="0.82"/>
<circle cx="534.5" cy="1317.6" r="2.6" fill="#c0e5bb" fill-opacity="0.82"/>
<circle cx="576.2" cy="1313.6" r="2.6" fill="#bfe4ba" fill-opacity="0.82"/>
<circle cx="532.5" cy="1331.4" r="2.6" fill="#c3e6bf" fill-opacity="0.82"/>
<circle cx="544.7" cy="1330.4" r="2.6" fill="#c3e6bf" fill-opacity="0.82"/>
<circle cx="549.0" cy="1331.4" r="2.6" fill="#c3e6bf" fill-opacity="0.82"/>
<circle cx="573.9" cy="1330.4" r="2.6" fill="#c3e6bf" fill-opacity="0.82"/>
<circle cx="577.2" cy="1333.4" r="2.6" fill="#c4e6c0" fill-opacity="0.82"/>
<circle cx="562.1" cy="1334.3" r="2.6" fill="#c4e6c0" fill-opacity="0.82"/>
<circle cx="545.1" cy="1339.7" r="2.6" fill="#c5e7c1" fill-opacity="0.82"/>
<circle cx="555.5" cy="1338.3" r="2.6" fill="#c5e7c1" fill-opacity="0.82"/>
<circle cx="556.1" cy="1344.2" r="2.6" fill="#c7e7c2" fill-opacity="0.82"/>
<circle cx="563.4" cy="1343.2" r="2.6" fill="#c6e7c2" fill-opacity="0.82"/>
<circle cx="573.9" cy="1342.2" r="2.6" fill="#c6e7c2" fill-opacity="0.82"/>
<circle cx="558.1" cy="1357.4" r="2.6" fill="#cae9c6" fill-opacity="0.82"/>
<circle cx="560.9" cy="1351.5" r="2.6" fill="#c8e8c4" fill-opacity="0.82"/>
<circle cx="578.6" cy="1350.7" r="2.6" fill="#c8e8c4" fill-opacity="0.82"/>
<circle cx="584.5" cy="1359.4" r="2.6" fill="#cae9c6" fill-opacity="0.82"/>
<circle cx="593.6" cy="1358.0" r="2.6" fill="#cae9c6" fill-opacity="0.82"/>
<circle cx="583.1" cy="1365.9" r="2.6" fill="#cceac8" fill-opacity="0.82"/>
<circle cx="586.1" cy="1369.8" r="2.6" fill="#cdeac9" fill-opacity="0.82"/>
<circle cx="581.8" cy="1376.3" r="2.6" fill="#cfebcb" fill-opacity="0.82"/>
<circle cx="589.1" cy="1385.0" r="2.6" fill="#d1eccd" fill-opacity="0.82"/>
<circle cx="495.7" cy="1224.7" r="2.6" fill="#8acd91" fill-opacity="0.85"/>
<circle cx="483.0" cy="1229.4" r="2.6" fill="#8acd91" fill-opacity="0.85"/>
<circle cx="499.6" cy="1239.9" r="2.6" fill="#8acd91" fill-opacity="0.85"/>
<circle cx="507.0" cy="1239.4" r="2.6" fill="#8acd91" fill-opacity="0.85"/>
<circle cx="459.7" cy="1249.9" r="2.6" fill="#8acd91" fill-opacity="0.85"/>
<circle cx="464.9" cy="1251.7" r="2.6" fill="#8acd91" fill-opacity="0.85"/>
<circle cx="516.8" cy="1253.4" r="2.6" fill="#8acd91" fill-opacity="0.85"/>
<circle cx="489.1" cy="1252.2" r="2.6" fill="#8acd91" fill-opacity="0.85"/>
<circle cx="442.1" cy="1257.4" r="2.6" fill="#8acd91" fill-opacity="0.85"/>
<circle cx="454.9" cy="1256.6" r="2.6" fill="#8acd91" fill-opacity="0.85"/>
<circle cx="469.8" cy="1272.3" r="2.6" fill="#8acd91" fill-opacity="0.85"/>
<circle cx="457.9" cy="1270.6" r="2.6" fill="#8acd91" fill-opacity="0.85"/>
<circle cx="482.1" cy="1271.5" r="2.6" fill="#8acd91" fill-opacity="0.85"/>
<circle cx="475.1" cy="1275.0" r="2.6" fill="#8acd91" fill-opacity="0.85"/>
<circle cx="510.1" cy="1266.7" r="2.6" fill="#8acd91" fill-opacity="0.85"/>
<circle cx="512.7" cy="1277.2" r="2.6" fill="#8acd91" fill-opacity="0.85"/>
<circle cx="423.4" cy="1278.5" r="2.6" fill="#8acd91" fill-opacity="0.85"/>
<circle cx="427.4" cy="1281.5" r="2.6" fill="#8acd91" fill-opacity="0.85"/>
<circle cx="433.0" cy="1277.2" r="2.6" fill="#8acd91" fill-opacity="0.85"/>
<circle cx="426.4" cy="1283.7" r="2.6" fill="#8acd91" fill-opacity="0.85"/>
<circle cx="425.7" cy="1292.5" r="2.6" fill="#8acd91" fill-opacity="0.85"/>
<circle cx="470.2" cy="1291.3" r="2.6" fill="#8acd91" fill-opacity="0.85"/>
<circle cx="507.5" cy="1290.2" r="2.6" fill="#8acd91" fill-opacity="0.85"/>
<circle cx="515.7" cy="1287.2" r="2.6" fill="#8acd91" fill-opacity="0.85"/>
<circle cx="544.3" cy="1233.4" r="2.6" fill="#8acd91" fill-opacity="0.85"/>
<circle cx="550.2" cy="1236.3" r="2.6" fill="#8acd91" fill-opacity="0.85"/>
<circle cx="543.7" cy="1246.8" r="2.6" fill="#8acd91" fill-opacity="0.85"/>
<circle cx="546.7" cy="1247.2" r="2.6" fill="#8acd91" fill-opacity="0.85"/>
<circle cx="533.9" cy="1254.6" r="2.6" fill="#8acd91" fill-opacity="0.85"/>
<circle cx="543.7" cy="1258.0" r="2.6" fill="#8acd91" fill-opacity="0.85"/>
<circle cx="554.2" cy="1261.3" r="2.6" fill="#8acd91" fill-opacity="0.85"/>
<circle cx="547.1" cy="1265.3" r="2.6" fill="#8acd91" fill-opacity="0.85"/>
<circle cx="534.5" cy="1267.8" r="2.6" fill="#8acd91" fill-opacity="0.85"/>
<circle cx="551.0" cy="1271.2" r="2.6" fill="#8acd91" fill-opacity="0.85"/>
<circle cx="552.2" cy="1276.7" r="2.6" fill="#8acd91" fill-opacity="0.85"/>
<circle cx="564.8" cy="1265.9" r="2.6" fill="#8acd91" fill-opacity="0.85"/>
<circle cx="526.6" cy="1283.6" r="2.6" fill="#8acd91" fill-opacity="0.85"/>
<circle cx="532.9" cy="1281.1" r="2.6" fill="#8acd91" fill-opacity="0.85"/>
<circle cx="539.8" cy="1281.6" r="2.6" fill="#8acd91" fill-opacity="0.85"/>
<circle cx="537.2" cy="1287.6" r="2.6" fill="#8acd91" fill-opacity="0.85"/>
<circle cx="541.8" cy="1287.0" r="2.6" fill="#8acd91" fill-opacity="0.85"/>
<circle cx="561.5" cy="1291.5" r="2.6" fill="#8acd91" fill-opacity="0.85"/>
<circle cx="552.2" cy="1294.5" r="2.6" fill="#8acd91" fill-opacity="0.85"/>
<circle cx="433.4" cy="1299.1" r="2.6" fill="#8acd91" fill-opacity="0.85"/>
<circle cx="433.4" cy="1304.9" r="2.6" fill="#8cce92" fill-opacity="0.85"/>
<circle cx="424.6" cy="1307.2" r="2.6" fill="#8dce93" fill-opacity="0.85"/>
<circle cx="427.4" cy="1309.6" r="2.6" fill="#8ecf94" fill-opacity="0.85"/>
<circle cx="426.9" cy="1311.9" r="2.6" fill="#8fcf95" fill-opacity="0.85"/>
<circle cx="452.7" cy="1307.2" r="2.6" fill="#8dce93" fill-opacity="0.85"/>
<circle cx="468.4" cy="1303.7" r="2.6" fill="#8bcd92" fill-opacity="0.85"/>
<circle cx="454.9" cy="1322.4" r="2.6" fill="#93d19a" fill-opacity="0.85"/>
<circle cx="480.0" cy="1317.2" r="2.6" fill="#91d097" fill-opacity="0.85"/>
<circle cx="485.9" cy="1316.3" r="2.6" fill="#90d097" fill-opacity="0.85"/>
<circle cx="489.1" cy="1297.9" r="2.6" fill="#8acd91" fill-opacity="0.85"/>
<circle cx="491.2" cy="1310.7" r="2.6" fill="#8ecf95" fill-opacity="0.85"/>
<circle cx="500.0" cy="1301.9" r="2.6" fill="#8acd91" fill-opacity="0.85"/>
<circle cx="518.5" cy="1307.2" r="2.6" fill="#8dce93" fill-opacity="0.85"/>
<circle cx="523.3" cy="1315.9" r="2.6" fill="#90d097" fill-opacity="0.85"/>
<circle cx="429.9" cy="1325.9" r="2.6" fill="#95d29b" fill-opacity="0.85"/>
<circle cx="433.9" cy="1330.3" r="2.6" fill="#97d29d" fill-opacity="0.85"/>
<circle cx="452.0" cy="1331.2" r="2.6" fill="#97d39d" fill-opacity="0.85"/>
<circle cx="488.7" cy="1332.4" r="2.6" fill="#97d39e" fill-opacity="0.85"/>
<circle cx="435.1" cy="1337.0" r="2.6" fill="#99d49f" fill-opacity="0.85"/>
<circle cx="436.2" cy="1339.1" r="2.6" fill="#9ad4a0" fill-opacity="0.85"/>
<circle cx="440.0" cy="1342.2" r="2.6" fill="#9cd5a2" fill-opacity="0.85"/>
<circle cx="446.7" cy="1336.4" r="2.6" fill="#99d39f" fill-opacity="0.85"/>
<circle cx="459.7" cy="1339.4" r="2.6" fill="#9ad4a0" fill-opacity="0.85"/>
<circle cx="447.4" cy="1347.5" r="2.6" fill="#9ed6a4" fill-opacity="0.85"/>
<circle cx="455.5" cy="1348.7" r="2.6" fill="#9ed6a4" fill-opacity="0.85"/>
<circle cx="488.7" cy="1343.4" r="2.6" fill="#9cd5a2" fill-opacity="0.85"/>
<circle cx="491.2" cy="1345.7" r="2.6" fill="#9dd5a3" fill-opacity="0.85"/>
<circle cx="506.3" cy="1339.9" r="2.6" fill="#9bd4a1" fill-opacity="0.85"/>
<circle cx="520.3" cy="1345.2" r="2.6" fill="#9dd5a3" fill-opacity="0.85"/>
<circle cx="479.5" cy="1352.7" r="2.6" fill="#a0d6a6" fill-opacity="0.85"/>
<circle cx="518.0" cy="1356.6" r="2.6" fill="#a2d7a7" fill-opacity="0.85"/>
<circle cx="494.0" cy="1365.0" r="2.6" fill="#a5d9ab" fill-opacity="0.85"/>
<circle cx="498.7" cy="1369.7" r="2.6" fill="#a8daad" fill-opacity="0.85"/>
<circle cx="539.8" cy="1304.2" r="2.6" fill="#8bce92" fill-opacity="0.85"/>
<circle cx="543.7" cy="1320.5" r="2.6" fill="#92d199" fill-opacity="0.85"/>
<circle cx="576.6" cy="1305.8" r="2.6" fill="#8cce93" fill-opacity="0.85"/>
<circle cx="578.2" cy="1328.4" r="2.6" fill="#96d29c" fill-opacity="0.85"/>
<circle cx="535.8" cy="1342.8" r="2.6" fill="#9cd5a2" fill-opacity="0.85"/>
<circle cx="537.2" cy="1342.8" r="2.6" fill="#9cd5a2" fill-opacity="0.85"/>
<circle cx="550.2" cy="1348.7" r="2.6" fill="#9ed6a4" fill-opacity="0.85"/>
<circle cx="556.1" cy="1352.7" r="2.6" fill="#a0d6a6" fill-opacity="0.85"/>
<circle cx="439.7" cy="1203.1" r="2.6" fill="#3a9a5a" fill-opacity="0.88"/>
<circle cx="439.7" cy="1208.4" r="2.6" fill="#3a9a5a" fill-opacity="0.88"/>
<circle cx="446.7" cy="1206.1" r="2.6" fill="#3a9a5a" fill-opacity="0.88"/>
<circle cx="454.1" cy="1207.5" r="2.6" fill="#3a9a5a" fill-opacity="0.88"/>
<circle cx="464.6" cy="1214.5" r="2.6" fill="#3a9a5a" fill-opacity="0.88"/>
<circle cx="477.2" cy="1213.1" r="2.6" fill="#3a9a5a" fill-opacity="0.88"/>
<circle cx="480.7" cy="1211.4" r="2.6" fill="#3a9a5a" fill-opacity="0.88"/>
<circle cx="480.0" cy="1216.3" r="2.6" fill="#3a9a5a" fill-opacity="0.88"/>
<circle cx="498.2" cy="1203.7" r="2.6" fill="#3a9a5a" fill-opacity="0.88"/>
<circle cx="508.0" cy="1205.4" r="2.6" fill="#3a9a5a" fill-opacity="0.88"/>
<circle cx="512.2" cy="1201.9" r="2.6" fill="#3a9a5a" fill-opacity="0.88"/>
<circle cx="521.0" cy="1200.9" r="2.6" fill="#3a9a5a" fill-opacity="0.88"/>
<circle cx="521.0" cy="1205.8" r="2.6" fill="#3a9a5a" fill-opacity="0.88"/>
<circle cx="491.2" cy="1217.2" r="2.6" fill="#3a9a5a" fill-opacity="0.88"/>
<circle cx="423.4" cy="1229.9" r="2.6" fill="#3a9a5a" fill-opacity="0.88"/>
<circle cx="422.2" cy="1234.7" r="2.6" fill="#3a9a5a" fill-opacity="0.88"/>
<circle cx="489.4" cy="1235.2" r="2.6" fill="#3a9a5a" fill-opacity="0.88"/>
<circle cx="503.5" cy="1235.2" r="2.6" fill="#3a9a5a" fill-opacity="0.88"/>
<circle cx="515.7" cy="1231.7" r="2.6" fill="#3a9a5a" fill-opacity="0.88"/>
<circle cx="476.8" cy="1238.7" r="2.6" fill="#3a9a5a" fill-opacity="0.88"/>
<circle cx="454.9" cy="1244.0" r="2.6" fill="#3a9a5a" fill-opacity="0.88"/>
<circle cx="478.2" cy="1244.0" r="2.6" fill="#3a9a5a" fill-opacity="0.88"/>
<circle cx="480.7" cy="1244.7" r="2.6" fill="#3a9a5a" fill-opacity="0.88"/>
<circle cx="423.4" cy="1259.2" r="2.6" fill="#3a9a5a" fill-opacity="0.88"/>
<circle cx="499.6" cy="1276.7" r="2.6" fill="#3a9a5a" fill-opacity="0.88"/>
<circle cx="503.5" cy="1274.4" r="2.6" fill="#3a9a5a" fill-opacity="0.88"/>
<circle cx="506.6" cy="1273.7" r="2.6" fill="#3a9a5a" fill-opacity="0.88"/>
<circle cx="452.0" cy="1275.5" r="2.6" fill="#3a9a5a" fill-opacity="0.88"/>
<circle cx="450.9" cy="1278.5" r="2.6" fill="#3a9a5a" fill-opacity="0.88"/>
<circle cx="519.2" cy="1293.7" r="2.6" fill="#3a9a5a" fill-opacity="0.88"/>
<circle cx="527.0" cy="1202.8" r="2.6" fill="#3a9a5a" fill-opacity="0.88"/>
<circle cx="540.8" cy="1210.1" r="2.6" fill="#3a9a5a" fill-opacity="0.88"/>
<circle cx="534.5" cy="1221.1" r="2.6" fill="#3a9a5a" fill-opacity="0.88"/>
<circle cx="541.8" cy="1227.1" r="2.6" fill="#3a9a5a" fill-opacity="0.88"/>
<circle cx="528.5" cy="1237.7" r="2.6" fill="#3a9a5a" fill-opacity="0.88"/>
<circle cx="529.9" cy="1241.6" r="2.6" fill="#3a9a5a" fill-opacity="0.88"/>
<circle cx="554.6" cy="1286.2" r="2.6" fill="#3a9a5a" fill-opacity="0.88"/>
<circle cx="578.6" cy="1284.2" r="2.6" fill="#3a9a5a" fill-opacity="0.88"/>
<circle cx="594.4" cy="1290.5" r="2.6" fill="#3a9a5a" fill-opacity="0.88"/>
<circle cx="543.7" cy="1293.5" r="2.6" fill="#3a9a5a" fill-opacity="0.88"/>
<circle cx="533.3" cy="1296.4" r="2.6" fill="#3a9a5a" fill-opacity="0.88"/>
<circle cx="464.9" cy="1317.7" r="2.6" fill="#46a064" fill-opacity="0.88"/>
<circle cx="502.8" cy="1319.4" r="2.6" fill="#47a165" fill-opacity="0.88"/>
<circle cx="447.9" cy="1330.3" r="2.6" fill="#4fa56c" fill-opacity="0.88"/>
<circle cx="449.7" cy="1331.7" r="2.6" fill="#50a56d" fill-opacity="0.88"/>
<circle cx="472.4" cy="1331.2" r="2.6" fill="#50a56c" fill-opacity="0.88"/>
<circle cx="475.4" cy="1332.0" r="2.6" fill="#50a56d" fill-opacity="0.88"/>
<circle cx="476.5" cy="1335.2" r="2.6" fill="#53a76f" fill-opacity="0.88"/>
<circle cx="486.5" cy="1325.9" r="2.6" fill="#4ca369" fill-opacity="0.88"/>
<circle cx="501.7" cy="1332.9" r="2.6" fill="#51a66d" fill-opacity="0.88"/>
<circle cx="454.9" cy="1338.7" r="2.6" fill="#55a871" fill-opacity="0.88"/>
<circle cx="466.3" cy="1339.9" r="2.6" fill="#56a872" fill-opacity="0.88"/>
<circle cx="497.9" cy="1348.7" r="2.6" fill="#5cac77" fill-opacity="0.88"/>
<circle cx="550.2" cy="1299.9" r="2.6" fill="#3a9a5a" fill-opacity="0.88"/>
<circle cx="554.6" cy="1299.5" r="2.6" fill="#3a9a5a" fill-opacity="0.88"/>
<circle cx="556.9" cy="1299.9" r="2.6" fill="#3a9a5a" fill-opacity="0.88"/>
<circle cx="558.9" cy="1308.7" r="2.6" fill="#3f9d5f" fill-opacity="0.88"/>
<circle cx="546.3" cy="1314.6" r="2.6" fill="#449f62" fill-opacity="0.88"/>
<circle cx="531.9" cy="1321.1" r="2.6" fill="#48a166" fill-opacity="0.88"/>
<circle cx="582.5" cy="1312.1" r="2.6" fill="#429e61" fill-opacity="0.88"/>
<circle cx="599.5" cy="1317.6" r="2.6" fill="#46a064" fill-opacity="0.88"/>
<circle cx="526.0" cy="1315.2" r="2.6" fill="#449f62" fill-opacity="0.88"/>
<circle cx="571.9" cy="1346.2" r="2.6" fill="#5bab75" fill-opacity="0.88"/>
<circle cx="456.2" cy="1213.1" r="2.6" fill="#1a7a3c" fill-opacity="0.9"/>
<circle cx="461.9" cy="1211.4" r="2.6" fill="#1a7a3c" fill-opacity="0.9"/>
<circle cx="424.6" cy="1222.4" r="2.6" fill="#1a7a3c" fill-opacity="0.9"/>
<circle cx="437.9" cy="1221.9" r="2.6" fill="#1a7a3c" fill-opacity="0.9"/>
<circle cx="439.7" cy="1225.0" r="2.6" fill="#1a7a3c" fill-opacity="0.9"/>
<circle cx="446.7" cy="1221.2" r="2.6" fill="#1a7a3c" fill-opacity="0.9"/>
<circle cx="452.7" cy="1231.2" r="2.6" fill="#1a7a3c" fill-opacity="0.9"/>
<circle cx="517.1" cy="1237.7" r="2.6" fill="#1a7a3c" fill-opacity="0.9"/>
<circle cx="463.2" cy="1246.1" r="2.6" fill="#1a7a3c" fill-opacity="0.9"/>
<circle cx="515.0" cy="1245.2" r="2.6" fill="#1a7a3c" fill-opacity="0.9"/>
<circle cx="520.3" cy="1245.7" r="2.6" fill="#1a7a3c" fill-opacity="0.9"/>
<circle cx="435.7" cy="1249.2" r="2.6" fill="#1a7a3c" fill-opacity="0.9"/>
<circle cx="479.5" cy="1258.3" r="2.6" fill="#1a7a3c" fill-opacity="0.9"/>
<circle cx="478.9" cy="1262.7" r="2.6" fill="#1a7a3c" fill-opacity="0.9"/>
<circle cx="492.2" cy="1269.2" r="2.6" fill="#1a7a3c" fill-opacity="0.9"/>
<circle cx="497.5" cy="1266.7" r="2.6" fill="#1a7a3c" fill-opacity="0.9"/>
<circle cx="501.0" cy="1265.7" r="2.6" fill="#1a7a3c" fill-opacity="0.9"/>
<circle cx="485.2" cy="1278.5" r="2.6" fill="#1a7a3c" fill-opacity="0.9"/>
<circle cx="494.0" cy="1277.2" r="2.6" fill="#1a7a3c" fill-opacity="0.9"/>
<circle cx="494.3" cy="1279.7" r="2.6" fill="#1a7a3c" fill-opacity="0.9"/>
<circle cx="445.3" cy="1289.9" r="2.6" fill="#1a7a3c" fill-opacity="0.9"/>
<circle cx="448.8" cy="1294.8" r="2.6" fill="#1a7a3c" fill-opacity="0.9"/>
<circle cx="455.8" cy="1288.5" r="2.6" fill="#1a7a3c" fill-opacity="0.9"/>
<circle cx="478.2" cy="1288.5" r="2.6" fill="#1a7a3c" fill-opacity="0.9"/>
<circle cx="478.2" cy="1293.7" r="2.6" fill="#1a7a3c" fill-opacity="0.9"/>
<circle cx="499.3" cy="1293.7" r="2.6" fill="#1a7a3c" fill-opacity="0.9"/>
<circle cx="501.0" cy="1295.1" r="2.6" fill="#1a7a3c" fill-opacity="0.9"/>
<circle cx="511.5" cy="1289.5" r="2.6" fill="#1a7a3c" fill-opacity="0.9"/>
<circle cx="534.5" cy="1244.8" r="2.6" fill="#1a7a3c" fill-opacity="0.9"/>
<circle cx="574.7" cy="1232.4" r="2.6" fill="#1a7a3c" fill-opacity="0.9"/>
<circle cx="578.2" cy="1241.2" r="2.6" fill="#1a7a3c" fill-opacity="0.9"/>
<circle cx="576.6" cy="1246.8" r="2.6" fill="#1a7a3c" fill-opacity="0.9"/>
<circle cx="588.5" cy="1250.7" r="2.6" fill="#1a7a3c" fill-opacity="0.9"/>
<circle cx="566.8" cy="1260.6" r="2.6" fill="#1a7a3c" fill-opacity="0.9"/>
<circle cx="586.5" cy="1265.9" r="2.6" fill="#1a7a3c" fill-opacity="0.9"/>
<circle cx="586.1" cy="1269.2" r="2.6" fill="#1a7a3c" fill-opacity="0.9"/>
<circle cx="568.8" cy="1292.1" r="2.6" fill="#1a7a3c" fill-opacity="0.9"/>
<circle cx="456.7" cy="1304.9" r="2.6" fill="#1d7c3f" fill-opacity="0.9"/>
<circle cx="465.4" cy="1310.1" r="2.6" fill="#227e42" fill-opacity="0.9"/>
<circle cx="455.8" cy="1318.9" r="2.6" fill="#298349" fill-opacity="0.9"/>
<circle cx="459.0" cy="1321.2" r="2.6" fill="#2b844a" fill-opacity="0.9"/>
<circle cx="509.8" cy="1300.9" r="2.6" fill="#1a7a3c" fill-opacity="0.9"/>
<circle cx="502.8" cy="1306.6" r="2.6" fill="#1f7d40" fill-opacity="0.9"/>
<circle cx="504.9" cy="1307.9" r="2.6" fill="#207d41" fill-opacity="0.9"/>
<circle cx="518.5" cy="1300.5" r="2.6" fill="#1a7a3c" fill-opacity="0.9"/>
<circle cx="518.0" cy="1302.6" r="2.6" fill="#1b7b3d" fill-opacity="0.9"/>
<circle cx="547.7" cy="1302.8" r="2.6" fill="#1b7b3d" fill-opacity="0.9"/>
<circle cx="560.5" cy="1304.2" r="2.6" fill="#1c7b3e" fill-opacity="0.9"/>
<circle cx="530.9" cy="1312.7" r="2.6" fill="#248044" fill-opacity="0.9"/>
<circle cx="544.3" cy="1311.3" r="2.6" fill="#227f43" fill-opacity="0.9"/>
<circle cx="553.0" cy="1321.9" r="2.6" fill="#2b844b" fill-opacity="0.9"/>
<circle cx="554.2" cy="1325.1" r="2.6" fill="#2e864d" fill-opacity="0.9"/>
<circle cx="562.8" cy="1317.6" r="2.6" fill="#288248" fill-opacity="0.9"/>
<circle cx="567.4" cy="1317.6" r="2.6" fill="#288248" fill-opacity="0.9"/>
<circle cx="575.8" cy="1316.6" r="2.6" fill="#278247" fill-opacity="0.9"/>
<circle cx="579.2" cy="1319.6" r="2.6" fill="#298349" fill-opacity="0.9"/>
<circle cx="578.6" cy="1308.7" r="2.6" fill="#207e41" fill-opacity="0.9"/>
<circle cx="495.2" cy="1207.2" r="2.6" fill="#055222" fill-opacity="0.92"/>
<circle cx="431.3" cy="1225.9" r="2.6" fill="#055222" fill-opacity="0.92"/>
<circle cx="433.4" cy="1227.1" r="2.6" fill="#055222" fill-opacity="0.92"/>
<circle cx="513.3" cy="1237.0" r="2.6" fill="#055222" fill-opacity="0.92"/>
<circle cx="461.4" cy="1252.2" r="2.6" fill="#055222" fill-opacity="0.92"/>
<circle cx="472.4" cy="1247.5" r="2.6" fill="#055222" fill-opacity="0.92"/>
<circle cx="519.8" cy="1255.2" r="2.6" fill="#055222" fill-opacity="0.92"/>
<circle cx="486.5" cy="1256.6" r="2.6" fill="#055222" fill-opacity="0.92"/>
<circle cx="450.9" cy="1265.3" r="2.6" fill="#055222" fill-opacity="0.92"/>
<circle cx="462.8" cy="1265.7" r="2.6" fill="#055222" fill-opacity="0.92"/>
<circle cx="464.6" cy="1268.0" r="2.6" fill="#055222" fill-opacity="0.92"/>
<circle cx="469.5" cy="1267.1" r="2.6" fill="#055222" fill-opacity="0.92"/>
<circle cx="478.6" cy="1273.2" r="2.6" fill="#055222" fill-opacity="0.92"/>
<circle cx="520.3" cy="1262.2" r="2.6" fill="#055222" fill-opacity="0.92"/>
<circle cx="519.2" cy="1267.1" r="2.6" fill="#055222" fill-opacity="0.92"/>
<circle cx="523.3" cy="1261.0" r="2.6" fill="#055222" fill-opacity="0.92"/>
<circle cx="527.0" cy="1251.5" r="2.6" fill="#055222" fill-opacity="0.92"/>
<circle cx="533.9" cy="1258.0" r="2.6" fill="#055222" fill-opacity="0.92"/>
<circle cx="544.7" cy="1255.0" r="2.6" fill="#055222" fill-opacity="0.92"/>
<circle cx="547.1" cy="1254.1" r="2.6" fill="#055222" fill-opacity="0.92"/>
<circle cx="549.0" cy="1254.1" r="2.6" fill="#055222" fill-opacity="0.92"/>
<circle cx="565.4" cy="1253.1" r="2.6" fill="#055222" fill-opacity="0.92"/>
<circle cx="570.7" cy="1259.4" r="2.6" fill="#055222" fill-opacity="0.92"/>
<circle cx="576.6" cy="1263.9" r="2.6" fill="#055222" fill-opacity="0.92"/>
<text class="tt" x="518.8" y="1146.2" textLength="195.4" lengthAdjust="spacingAndGlyphs">Wasserstein barycenter for cluster 9</text>
<polygon points="408.4,1762.2 611.9,1742.5 614.6,1547.2 403.5,1562.4" fill="#f2f2f2"/>
<polygon points="611.9,1742.5 678.8,1821.2 684.4,1608.1 614.6,1547.2" fill="#f8f8f8"/>
<polygon points="408.4,1762.2 611.9,1742.5 678.8,1821.2 455.6,1845.2" fill="#f5f5f5"/>
<path d="M667.1 1822.4L601.2 1743.6L603.5 1548.0M627.0 1826.8L564.6 1747.1L565.5 1550.8M586.5 1831.1L527.6 1750.7L527.2 1553.5M545.5 1835.5L490.2 1754.3L488.4 1556.3M504.1 1840.0L452.5 1757.9L449.3 1559.1M462.3 1844.5L414.5 1761.6L409.8 1562.0M410.1 1765.1L614.3 1745.3L617.0 1549.4M418.1 1779.3L625.7 1758.8L629.0 1559.8M426.5 1794.0L637.6 1772.7L641.3 1570.6M435.2 1809.2L649.9 1787.2L654.1 1581.7M444.2 1825.0L662.6 1802.1L667.5 1593.3M453.5 1841.4L675.8 1817.7L681.3 1605.4M408.1 1749.8L612.1 1730.4L679.2 1808.0M407.2 1714.3L612.5 1695.7L680.2 1770.3M406.3 1678.4L613.0 1660.6L681.2 1732.0M405.5 1642.1L613.5 1625.0L682.2 1693.2M404.6 1605.2L614.0 1589.0L683.2 1653.9M403.7 1567.8L614.5 1552.5L684.3 1613.9" fill="none" stroke="#c8c8c8" stroke-width="1.0"/>
<path d="M403.5 1562.4L408.4 1762.2L455.6 1845.2L678.8 1821.2" fill="none" stroke="#505050" stroke-width="1.0"/>
<path d="M404.2 1750.1L410.3 1749.5M403.3 1714.7L409.4 1714.1M402.5 1678.8L408.5 1678.2M401.6 1642.4L407.7 1641.9M400.7 1605.5L406.8 1605.0M399.8 1568.1L405.9 1567.7M405.6 1765.6L411.6 1765.0M413.6 1779.8L419.6 1779.2M422.0 1794.4L428.0 1793.8M430.7 1809.7L436.6 1809.1M439.7 1825.5L445.6 1824.9M449.0 1841.9L455.0 1841.3M669.7 1825.5L666.2 1821.3M629.5 1829.9L626.1 1825.6M588.8 1834.3L585.6 1829.9M547.8 1838.8L544.7 1834.3M506.3 1843.3L503.3 1838.7M464.3 1847.9L461.6 1843.2" fill="none" stroke="#3a3a3a" stroke-width="1.0"/>
<g class="tl"><text x="395.4" y="1754.9" textLength="14.0" lengthAdjust="spacingAndGlyphs">0.0</text><text x="394.5" y="1719.5" textLength="14.0" lengthAdjust="spacingAndGlyphs">0.2</text><text x="393.6" y="1683.6" textLength="14.0" lengthAdjust="spacingAndGlyphs">0.4</text><text x="392.8" y="1647.2" textLength="14.0" lengthAdjust="spacingAndGlyphs">0.6</text><text x="391.9" y="1610.3" textLength="14.0" lengthAdjust="spacingAndGlyphs">0.8</text><text x="391.0" y="1573.0" textLength="14.0" lengthAdjust="spacingAndGlyphs">1.0</text><text x="399.6" y="1783.8" textLength="14.0" lengthAdjust="spacingAndGlyphs">0.0</text><text x="407.6" y="1798.0" textLength="14.0" lengthAdjust="spacingAndGlyphs">0.2</text><text x="416.0" y="1812.6" textLength="14.0" lengthAdjust="spacingAndGlyphs">0.4</text><text x="424.7" y="1827.9" textLength="14.0" lengthAdjust="spacingAndGlyphs">0.6</text><text x="433.7" y="1843.7" textLength="14.0" lengthAdjust="spacingAndGlyphs">0.8</text><text x="443.0" y="1860.1" textLength="14.0" lengthAdjust="spacingAndGlyphs">1.0</text><text x="669.9" y="1844.4" textLength="14.0" lengthAdjust="spacingAndGlyphs">0.0</text><text x="629.8" y="1848.7" textLength="14.0" lengthAdjust="spacingAndGlyphs">0.2</text><text x="589.2" y="1853.1" textLength="14.0" lengthAdjust="spacingAndGlyphs">0.4</text><text x="548.3" y="1857.5" textLength="14.0" lengthAdjust="spacingAndGlyphs">0.6</text><text x="506.9" y="1861.9" textLength="14.0" lengthAdjust="spacingAndGlyphs">0.8</text><text x="465.1" y="1866.4" textLength="14.0" lengthAdjust="spacingAndGlyphs">1.0</text></g>
<text class="al" transform="translate(381.5 1660.3) rotate(-90)" textLength="20.2" lengthAdjust="spacingAndGlyphs">time</text>
<text class="al" transform="translate(409.2 1825.0) rotate(60)" dy="3.4" textLength="36.1" lengthAdjust="spacingAndGlyphs">mobility</text>
<text class="al" transform="translate(575.6 1865.3) rotate(-6)" dy="2.5" textLength="46.6" lengthAdjust="spacingAndGlyphs">new cases</text>
<line x1="374.4" y1="1509" x2="374.4" y2="1876" stroke="#e4e4e4" stroke-width="1" stroke-dasharray="1 3"/>
<circle cx="603.1" cy="1747.5" r="2.6" fill="#e4f4e1" fill-opacity="0.8"/>
<circle cx="620.4" cy="1770.0" r="2.6" fill="#e7f6e5" fill-opacity="0.8"/>
<circle cx="622.4" cy="1764.1" r="2.6" fill="#e7f5e4" fill-opacity="0.8"/>
<circle cx="625.1" cy="1778.4" r="2.6" fill="#e8f6e6" fill-opacity="0.8"/>
<circle cx="634.2" cy="1783.4" r="2.6" fill="#e8f6e6" fill-opacity="0.8"/>
<circle cx="642.9" cy="1786.9" r="2.6" fill="#e8f6e6" fill-opacity="0.8"/>
<circle cx="657.9" cy="1801.1" r="2.6" fill="#e8f6e6" fill-opacity="0.8"/>
<circle cx="620.7" cy="1763.1" r="2.6" fill="#e6f5e4" fill-opacity="0.8"/>
<circle cx="623.6" cy="1766.0" r="2.6" fill="#e7f5e4" fill-opacity="0.8"/>
<circle cx="621.9" cy="1771.2" r="2.6" fill="#e8f6e5" fill-opacity="0.8"/>
<circle cx="624.8" cy="1777.1" r="2.6" fill="#e8f6e6" fill-opacity="0.8"/>
<circle cx="627.5" cy="1780.0" r="2.6" fill="#e8f6e6" fill-opacity="0.8"/>
<circle cx="630.7" cy="1774.7" r="2.6" fill="#e8f6e5" fill-opacity="0.8"/>
<circle cx="633.0" cy="1781.8" r="2.6" fill="#e8f6e6" fill-opacity="0.8"/>
<circle cx="635.9" cy="1784.7" r="2.6" fill="#e8f6e6" fill-opacity="0.8"/>
<circle cx="634.7" cy="1770.1" r="2.6" fill="#e7f6e5" fill-opacity="0.8"/>
<circle cx="598.5" cy="1738.5" r="2.6" fill="#e3f4e0" fill-opacity="0.8"/>
<circle cx="516.8" cy="1652.1" r="2.6" fill="#bce3b7" fill-opacity="0.82"/>
<circle cx="478.0" cy="1664.9" r="2.6" fill="#bce3b7" fill-opacity="0.82"/>
<circle cx="493.8" cy="1676.2" r="2.6" fill="#bce3b7" fill-opacity="0.82"/>
<circle cx="464.6" cy="1686.1" r="2.6" fill="#bde3b8" fill-opacity="0.82"/>
<circle cx="467.0" cy="1697.6" r="2.6" fill="#c0e5bb" fill-opacity="0.82"/>
<circle cx="513.2" cy="1691.2" r="2.6" fill="#bee4b9" fill-opacity="0.82"/>
<circle cx="509.0" cy="1694.9" r="2.6" fill="#bfe4ba" fill-opacity="0.82"/>
<circle cx="512.1" cy="1701.3" r="2.6" fill="#c1e5bc" fill-opacity="0.82"/>
<circle cx="514.5" cy="1716.4" r="2.6" fill="#c4e7c0" fill-opacity="0.82"/>
<circle cx="525.4" cy="1712.8" r="2.6" fill="#c4e6bf" fill-opacity="0.82"/>
<circle cx="527.2" cy="1720.8" r="2.6" fill="#c6e7c1" fill-opacity="0.82"/>
<circle cx="532.7" cy="1718.3" r="2.6" fill="#c5e7c1" fill-opacity="0.82"/>
<circle cx="538.7" cy="1717.2" r="2.6" fill="#c5e7c0" fill-opacity="0.82"/>
<circle cx="528.5" cy="1727.4" r="2.6" fill="#c7e8c3" fill-opacity="0.82"/>
<circle cx="539.5" cy="1731.8" r="2.6" fill="#c8e8c4" fill-opacity="0.82"/>
<circle cx="551.8" cy="1685.2" r="2.6" fill="#bde3b8" fill-opacity="0.82"/>
<circle cx="562.7" cy="1684.4" r="2.6" fill="#bde3b8" fill-opacity="0.82"/>
<circle cx="554.8" cy="1695.1" r="2.6" fill="#bfe4ba" fill-opacity="0.82"/>
<circle cx="566.0" cy="1695.1" r="2.6" fill="#bfe4ba" fill-opacity="0.82"/>
<circle cx="541.0" cy="1704.1" r="2.6" fill="#c1e5bd" fill-opacity="0.82"/>
<circle cx="578.4" cy="1718.7" r="2.6" fill="#c5e7c1" fill-opacity="0.82"/>
<circle cx="583.0" cy="1715.4" r="2.6" fill="#c4e6c0" fill-opacity="0.82"/>
<circle cx="541.0" cy="1717.3" r="2.6" fill="#c5e7c0" fill-opacity="0.82"/>
<circle cx="550.2" cy="1716.4" r="2.6" fill="#c4e7c0" fill-opacity="0.82"/>
<circle cx="568.6" cy="1719.9" r="2.6" fill="#c5e7c1" fill-opacity="0.82"/>
<circle cx="570.5" cy="1723.8" r="2.6" fill="#c6e7c2" fill-opacity="0.82"/>
<circle cx="557.3" cy="1731.1" r="2.6" fill="#c8e8c4" fill-opacity="0.82"/>
<circle cx="563.3" cy="1733.1" r="2.6" fill="#c9e8c5" fill-opacity="0.82"/>
<circle cx="575.1" cy="1735.7" r="2.6" fill="#c9e9c5" fill-opacity="0.82"/>
<circle cx="584.9" cy="1728.6" r="2.6" fill="#c7e8c3" fill-opacity="0.82"/>
<circle cx="588.9" cy="1735.7" r="2.6" fill="#c9e9c5" fill-opacity="0.82"/>
<circle cx="591.6" cy="1739.0" r="2.6" fill="#cae9c6" fill-opacity="0.82"/>
<circle cx="595.6" cy="1745.5" r="2.6" fill="#cceac8" fill-opacity="0.82"/>
<circle cx="599.5" cy="1753.4" r="2.6" fill="#ceeaca" fill-opacity="0.82"/>
<circle cx="607.0" cy="1758.7" r="2.6" fill="#cfebcb" fill-opacity="0.82"/>
<circle cx="612.5" cy="1752.8" r="2.6" fill="#cdeaca" fill-opacity="0.82"/>
<circle cx="613.3" cy="1756.8" r="2.6" fill="#ceebcb" fill-opacity="0.82"/>
<circle cx="595.0" cy="1745.5" r="2.6" fill="#cceac8" fill-opacity="0.82"/>
<circle cx="612.6" cy="1753.1" r="2.6" fill="#ceeaca" fill-opacity="0.82"/>
<circle cx="614.9" cy="1757.2" r="2.6" fill="#cfebcb" fill-opacity="0.82"/>
<circle cx="482.2" cy="1597.7" r="2.6" fill="#8acd91" fill-opacity="0.85"/>
<circle cx="532.7" cy="1602.5" r="2.6" fill="#8acd91" fill-opacity="0.85"/>
<circle cx="471.9" cy="1614.7" r="2.6" fill="#8acd91" fill-opacity="0.85"/>
<circle cx="486.2" cy="1613.8" r="2.6" fill="#8acd91" fill-opacity="0.85"/>
<circle cx="462.8" cy="1626.9" r="2.6" fill="#8acd91" fill-opacity="0.85"/>
<circle cx="444.6" cy="1628.0" r="2.6" fill="#8acd91" fill-opacity="0.85"/>
<circle cx="479.8" cy="1622.0" r="2.6" fill="#8acd91" fill-opacity="0.85"/>
<circle cx="485.3" cy="1620.7" r="2.6" fill="#8acd91" fill-opacity="0.85"/>
<circle cx="493.5" cy="1622.0" r="2.6" fill="#8acd91" fill-opacity="0.85"/>
<circle cx="507.7" cy="1622.0" r="2.6" fill="#8acd91" fill-opacity="0.85"/>
<circle cx="494.4" cy="1628.0" r="2.6" fill="#8acd91" fill-opacity="0.85"/>
<circle cx="500.4" cy="1633.0" r="2.6" fill="#8acd91" fill-opacity="0.85"/>
<circle cx="522.3" cy="1633.9" r="2.6" fill="#8acd91" fill-opacity="0.85"/>
<circle cx="534.5" cy="1633.9" r="2.6" fill="#8acd91" fill-opacity="0.85"/>
<circle cx="434.2" cy="1635.7" r="2.6" fill="#8acd91" fill-opacity="0.85"/>
<circle cx="437.8" cy="1638.4" r="2.6" fill="#8acd91" fill-opacity="0.85"/>
<circle cx="435.1" cy="1642.1" r="2.6" fill="#8acd91" fill-opacity="0.85"/>
<circle cx="466.5" cy="1638.4" r="2.6" fill="#8acd91" fill-opacity="0.85"/>
<circle cx="472.5" cy="1643.9" r="2.6" fill="#8acd91" fill-opacity="0.85"/>
<circle cx="505.9" cy="1641.2" r="2.6" fill="#8acd91" fill-opacity="0.85"/>
<circle cx="537.3" cy="1640.3" r="2.6" fill="#8acd91" fill-opacity="0.85"/>
<circle cx="431.8" cy="1648.1" r="2.6" fill="#8acd91" fill-opacity="0.85"/>
<circle cx="454.8" cy="1645.2" r="2.6" fill="#8acd91" fill-opacity="0.85"/>
<circle cx="480.3" cy="1647.6" r="2.6" fill="#8acd91" fill-opacity="0.85"/>
<circle cx="490.2" cy="1650.3" r="2.6" fill="#8acd91" fill-opacity="0.85"/>
<circle cx="532.2" cy="1644.5" r="2.6" fill="#8acd91" fill-opacity="0.85"/>
<circle cx="436.5" cy="1655.8" r="2.6" fill="#8acd91" fill-opacity="0.85"/>
<circle cx="453.3" cy="1659.1" r="2.6" fill="#8acd91" fill-opacity="0.85"/>
<circle cx="482.5" cy="1654.3" r="2.6" fill="#8acd91" fill-opacity="0.85"/>
<circle cx="427.4" cy="1660.9" r="2.6" fill="#8acd91" fill-opacity="0.85"/>
<circle cx="479.8" cy="1670.0" r="2.6" fill="#8acd91" fill-opacity="0.85"/>
<circle cx="506.6" cy="1665.3" r="2.6" fill="#8acd91" fill-opacity="0.85"/>
<circle cx="510.3" cy="1667.6" r="2.6" fill="#8acd91" fill-opacity="0.85"/>
<circle cx="488.0" cy="1671.3" r="2.6" fill="#8acd91" fill-opacity="0.85"/>
<circle cx="493.1" cy="1670.7" r="2.6" fill="#8acd91" fill-opacity="0.85"/>
<circle cx="432.3" cy="1671.8" r="2.6" fill="#8acd91" fill-opacity="0.85"/>
<circle cx="436.5" cy="1673.1" r="2.6" fill="#8acd91" fill-opacity="0.85"/>
<circle cx="451.5" cy="1675.8" r="2.6" fill="#8acd91" fill-opacity="0.85"/>
<circle cx="515.0" cy="1671.3" r="2.6" fill="#8acd91" fill-opacity="0.85"/>
<circle cx="531.8" cy="1671.3" r="2.6" fill="#8acd91" fill-opacity="0.85"/>
<circle cx="448.2" cy="1679.1" r="2.6" fill="#8acd91" fill-opacity="0.85"/>
<circle cx="454.2" cy="1679.5" r="2.6" fill="#8acd91" fill-opacity="0.85"/>
<circle cx="542.4" cy="1607.8" r="2.6" fill="#8acd91" fill-opacity="0.85"/>
<circle cx="547.5" cy="1613.0" r="2.6" fill="#8acd91" fill-opacity="0.85"/>
<circle cx="549.5" cy="1618.9" r="2.6" fill="#8acd91" fill-opacity="0.85"/>
<circle cx="547.9" cy="1620.8" r="2.6" fill="#8acd91" fill-opacity="0.85"/>
<circle cx="556.2" cy="1655.7" r="2.6" fill="#8acd91" fill-opacity="0.85"/>
<circle cx="562.1" cy="1653.8" r="2.6" fill="#8acd91" fill-opacity="0.85"/>
<circle cx="557.7" cy="1658.7" r="2.6" fill="#8acd91" fill-opacity="0.85"/>
<circle cx="548.9" cy="1662.6" r="2.6" fill="#8acd91" fill-opacity="0.85"/>
<circle cx="556.2" cy="1669.5" r="2.6" fill="#8acd91" fill-opacity="0.85"/>
<circle cx="565.6" cy="1674.5" r="2.6" fill="#8acd91" fill-opacity="0.85"/>
<circle cx="577.8" cy="1678.4" r="2.6" fill="#8acd91" fill-opacity="0.85"/>
<circle cx="551.8" cy="1679.4" r="2.6" fill="#8acd91" fill-opacity="0.85"/>
<circle cx="448.8" cy="1689.8" r="2.6" fill="#8dce94" fill-opacity="0.85"/>
<circle cx="485.3" cy="1690.9" r="2.6" fill="#8ecf95" fill-opacity="0.85"/>
<circle cx="487.6" cy="1692.7" r="2.6" fill="#8fcf95" fill-opacity="0.85"/>
<circle cx="464.6" cy="1706.8" r="2.6" fill="#95d29b" fill-opacity="0.85"/>
<circle cx="471.9" cy="1702.2" r="2.6" fill="#93d199" fill-opacity="0.85"/>
<circle cx="472.5" cy="1706.8" r="2.6" fill="#95d29b" fill-opacity="0.85"/>
<circle cx="492.6" cy="1703.7" r="2.6" fill="#93d19a" fill-opacity="0.85"/>
<circle cx="495.7" cy="1696.4" r="2.6" fill="#90d097" fill-opacity="0.85"/>
<circle cx="509.5" cy="1684.9" r="2.6" fill="#8bce92" fill-opacity="0.85"/>
<circle cx="512.6" cy="1684.9" r="2.6" fill="#8bce92" fill-opacity="0.85"/>
<circle cx="515.7" cy="1683.0" r="2.6" fill="#8acd91" fill-opacity="0.85"/>
<circle cx="523.6" cy="1702.6" r="2.6" fill="#93d199" fill-opacity="0.85"/>
<circle cx="533.2" cy="1692.7" r="2.6" fill="#8fcf95" fill-opacity="0.85"/>
<circle cx="536.4" cy="1693.4" r="2.6" fill="#8fcf96" fill-opacity="0.85"/>
<circle cx="537.6" cy="1704.4" r="2.6" fill="#94d19a" fill-opacity="0.85"/>
<circle cx="477.0" cy="1715.3" r="2.6" fill="#98d39f" fill-opacity="0.85"/>
<circle cx="475.2" cy="1718.6" r="2.6" fill="#9ad4a0" fill-opacity="0.85"/>
<circle cx="479.8" cy="1719.5" r="2.6" fill="#9ad4a0" fill-opacity="0.85"/>
<circle cx="497.1" cy="1719.0" r="2.6" fill="#9ad4a0" fill-opacity="0.85"/>
<circle cx="499.9" cy="1716.8" r="2.6" fill="#99d39f" fill-opacity="0.85"/>
<circle cx="508.4" cy="1720.8" r="2.6" fill="#9bd4a1" fill-opacity="0.85"/>
<circle cx="521.8" cy="1728.7" r="2.6" fill="#9ed6a4" fill-opacity="0.85"/>
<circle cx="525.9" cy="1732.9" r="2.6" fill="#a0d6a6" fill-opacity="0.85"/>
<circle cx="543.5" cy="1681.9" r="2.6" fill="#8acd91" fill-opacity="0.85"/>
<circle cx="558.7" cy="1689.8" r="2.6" fill="#8dce94" fill-opacity="0.85"/>
<circle cx="574.5" cy="1688.8" r="2.6" fill="#8dce94" fill-opacity="0.85"/>
<circle cx="573.5" cy="1693.1" r="2.6" fill="#8fcf96" fill-opacity="0.85"/>
<circle cx="543.5" cy="1710.4" r="2.6" fill="#96d29d" fill-opacity="0.85"/>
<circle cx="587.7" cy="1720.3" r="2.6" fill="#9bd4a1" fill-opacity="0.85"/>
<circle cx="588.3" cy="1723.3" r="2.6" fill="#9cd5a2" fill-opacity="0.85"/>
<circle cx="590.8" cy="1727.8" r="2.6" fill="#9ed5a4" fill-opacity="0.85"/>
<circle cx="559.3" cy="1724.6" r="2.6" fill="#9cd5a2" fill-opacity="0.85"/>
<circle cx="541.0" cy="1731.7" r="2.6" fill="#9fd6a5" fill-opacity="0.85"/>
<circle cx="546.9" cy="1733.7" r="2.6" fill="#a0d7a6" fill-opacity="0.85"/>
<circle cx="555.4" cy="1735.7" r="2.6" fill="#a1d7a7" fill-opacity="0.85"/>
<circle cx="570.0" cy="1731.7" r="2.6" fill="#9fd6a5" fill-opacity="0.85"/>
<circle cx="570.5" cy="1737.6" r="2.6" fill="#a2d7a8" fill-opacity="0.85"/>
<circle cx="559.7" cy="1745.5" r="2.6" fill="#a5d9ab" fill-opacity="0.85"/>
<circle cx="565.2" cy="1742.4" r="2.6" fill="#a4d8a9" fill-opacity="0.85"/>
<circle cx="571.9" cy="1749.5" r="2.6" fill="#a7d9ac" fill-opacity="0.85"/>
<circle cx="446.4" cy="1595.5" r="2.6" fill="#3a9a5a" fill-opacity="0.88"/>
<circle cx="451.1" cy="1593.7" r="2.6" fill="#3a9a5a" fill-opacity="0.88"/>
<circle cx="465.2" cy="1595.5" r="2.6" fill="#3a9a5a" fill-opacity="0.88"/>
<circle cx="480.3" cy="1591.0" r="2.6" fill="#3a9a5a" fill-opacity="0.88"/>
<circle cx="487.1" cy="1587.9" r="2.6" fill="#3a9a5a" fill-opacity="0.88"/>
<circle cx="489.8" cy="1597.4" r="2.6" fill="#3a9a5a" fill-opacity="0.88"/>
<circle cx="498.6" cy="1590.4" r="2.6" fill="#3a9a5a" fill-opacity="0.88"/>
<circle cx="504.1" cy="1590.1" r="2.6" fill="#3a9a5a" fill-opacity="0.88"/>
<circle cx="516.8" cy="1594.6" r="2.6" fill="#3a9a5a" fill-opacity="0.88"/>
<circle cx="521.8" cy="1600.1" r="2.6" fill="#3a9a5a" fill-opacity="0.88"/>
<circle cx="526.7" cy="1578.2" r="2.6" fill="#3a9a5a" fill-opacity="0.88"/>
<circle cx="531.4" cy="1582.4" r="2.6" fill="#3a9a5a" fill-opacity="0.88"/>
<circle cx="537.6" cy="1585.5" r="2.6" fill="#3a9a5a" fill-opacity="0.88"/>
<circle cx="527.8" cy="1612.0" r="2.6" fill="#3a9a5a" fill-opacity="0.88"/>
<circle cx="450.0" cy="1612.9" r="2.6" fill="#3a9a5a" fill-opacity="0.88"/>
<circle cx="453.3" cy="1623.3" r="2.6" fill="#3a9a5a" fill-opacity="0.88"/>
<circle cx="457.9" cy="1625.1" r="2.6" fill="#3a9a5a" fill-opacity="0.88"/>
<circle cx="459.7" cy="1641.2" r="2.6" fill="#3a9a5a" fill-opacity="0.88"/>
<circle cx="448.8" cy="1653.9" r="2.6" fill="#3a9a5a" fill-opacity="0.88"/>
<circle cx="445.7" cy="1659.1" r="2.6" fill="#3a9a5a" fill-opacity="0.88"/>
<circle cx="520.8" cy="1659.8" r="2.6" fill="#3a9a5a" fill-opacity="0.88"/>
<circle cx="459.7" cy="1669.5" r="2.6" fill="#3a9a5a" fill-opacity="0.88"/>
<circle cx="447.5" cy="1674.4" r="2.6" fill="#3a9a5a" fill-opacity="0.88"/>
<circle cx="515.4" cy="1678.0" r="2.6" fill="#3a9a5a" fill-opacity="0.88"/>
<circle cx="552.2" cy="1590.1" r="2.6" fill="#3a9a5a" fill-opacity="0.88"/>
<circle cx="544.3" cy="1603.9" r="2.6" fill="#3a9a5a" fill-opacity="0.88"/>
<circle cx="562.7" cy="1670.1" r="2.6" fill="#3a9a5a" fill-opacity="0.88"/>
<circle cx="468.3" cy="1686.7" r="2.6" fill="#3d9c5d" fill-opacity="0.88"/>
<circle cx="462.1" cy="1696.7" r="2.6" fill="#459f63" fill-opacity="0.88"/>
<circle cx="461.5" cy="1702.6" r="2.6" fill="#49a267" fill-opacity="0.88"/>
<circle cx="468.8" cy="1704.9" r="2.6" fill="#4ba368" fill-opacity="0.88"/>
<circle cx="482.2" cy="1701.3" r="2.6" fill="#48a166" fill-opacity="0.88"/>
<circle cx="500.8" cy="1699.5" r="2.6" fill="#47a065" fill-opacity="0.88"/>
<circle cx="516.3" cy="1702.6" r="2.6" fill="#49a267" fill-opacity="0.88"/>
<circle cx="528.1" cy="1700.0" r="2.6" fill="#47a165" fill-opacity="0.88"/>
<circle cx="537.3" cy="1700.0" r="2.6" fill="#47a165" fill-opacity="0.88"/>
<circle cx="471.9" cy="1714.1" r="2.6" fill="#51a66d" fill-opacity="0.88"/>
<circle cx="579.8" cy="1696.3" r="2.6" fill="#449f63" fill-opacity="0.88"/>
<circle cx="583.0" cy="1698.6" r="2.6" fill="#46a064" fill-opacity="0.88"/>
<circle cx="560.1" cy="1699.6" r="2.6" fill="#47a165" fill-opacity="0.88"/>
<circle cx="547.5" cy="1702.6" r="2.6" fill="#49a267" fill-opacity="0.88"/>
<circle cx="552.2" cy="1711.4" r="2.6" fill="#4fa56c" fill-opacity="0.88"/>
<circle cx="570.5" cy="1710.1" r="2.6" fill="#4ea46b" fill-opacity="0.88"/>
<circle cx="581.0" cy="1710.1" r="2.6" fill="#4ea46b" fill-opacity="0.88"/>
<circle cx="591.6" cy="1713.4" r="2.6" fill="#51a66d" fill-opacity="0.88"/>
<circle cx="592.2" cy="1716.8" r="2.6" fill="#53a76f" fill-opacity="0.88"/>
<circle cx="444.2" cy="1600.7" r="2.6" fill="#1a7a3c" fill-opacity="0.9"/>
<circle cx="446.9" cy="1601.9" r="2.6" fill="#1a7a3c" fill-opacity="0.9"/>
<circle cx="455.5" cy="1603.2" r="2.6" fill="#1a7a3c" fill-opacity="0.9"/>
<circle cx="469.7" cy="1595.5" r="2.6" fill="#1a7a3c" fill-opacity="0.9"/>
<circle cx="474.3" cy="1592.8" r="2.6" fill="#1a7a3c" fill-opacity="0.9"/>
<circle cx="493.8" cy="1603.8" r="2.6" fill="#1a7a3c" fill-opacity="0.9"/>
<circle cx="503.5" cy="1585.5" r="2.6" fill="#1a7a3c" fill-opacity="0.9"/>
<circle cx="505.9" cy="1597.7" r="2.6" fill="#1a7a3c" fill-opacity="0.9"/>
<circle cx="531.4" cy="1594.1" r="2.6" fill="#1a7a3c" fill-opacity="0.9"/>
<circle cx="528.1" cy="1605.6" r="2.6" fill="#1a7a3c" fill-opacity="0.9"/>
<circle cx="538.7" cy="1611.1" r="2.6" fill="#1a7a3c" fill-opacity="0.9"/>
<circle cx="446.4" cy="1617.8" r="2.6" fill="#1a7a3c" fill-opacity="0.9"/>
<circle cx="449.3" cy="1618.9" r="2.6" fill="#1a7a3c" fill-opacity="0.9"/>
<circle cx="473.8" cy="1608.3" r="2.6" fill="#1a7a3c" fill-opacity="0.9"/>
<circle cx="480.3" cy="1611.6" r="2.6" fill="#1a7a3c" fill-opacity="0.9"/>
<circle cx="465.2" cy="1622.0" r="2.6" fill="#1a7a3c" fill-opacity="0.9"/>
<circle cx="499.9" cy="1624.7" r="2.6" fill="#1a7a3c" fill-opacity="0.9"/>
<circle cx="478.5" cy="1625.7" r="2.6" fill="#1a7a3c" fill-opacity="0.9"/>
<circle cx="489.8" cy="1633.0" r="2.6" fill="#1a7a3c" fill-opacity="0.9"/>
<circle cx="518.1" cy="1626.9" r="2.6" fill="#1a7a3c" fill-opacity="0.9"/>
<circle cx="537.6" cy="1625.7" r="2.6" fill="#1a7a3c" fill-opacity="0.9"/>
<circle cx="462.8" cy="1643.9" r="2.6" fill="#1a7a3c" fill-opacity="0.9"/>
<circle cx="502.2" cy="1640.3" r="2.6" fill="#1a7a3c" fill-opacity="0.9"/>
<circle cx="510.3" cy="1643.4" r="2.6" fill="#1a7a3c" fill-opacity="0.9"/>
<circle cx="475.2" cy="1650.3" r="2.6" fill="#1a7a3c" fill-opacity="0.9"/>
<circle cx="495.7" cy="1645.2" r="2.6" fill="#1a7a3c" fill-opacity="0.9"/>
<circle cx="501.1" cy="1660.3" r="2.6" fill="#1a7a3c" fill-opacity="0.9"/>
<circle cx="518.1" cy="1658.0" r="2.6" fill="#1a7a3c" fill-opacity="0.9"/>
<circle cx="536.9" cy="1664.0" r="2.6" fill="#1a7a3c" fill-opacity="0.9"/>
<circle cx="502.2" cy="1667.6" r="2.6" fill="#1a7a3c" fill-opacity="0.9"/>
<circle cx="504.4" cy="1670.0" r="2.6" fill="#1a7a3c" fill-opacity="0.9"/>
<circle cx="457.3" cy="1676.2" r="2.6" fill="#1a7a3c" fill-opacity="0.9"/>
<circle cx="462.1" cy="1678.0" r="2.6" fill="#1a7a3c" fill-opacity="0.9"/>
<circle cx="470.7" cy="1676.2" r="2.6" fill="#1a7a3c" fill-opacity="0.9"/>
<circle cx="517.6" cy="1674.0" r="2.6" fill="#1a7a3c" fill-opacity="0.9"/>
<circle cx="548.9" cy="1609.4" r="2.6" fill="#1a7a3c" fill-opacity="0.9"/>
<circle cx="571.1" cy="1613.8" r="2.6" fill="#1a7a3c" fill-opacity="0.9"/>
<circle cx="555.4" cy="1632.7" r="2.6" fill="#1a7a3c" fill-opacity="0.9"/>
<circle cx="581.0" cy="1654.4" r="2.6" fill="#1a7a3c" fill-opacity="0.9"/>
<circle cx="559.7" cy="1661.6" r="2.6" fill="#1a7a3c" fill-opacity="0.9"/>
<circle cx="541.6" cy="1668.5" r="2.6" fill="#1a7a3c" fill-opacity="0.9"/>
<circle cx="551.4" cy="1673.5" r="2.6" fill="#1a7a3c" fill-opacity="0.9"/>
<circle cx="575.9" cy="1672.1" r="2.6" fill="#1a7a3c" fill-opacity="0.9"/>
<circle cx="558.1" cy="1679.4" r="2.6" fill="#1a7a3c" fill-opacity="0.9"/>
<circle cx="454.8" cy="1685.4" r="2.6" fill="#1d7c3e" fill-opacity="0.9"/>
<circle cx="484.0" cy="1685.4" r="2.6" fill="#1d7c3e" fill-opacity="0.9"/>
<circle cx="492.6" cy="1683.6" r="2.6" fill="#1b7b3d" fill-opacity="0.9"/>
<circle cx="505.3" cy="1689.1" r="2.6" fill="#207d41" fill-opacity="0.9"/>
<circle cx="531.8" cy="1709.5" r="2.6" fill="#318750" fill-opacity="0.9"/>
<circle cx="559.3" cy="1682.9" r="2.6" fill="#1b7a3d" fill-opacity="0.9"/>
<circle cx="569.2" cy="1685.8" r="2.6" fill="#1d7c3f" fill-opacity="0.9"/>
<circle cx="548.3" cy="1708.1" r="2.6" fill="#30874f" fill-opacity="0.9"/>
<circle cx="558.1" cy="1707.5" r="2.6" fill="#30864e" fill-opacity="0.9"/>
<circle cx="564.0" cy="1706.5" r="2.6" fill="#2f864e" fill-opacity="0.9"/>
<circle cx="566.6" cy="1704.9" r="2.6" fill="#2d854c" fill-opacity="0.9"/>
<circle cx="565.2" cy="1713.4" r="2.6" fill="#348953" fill-opacity="0.9"/>
<circle cx="575.1" cy="1715.4" r="2.6" fill="#368a54" fill-opacity="0.9"/>
<circle cx="473.8" cy="1598.8" r="2.6" fill="#055222" fill-opacity="0.92"/>
<circle cx="477.0" cy="1630.6" r="2.6" fill="#055222" fill-opacity="0.92"/>
<circle cx="479.2" cy="1639.0" r="2.6" fill="#055222" fill-opacity="0.92"/>
<circle cx="485.3" cy="1643.9" r="2.6" fill="#055222" fill-opacity="0.92"/>
<circle cx="494.9" cy="1650.3" r="2.6" fill="#055222" fill-opacity="0.92"/>
<circle cx="498.6" cy="1648.1" r="2.6" fill="#055222" fill-opacity="0.92"/>
<circle cx="528.1" cy="1648.1" r="2.6" fill="#055222" fill-opacity="0.92"/>
<circle cx="524.9" cy="1651.8" r="2.6" fill="#055222" fill-opacity="0.92"/>
<circle cx="534.0" cy="1649.4" r="2.6" fill="#055222" fill-opacity="0.92"/>
<circle cx="461.5" cy="1657.6" r="2.6" fill="#055222" fill-opacity="0.92"/>
<circle cx="554.2" cy="1600.0" r="2.6" fill="#055222" fill-opacity="0.92"/>
<circle cx="575.1" cy="1623.2" r="2.6" fill="#055222" fill-opacity="0.92"/>
<circle cx="570.0" cy="1627.5" r="2.6" fill="#055222" fill-opacity="0.92"/>
<circle cx="555.8" cy="1625.2" r="2.6" fill="#055222" fill-opacity="0.92"/>
<circle cx="546.9" cy="1632.7" r="2.6" fill="#055222" fill-opacity="0.92"/>
<circle cx="544.9" cy="1640.6" r="2.6" fill="#055222" fill-opacity="0.92"/>
<circle cx="551.8" cy="1639.0" r="2.6" fill="#055222" fill-opacity="0.92"/>
<circle cx="584.9" cy="1632.7" r="2.6" fill="#055222" fill-opacity="0.92"/>
<circle cx="584.9" cy="1635.4" r="2.6" fill="#055222" fill-opacity="0.92"/>
<text class="tt" x="533.2" y="1527.0" textLength="202.2" lengthAdjust="spacingAndGlyphs">Wasserstein barycenter for cluster 10</text>
</svg></body></html>
